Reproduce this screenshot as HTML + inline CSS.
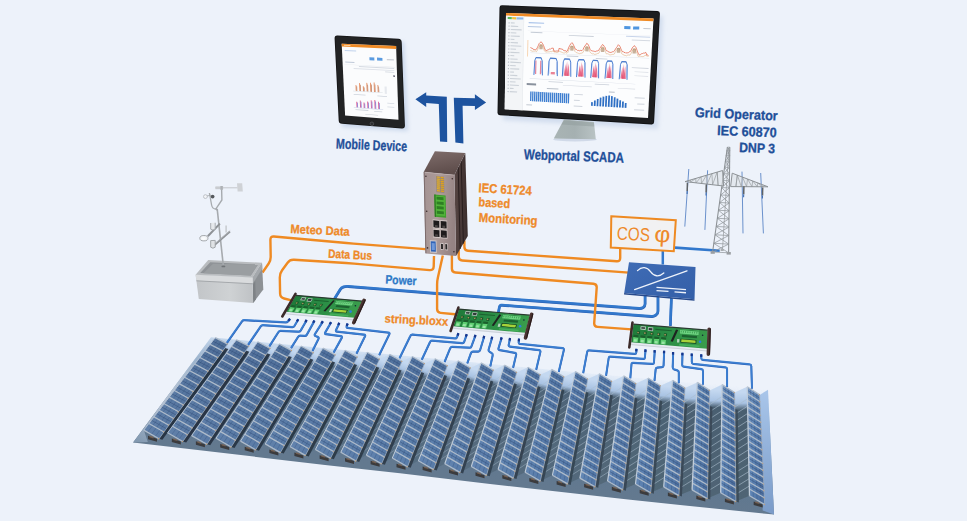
<!DOCTYPE html>
<html><head><meta charset="utf-8"><title>PV monitoring</title>
<style>
html,body{margin:0;padding:0;background:#edf2fa;}
body{width:967px;height:521px;overflow:hidden;font-family:"Liberation Sans",sans-serif;}
svg{display:block}
text{font-family:"Liberation Sans",sans-serif;}
</style></head><body>
<svg width="967" height="521" viewBox="0 0 967 521">
<defs>
<linearGradient id="bg" x1="0" y1="0" x2="1" y2="0"><stop offset="0" stop-color="#edf2fa"/><stop offset="1" stop-color="#f0f4fb"/></linearGradient>
<linearGradient id="gnd" gradientUnits="userSpaceOnUse" x1="420" y1="345" x2="400" y2="500"><stop offset="0" stop-color="#dbe7f5" stop-opacity="0.0"/><stop offset="0.10" stop-color="#c6d9ef" stop-opacity="0.8"/><stop offset="0.28" stop-color="#7f9dbd" stop-opacity="1"/><stop offset="0.6" stop-color="#5f7790"/><stop offset="1" stop-color="#677b8e"/></linearGradient>
<filter id="fblur" x="-2%" y="-5%" width="104%" height="110%"><feGaussianBlur stdDeviation="0.38"/></filter>
<linearGradient id="gndR" gradientUnits="userSpaceOnUse" x1="760" y1="390" x2="770" y2="512"><stop offset="0" stop-color="#a9c6ea"/><stop offset="1" stop-color="#7b9cc9"/></linearGradient>
<linearGradient id="gndL" gradientUnits="userSpaceOnUse" x1="205" y1="340" x2="135" y2="442"><stop offset="0" stop-color="#e6edf7" stop-opacity="0"/><stop offset="0.3" stop-color="#dde6f1" stop-opacity="0.5"/><stop offset="0.65" stop-color="#b4c2d4"/><stop offset="1" stop-color="#8097ae"/></linearGradient>
<linearGradient id="gap0" gradientUnits="userSpaceOnUse" x1="227.7" y1="344.1" x2="159.0" y2="438.8"><stop offset="0" stop-color="#c4d8f0"/><stop offset="0.042" stop-color="#a9c3e3"/><stop offset="0.080" stop-color="rgb(88,112,138)"/><stop offset="1" stop-color="rgb(94,118,142)"/></linearGradient>
<linearGradient id="gap1" gradientUnits="userSpaceOnUse" x1="248.9" y1="346.2" x2="182.8" y2="441.5"><stop offset="0" stop-color="#c4d8f0"/><stop offset="0.045" stop-color="#a9c3e3"/><stop offset="0.084" stop-color="rgb(87,111,136)"/><stop offset="1" stop-color="rgb(93,117,140)"/></linearGradient>
<linearGradient id="gap2" gradientUnits="userSpaceOnUse" x1="270.2" y1="348.4" x2="206.9" y2="444.3"><stop offset="0" stop-color="#c4d8f0"/><stop offset="0.047" stop-color="#a9c3e3"/><stop offset="0.087" stop-color="rgb(86,110,135)"/><stop offset="1" stop-color="rgb(92,116,139)"/></linearGradient>
<linearGradient id="gap3" gradientUnits="userSpaceOnUse" x1="291.7" y1="350.6" x2="231.2" y2="447.0"><stop offset="0" stop-color="#c4d8f0"/><stop offset="0.050" stop-color="#a9c3e3"/><stop offset="0.091" stop-color="rgb(86,109,134)"/><stop offset="1" stop-color="rgb(92,115,138)"/></linearGradient>
<linearGradient id="gap4" gradientUnits="userSpaceOnUse" x1="313.4" y1="352.7" x2="255.7" y2="449.8"><stop offset="0" stop-color="#c4d8f0"/><stop offset="0.052" stop-color="#a9c3e3"/><stop offset="0.095" stop-color="rgb(85,108,133)"/><stop offset="1" stop-color="rgb(91,114,137)"/></linearGradient>
<linearGradient id="gap5" gradientUnits="userSpaceOnUse" x1="335.3" y1="354.9" x2="280.4" y2="452.6"><stop offset="0" stop-color="#c4d8f0"/><stop offset="0.055" stop-color="#a9c3e3"/><stop offset="0.098" stop-color="rgb(84,108,132)"/><stop offset="1" stop-color="rgb(90,114,136)"/></linearGradient>
<linearGradient id="gap6" gradientUnits="userSpaceOnUse" x1="357.4" y1="357.1" x2="305.4" y2="455.4"><stop offset="0" stop-color="#c4d8f0"/><stop offset="0.057" stop-color="#a9c3e3"/><stop offset="0.102" stop-color="rgb(84,107,130)"/><stop offset="1" stop-color="rgb(90,113,134)"/></linearGradient>
<linearGradient id="gap7" gradientUnits="userSpaceOnUse" x1="379.6" y1="359.2" x2="330.6" y2="458.2"><stop offset="0" stop-color="#c4d8f0"/><stop offset="0.060" stop-color="#a9c3e3"/><stop offset="0.105" stop-color="rgb(83,106,129)"/><stop offset="1" stop-color="rgb(89,112,133)"/></linearGradient>
<linearGradient id="gap8" gradientUnits="userSpaceOnUse" x1="402.0" y1="361.4" x2="356.0" y2="461.0"><stop offset="0" stop-color="#c4d8f0"/><stop offset="0.062" stop-color="#a9c3e3"/><stop offset="0.109" stop-color="rgb(82,105,128)"/><stop offset="1" stop-color="rgb(88,111,132)"/></linearGradient>
<linearGradient id="gap9" gradientUnits="userSpaceOnUse" x1="424.6" y1="363.6" x2="381.6" y2="463.8"><stop offset="0" stop-color="#c4d8f0"/><stop offset="0.065" stop-color="#a9c3e3"/><stop offset="0.113" stop-color="rgb(82,105,127)"/><stop offset="1" stop-color="rgb(88,111,131)"/></linearGradient>
<linearGradient id="gap10" gradientUnits="userSpaceOnUse" x1="447.4" y1="365.8" x2="407.5" y2="466.7"><stop offset="0" stop-color="#c4d8f0"/><stop offset="0.067" stop-color="#a9c3e3"/><stop offset="0.116" stop-color="rgb(81,104,126)"/><stop offset="1" stop-color="rgb(87,110,130)"/></linearGradient>
<linearGradient id="gap11" gradientUnits="userSpaceOnUse" x1="470.4" y1="368.0" x2="433.6" y2="469.5"><stop offset="0" stop-color="#c4d8f0"/><stop offset="0.070" stop-color="#a9c3e3"/><stop offset="0.120" stop-color="rgb(81,103,125)"/><stop offset="1" stop-color="rgb(87,109,129)"/></linearGradient>
<linearGradient id="gap12" gradientUnits="userSpaceOnUse" x1="493.5" y1="370.2" x2="460.0" y2="472.4"><stop offset="0" stop-color="#c4d8f0"/><stop offset="0.073" stop-color="#a9c3e3"/><stop offset="0.124" stop-color="rgb(80,102,123)"/><stop offset="1" stop-color="rgb(86,108,127)"/></linearGradient>
<linearGradient id="gap13" gradientUnits="userSpaceOnUse" x1="516.8" y1="372.4" x2="486.5" y2="475.2"><stop offset="0" stop-color="#c4d8f0"/><stop offset="0.075" stop-color="#a9c3e3"/><stop offset="0.127" stop-color="rgb(79,101,122)"/><stop offset="1" stop-color="rgb(85,107,126)"/></linearGradient>
<linearGradient id="gap14" gradientUnits="userSpaceOnUse" x1="540.3" y1="374.7" x2="513.3" y2="478.1"><stop offset="0" stop-color="#c4d8f0"/><stop offset="0.078" stop-color="#a9c3e3"/><stop offset="0.131" stop-color="rgb(79,101,121)"/><stop offset="1" stop-color="rgb(85,107,125)"/></linearGradient>
<linearGradient id="gap15" gradientUnits="userSpaceOnUse" x1="564.0" y1="376.9" x2="540.3" y2="481.0"><stop offset="0" stop-color="#c4d8f0"/><stop offset="0.080" stop-color="#a9c3e3"/><stop offset="0.135" stop-color="rgb(78,100,120)"/><stop offset="1" stop-color="rgb(84,106,124)"/></linearGradient>
<linearGradient id="gap16" gradientUnits="userSpaceOnUse" x1="587.8" y1="379.1" x2="567.6" y2="483.9"><stop offset="0" stop-color="#c4d8f0"/><stop offset="0.083" stop-color="#a9c3e3"/><stop offset="0.138" stop-color="rgb(77,99,119)"/><stop offset="1" stop-color="rgb(83,105,123)"/></linearGradient>
<linearGradient id="gap17" gradientUnits="userSpaceOnUse" x1="611.8" y1="381.4" x2="595.1" y2="486.8"><stop offset="0" stop-color="#c4d8f0"/><stop offset="0.085" stop-color="#a9c3e3"/><stop offset="0.142" stop-color="rgb(77,98,117)"/><stop offset="1" stop-color="rgb(83,104,121)"/></linearGradient>
<linearGradient id="gap18" gradientUnits="userSpaceOnUse" x1="636.0" y1="383.6" x2="622.8" y2="489.7"><stop offset="0" stop-color="#c4d8f0"/><stop offset="0.088" stop-color="#a9c3e3"/><stop offset="0.145" stop-color="rgb(76,98,116)"/><stop offset="1" stop-color="rgb(82,104,120)"/></linearGradient>
<linearGradient id="gap19" gradientUnits="userSpaceOnUse" x1="660.4" y1="385.8" x2="650.7" y2="492.7"><stop offset="0" stop-color="#c4d8f0"/><stop offset="0.090" stop-color="#a9c3e3"/><stop offset="0.149" stop-color="rgb(75,97,115)"/><stop offset="1" stop-color="rgb(81,103,119)"/></linearGradient>
<linearGradient id="gap20" gradientUnits="userSpaceOnUse" x1="685.0" y1="388.1" x2="678.9" y2="495.6"><stop offset="0" stop-color="#c4d8f0"/><stop offset="0.093" stop-color="#a9c3e3"/><stop offset="0.153" stop-color="rgb(75,96,114)"/><stop offset="1" stop-color="rgb(81,102,118)"/></linearGradient>
<linearGradient id="gap21" gradientUnits="userSpaceOnUse" x1="709.7" y1="390.4" x2="707.3" y2="498.6"><stop offset="0" stop-color="#c4d8f0"/><stop offset="0.095" stop-color="#a9c3e3"/><stop offset="0.156" stop-color="rgb(74,95,113)"/><stop offset="1" stop-color="rgb(80,101,117)"/></linearGradient>
<linearGradient id="gap22" gradientUnits="userSpaceOnUse" x1="734.6" y1="392.6" x2="735.9" y2="501.5"><stop offset="0" stop-color="#c4d8f0"/><stop offset="0.098" stop-color="#a9c3e3"/><stop offset="0.160" stop-color="rgb(74,95,112)"/><stop offset="1" stop-color="rgb(80,101,116)"/></linearGradient>
<linearGradient id="pan" x1="0" y1="0" x2="1" y2="0.4"><stop offset="0" stop-color="#6a92c4"/><stop offset="0.5" stop-color="#4f7bb2"/><stop offset="1" stop-color="#3d639a"/></linearGradient>
<linearGradient id="pan0" x1="0" y1="0" x2="1" y2="0.4"><stop offset="0" stop-color="rgb(112,142,180)"/><stop offset="0.5" stop-color="rgb(90,122,164)"/><stop offset="1" stop-color="rgb(74,104,146)"/></linearGradient>
<linearGradient id="pan1" x1="0" y1="0" x2="1" y2="0.4"><stop offset="0" stop-color="rgb(112,142,180)"/><stop offset="0.5" stop-color="rgb(90,122,164)"/><stop offset="1" stop-color="rgb(74,104,146)"/></linearGradient>
<linearGradient id="pan2" x1="0" y1="0" x2="1" y2="0.4"><stop offset="0" stop-color="rgb(112,143,181)"/><stop offset="0.5" stop-color="rgb(90,122,165)"/><stop offset="1" stop-color="rgb(74,104,147)"/></linearGradient>
<linearGradient id="pan3" x1="0" y1="0" x2="1" y2="0.4"><stop offset="0" stop-color="rgb(113,143,182)"/><stop offset="0.5" stop-color="rgb(90,123,166)"/><stop offset="1" stop-color="rgb(74,105,147)"/></linearGradient>
<linearGradient id="pan4" x1="0" y1="0" x2="1" y2="0.4"><stop offset="0" stop-color="rgb(113,144,183)"/><stop offset="0.5" stop-color="rgb(90,123,166)"/><stop offset="1" stop-color="rgb(74,105,148)"/></linearGradient>
<linearGradient id="pan5" x1="0" y1="0" x2="1" y2="0.4"><stop offset="0" stop-color="rgb(114,145,183)"/><stop offset="0.5" stop-color="rgb(90,124,167)"/><stop offset="1" stop-color="rgb(74,105,149)"/></linearGradient>
<linearGradient id="pan6" x1="0" y1="0" x2="1" y2="0.4"><stop offset="0" stop-color="rgb(114,145,184)"/><stop offset="0.5" stop-color="rgb(91,124,168)"/><stop offset="1" stop-color="rgb(75,106,149)"/></linearGradient>
<linearGradient id="pan7" x1="0" y1="0" x2="1" y2="0.4"><stop offset="0" stop-color="rgb(115,146,185)"/><stop offset="0.5" stop-color="rgb(91,125,168)"/><stop offset="1" stop-color="rgb(75,106,150)"/></linearGradient>
<linearGradient id="pan8" x1="0" y1="0" x2="1" y2="0.4"><stop offset="0" stop-color="rgb(115,146,186)"/><stop offset="0.5" stop-color="rgb(91,125,169)"/><stop offset="1" stop-color="rgb(75,106,150)"/></linearGradient>
<linearGradient id="pan9" x1="0" y1="0" x2="1" y2="0.4"><stop offset="0" stop-color="rgb(115,147,187)"/><stop offset="0.5" stop-color="rgb(91,125,170)"/><stop offset="1" stop-color="rgb(75,107,151)"/></linearGradient>
<linearGradient id="pan10" x1="0" y1="0" x2="1" y2="0.4"><stop offset="0" stop-color="rgb(116,148,187)"/><stop offset="0.5" stop-color="rgb(91,126,170)"/><stop offset="1" stop-color="rgb(75,107,152)"/></linearGradient>
<linearGradient id="pan11" x1="0" y1="0" x2="1" y2="0.4"><stop offset="0" stop-color="rgb(116,148,188)"/><stop offset="0.5" stop-color="rgb(91,126,171)"/><stop offset="1" stop-color="rgb(75,107,152)"/></linearGradient>
<linearGradient id="pan12" x1="0" y1="0" x2="1" y2="0.4"><stop offset="0" stop-color="rgb(117,149,189)"/><stop offset="0.5" stop-color="rgb(92,127,172)"/><stop offset="1" stop-color="rgb(76,108,153)"/></linearGradient>
<linearGradient id="pan13" x1="0" y1="0" x2="1" y2="0.4"><stop offset="0" stop-color="rgb(117,149,190)"/><stop offset="0.5" stop-color="rgb(92,127,173)"/><stop offset="1" stop-color="rgb(76,108,153)"/></linearGradient>
<linearGradient id="pan14" x1="0" y1="0" x2="1" y2="0.4"><stop offset="0" stop-color="rgb(118,150,190)"/><stop offset="0.5" stop-color="rgb(92,128,173)"/><stop offset="1" stop-color="rgb(76,108,154)"/></linearGradient>
<linearGradient id="pan15" x1="0" y1="0" x2="1" y2="0.4"><stop offset="0" stop-color="rgb(118,151,191)"/><stop offset="0.5" stop-color="rgb(92,128,174)"/><stop offset="1" stop-color="rgb(76,109,155)"/></linearGradient>
<linearGradient id="pan16" x1="0" y1="0" x2="1" y2="0.4"><stop offset="0" stop-color="rgb(118,151,192)"/><stop offset="0.5" stop-color="rgb(92,128,175)"/><stop offset="1" stop-color="rgb(76,109,155)"/></linearGradient>
<linearGradient id="pan17" x1="0" y1="0" x2="1" y2="0.4"><stop offset="0" stop-color="rgb(119,152,193)"/><stop offset="0.5" stop-color="rgb(92,129,175)"/><stop offset="1" stop-color="rgb(76,109,156)"/></linearGradient>
<linearGradient id="pan18" x1="0" y1="0" x2="1" y2="0.4"><stop offset="0" stop-color="rgb(119,152,194)"/><stop offset="0.5" stop-color="rgb(93,129,176)"/><stop offset="1" stop-color="rgb(77,110,156)"/></linearGradient>
<linearGradient id="pan19" x1="0" y1="0" x2="1" y2="0.4"><stop offset="0" stop-color="rgb(120,153,194)"/><stop offset="0.5" stop-color="rgb(93,130,177)"/><stop offset="1" stop-color="rgb(77,110,157)"/></linearGradient>
<linearGradient id="pan20" x1="0" y1="0" x2="1" y2="0.4"><stop offset="0" stop-color="rgb(120,154,195)"/><stop offset="0.5" stop-color="rgb(93,130,177)"/><stop offset="1" stop-color="rgb(77,110,158)"/></linearGradient>
<linearGradient id="pan21" x1="0" y1="0" x2="1" y2="0.4"><stop offset="0" stop-color="rgb(121,154,196)"/><stop offset="0.5" stop-color="rgb(93,131,178)"/><stop offset="1" stop-color="rgb(77,111,158)"/></linearGradient>
<linearGradient id="pan22" x1="0" y1="0" x2="1" y2="0.4"><stop offset="0" stop-color="rgb(121,155,197)"/><stop offset="0.5" stop-color="rgb(93,131,179)"/><stop offset="1" stop-color="rgb(77,111,159)"/></linearGradient>
<linearGradient id="pan23" x1="0" y1="0" x2="1" y2="0.4"><stop offset="0" stop-color="rgb(122,156,198)"/><stop offset="0.5" stop-color="rgb(94,132,180)"/><stop offset="1" stop-color="rgb(78,112,160)"/></linearGradient>
<linearGradient id="pcb1" gradientUnits="userSpaceOnUse" x1="295.9" y1="295.3" x2="354.4" y2="317.8"><stop offset="0" stop-color="#1f7a3a"/><stop offset="0.5" stop-color="#2c8f46"/><stop offset="1" stop-color="#3a9c4c"/></linearGradient>
<linearGradient id="pcb2" gradientUnits="userSpaceOnUse" x1="459.1" y1="309.1" x2="525.3" y2="332.8"><stop offset="0" stop-color="#1f7a3a"/><stop offset="0.5" stop-color="#2c8f46"/><stop offset="1" stop-color="#3a9c4c"/></linearGradient>
<linearGradient id="pcb3" gradientUnits="userSpaceOnUse" x1="633.5" y1="324.1" x2="707.1" y2="348.7"><stop offset="0" stop-color="#1f7a3a"/><stop offset="0.5" stop-color="#2c8f46"/><stop offset="1" stop-color="#3a9c4c"/></linearGradient>
<linearGradient id="cfront" x1="0" y1="0" x2="1" y2="0.2"><stop offset="0" stop-color="#a39292"/><stop offset="0.5" stop-color="#ad9c9a"/><stop offset="1" stop-color="#958383"/></linearGradient>
<linearGradient id="ctop" x1="0" y1="0" x2="0.3" y2="1"><stop offset="0" stop-color="#7f6d6b"/><stop offset="1" stop-color="#5e4d4b"/></linearGradient>
<linearGradient id="cside" x1="0" y1="0" x2="1" y2="0"><stop offset="0" stop-color="#574644"/><stop offset="1" stop-color="#3a2d2c"/></linearGradient>
<linearGradient id="wfront" x1="0" y1="0" x2="1" y2="0"><stop offset="0" stop-color="#c2c5c8"/><stop offset="0.6" stop-color="#cfd2d4"/><stop offset="1" stop-color="#bfc2c5"/></linearGradient>
<linearGradient id="inv" x1="0" y1="0" x2="1" y2="1"><stop offset="0" stop-color="#3f6cb5"/><stop offset="1" stop-color="#345fa8"/></linearGradient>
<filter id="blur2" x="-20%" y="-20%" width="140%" height="140%"><feGaussianBlur stdDeviation="2.2"/></filter>
<filter id="blur1" x="-20%" y="-20%" width="140%" height="140%"><feGaussianBlur stdDeviation="0.5"/></filter>
<linearGradient id="stand" x1="0" y1="0" x2="1" y2="0"><stop offset="0" stop-color="#a9b4b4"/><stop offset="0.5" stop-color="#a5b0b1"/><stop offset="1" stop-color="#b9c3c4"/></linearGradient>
</defs>
<rect width="967" height="521" fill="#edf2fa"/>
<g filter="url(#fblur)">
<polygon points="211.0,337.2 590.0,373.5 768.0,389.8 774.0,514.6 680.0,505.0 628.0,499.6 490.0,484.0 400.0,473.3 325.0,465.0 133.1,442.4" fill="url(#gnd)"/>
<polygon points="759.7,394.9 768.0,389.8 774.0,514.6 762.7,510.5" fill="url(#gndR)"/>
<polygon points="211.0,337.2 215.2,337.7 143.8,430.1 147.8,442.1 133.1,442.4" fill="url(#gndL)"/>
<polygon points="227.7,344.1 236.4,339.8 167.6,432.8 159.0,438.8" fill="url(#gap0)"/>
<line x1="218.5" y1="356.7" x2="228.8" y2="350.0" stroke="#a9bccd" stroke-opacity="0.15" stroke-width="0.9"/>
<line x1="214.0" y1="363.0" x2="224.2" y2="356.2" stroke="#a9bccd" stroke-opacity="0.15" stroke-width="0.9"/>
<line x1="209.4" y1="369.4" x2="219.6" y2="362.4" stroke="#a9bccd" stroke-opacity="0.15" stroke-width="0.9"/>
<line x1="204.8" y1="375.7" x2="215.1" y2="368.6" stroke="#a9bccd" stroke-opacity="0.15" stroke-width="0.9"/>
<line x1="200.2" y1="382.0" x2="210.5" y2="374.8" stroke="#a9bccd" stroke-opacity="0.15" stroke-width="0.9"/>
<line x1="195.6" y1="388.3" x2="205.9" y2="381.0" stroke="#a9bccd" stroke-opacity="0.15" stroke-width="0.9"/>
<line x1="191.1" y1="394.6" x2="201.3" y2="387.2" stroke="#a9bccd" stroke-opacity="0.15" stroke-width="0.9"/>
<line x1="186.5" y1="400.9" x2="196.7" y2="393.4" stroke="#a9bccd" stroke-opacity="0.15" stroke-width="0.9"/>
<line x1="181.9" y1="407.2" x2="192.1" y2="399.6" stroke="#a9bccd" stroke-opacity="0.15" stroke-width="0.9"/>
<line x1="177.3" y1="413.5" x2="187.6" y2="405.8" stroke="#a9bccd" stroke-opacity="0.15" stroke-width="0.9"/>
<line x1="172.7" y1="419.9" x2="183.0" y2="412.1" stroke="#a9bccd" stroke-opacity="0.15" stroke-width="0.9"/>
<line x1="168.2" y1="426.2" x2="178.4" y2="418.3" stroke="#a9bccd" stroke-opacity="0.15" stroke-width="0.9"/>
<line x1="163.6" y1="432.5" x2="173.8" y2="424.5" stroke="#a9bccd" stroke-opacity="0.15" stroke-width="0.9"/>
<polygon points="225.0,347.9 228.4,349.1 162.4,439.8 159.0,438.8" fill="rgb(34,46,60)" fill-opacity="0.9"/>
<polygon points="248.9,346.2 257.7,341.8 191.7,435.6 182.8,441.5" fill="url(#gap1)"/>
<line x1="240.1" y1="359.0" x2="250.5" y2="352.2" stroke="#a9bccd" stroke-opacity="0.17" stroke-width="0.9"/>
<line x1="235.7" y1="365.3" x2="246.0" y2="358.4" stroke="#a9bccd" stroke-opacity="0.17" stroke-width="0.9"/>
<line x1="231.3" y1="371.7" x2="241.6" y2="364.7" stroke="#a9bccd" stroke-opacity="0.17" stroke-width="0.9"/>
<line x1="226.9" y1="378.0" x2="237.2" y2="370.9" stroke="#a9bccd" stroke-opacity="0.17" stroke-width="0.9"/>
<line x1="222.5" y1="384.4" x2="232.8" y2="377.2" stroke="#a9bccd" stroke-opacity="0.17" stroke-width="0.9"/>
<line x1="218.0" y1="390.7" x2="228.4" y2="383.4" stroke="#a9bccd" stroke-opacity="0.17" stroke-width="0.9"/>
<line x1="213.6" y1="397.1" x2="224.0" y2="389.7" stroke="#a9bccd" stroke-opacity="0.17" stroke-width="0.9"/>
<line x1="209.2" y1="403.4" x2="219.6" y2="395.9" stroke="#a9bccd" stroke-opacity="0.17" stroke-width="0.9"/>
<line x1="204.8" y1="409.8" x2="215.2" y2="402.2" stroke="#a9bccd" stroke-opacity="0.17" stroke-width="0.9"/>
<line x1="200.4" y1="416.1" x2="210.8" y2="408.4" stroke="#a9bccd" stroke-opacity="0.17" stroke-width="0.9"/>
<line x1="196.0" y1="422.5" x2="206.4" y2="414.6" stroke="#a9bccd" stroke-opacity="0.17" stroke-width="0.9"/>
<line x1="191.6" y1="428.8" x2="202.0" y2="420.9" stroke="#a9bccd" stroke-opacity="0.17" stroke-width="0.9"/>
<line x1="187.2" y1="435.2" x2="197.6" y2="427.1" stroke="#a9bccd" stroke-opacity="0.17" stroke-width="0.9"/>
<polygon points="245.9,350.5 249.3,351.7 186.2,442.5 182.8,441.5" fill="rgb(35,47,61)" fill-opacity="0.9"/>
<polygon points="270.2,348.4 279.2,343.9 216.0,438.3 206.9,444.3" fill="url(#gap2)"/>
<line x1="261.8" y1="361.2" x2="272.3" y2="354.3" stroke="#a9bccd" stroke-opacity="0.20" stroke-width="0.9"/>
<line x1="257.5" y1="367.6" x2="268.1" y2="360.6" stroke="#a9bccd" stroke-opacity="0.20" stroke-width="0.9"/>
<line x1="253.3" y1="374.0" x2="263.8" y2="366.9" stroke="#a9bccd" stroke-opacity="0.20" stroke-width="0.9"/>
<line x1="249.1" y1="380.4" x2="259.6" y2="373.2" stroke="#a9bccd" stroke-opacity="0.20" stroke-width="0.9"/>
<line x1="244.9" y1="386.8" x2="255.4" y2="379.5" stroke="#a9bccd" stroke-opacity="0.20" stroke-width="0.9"/>
<line x1="240.7" y1="393.1" x2="251.2" y2="385.8" stroke="#a9bccd" stroke-opacity="0.20" stroke-width="0.9"/>
<line x1="236.4" y1="399.5" x2="247.0" y2="392.1" stroke="#a9bccd" stroke-opacity="0.20" stroke-width="0.9"/>
<line x1="232.2" y1="405.9" x2="242.7" y2="398.4" stroke="#a9bccd" stroke-opacity="0.20" stroke-width="0.9"/>
<line x1="228.0" y1="412.3" x2="238.5" y2="404.7" stroke="#a9bccd" stroke-opacity="0.20" stroke-width="0.9"/>
<line x1="223.8" y1="418.7" x2="234.3" y2="411.0" stroke="#a9bccd" stroke-opacity="0.20" stroke-width="0.9"/>
<line x1="219.5" y1="425.1" x2="230.1" y2="417.3" stroke="#a9bccd" stroke-opacity="0.20" stroke-width="0.9"/>
<line x1="215.3" y1="431.5" x2="225.9" y2="423.6" stroke="#a9bccd" stroke-opacity="0.20" stroke-width="0.9"/>
<line x1="211.1" y1="437.9" x2="221.7" y2="429.8" stroke="#a9bccd" stroke-opacity="0.20" stroke-width="0.9"/>
<polygon points="267.0,353.2 270.4,354.4 210.2,445.3 206.9,444.3" fill="rgb(36,48,62)" fill-opacity="0.9"/>
<polygon points="291.7,350.6 300.9,346.0 240.5,441.1 231.2,447.0" fill="url(#gap3)"/>
<line x1="283.7" y1="363.4" x2="294.3" y2="356.5" stroke="#a9bccd" stroke-opacity="0.22" stroke-width="0.9"/>
<line x1="279.6" y1="369.8" x2="290.3" y2="362.8" stroke="#a9bccd" stroke-opacity="0.22" stroke-width="0.9"/>
<line x1="275.6" y1="376.3" x2="286.2" y2="369.2" stroke="#a9bccd" stroke-opacity="0.22" stroke-width="0.9"/>
<line x1="271.5" y1="382.7" x2="282.2" y2="375.5" stroke="#a9bccd" stroke-opacity="0.22" stroke-width="0.9"/>
<line x1="267.5" y1="389.1" x2="278.2" y2="381.8" stroke="#a9bccd" stroke-opacity="0.22" stroke-width="0.9"/>
<line x1="263.5" y1="395.6" x2="274.1" y2="388.2" stroke="#a9bccd" stroke-opacity="0.22" stroke-width="0.9"/>
<line x1="259.4" y1="402.0" x2="270.1" y2="394.5" stroke="#a9bccd" stroke-opacity="0.22" stroke-width="0.9"/>
<line x1="255.4" y1="408.4" x2="266.1" y2="400.9" stroke="#a9bccd" stroke-opacity="0.22" stroke-width="0.9"/>
<line x1="251.4" y1="414.9" x2="262.0" y2="407.2" stroke="#a9bccd" stroke-opacity="0.22" stroke-width="0.9"/>
<line x1="247.3" y1="421.3" x2="258.0" y2="413.5" stroke="#a9bccd" stroke-opacity="0.22" stroke-width="0.9"/>
<line x1="243.3" y1="427.7" x2="254.0" y2="419.9" stroke="#a9bccd" stroke-opacity="0.22" stroke-width="0.9"/>
<line x1="239.2" y1="434.2" x2="249.9" y2="426.2" stroke="#a9bccd" stroke-opacity="0.22" stroke-width="0.9"/>
<line x1="235.2" y1="440.6" x2="245.9" y2="432.6" stroke="#a9bccd" stroke-opacity="0.22" stroke-width="0.9"/>
<polygon points="288.4,355.9 291.8,357.0 234.5,448.0 231.2,447.0" fill="rgb(37,49,63)" fill-opacity="0.9"/>
<polygon points="313.4,352.7 322.8,348.1 265.2,443.9 255.7,449.8" fill="url(#gap4)"/>
<line x1="305.7" y1="365.7" x2="316.5" y2="358.6" stroke="#a9bccd" stroke-opacity="0.25" stroke-width="0.9"/>
<line x1="301.9" y1="372.1" x2="312.6" y2="365.0" stroke="#a9bccd" stroke-opacity="0.25" stroke-width="0.9"/>
<line x1="298.0" y1="378.6" x2="308.8" y2="371.4" stroke="#a9bccd" stroke-opacity="0.25" stroke-width="0.9"/>
<line x1="294.2" y1="385.1" x2="305.0" y2="377.8" stroke="#a9bccd" stroke-opacity="0.25" stroke-width="0.9"/>
<line x1="290.3" y1="391.6" x2="301.1" y2="384.2" stroke="#a9bccd" stroke-opacity="0.25" stroke-width="0.9"/>
<line x1="286.5" y1="398.0" x2="297.3" y2="390.6" stroke="#a9bccd" stroke-opacity="0.25" stroke-width="0.9"/>
<line x1="282.6" y1="404.5" x2="293.4" y2="397.0" stroke="#a9bccd" stroke-opacity="0.25" stroke-width="0.9"/>
<line x1="278.8" y1="411.0" x2="289.6" y2="403.3" stroke="#a9bccd" stroke-opacity="0.25" stroke-width="0.9"/>
<line x1="274.9" y1="417.4" x2="285.8" y2="409.7" stroke="#a9bccd" stroke-opacity="0.25" stroke-width="0.9"/>
<line x1="271.1" y1="423.9" x2="281.9" y2="416.1" stroke="#a9bccd" stroke-opacity="0.25" stroke-width="0.9"/>
<line x1="267.2" y1="430.4" x2="278.1" y2="422.5" stroke="#a9bccd" stroke-opacity="0.25" stroke-width="0.9"/>
<line x1="263.4" y1="436.9" x2="274.2" y2="428.9" stroke="#a9bccd" stroke-opacity="0.25" stroke-width="0.9"/>
<line x1="259.5" y1="443.3" x2="270.4" y2="435.3" stroke="#a9bccd" stroke-opacity="0.25" stroke-width="0.9"/>
<polygon points="310.0,358.5 313.3,359.7 259.0,450.8 255.7,449.8" fill="rgb(38,51,65)" fill-opacity="0.9"/>
<polygon points="335.3,354.9 344.9,350.2 290.2,446.7 280.4,452.6" fill="url(#gap5)"/>
<line x1="328.0" y1="367.9" x2="338.9" y2="360.8" stroke="#a9bccd" stroke-opacity="0.27" stroke-width="0.9"/>
<line x1="324.3" y1="374.4" x2="335.2" y2="367.3" stroke="#a9bccd" stroke-opacity="0.27" stroke-width="0.9"/>
<line x1="320.7" y1="380.9" x2="331.6" y2="373.7" stroke="#a9bccd" stroke-opacity="0.27" stroke-width="0.9"/>
<line x1="317.0" y1="387.5" x2="327.9" y2="380.1" stroke="#a9bccd" stroke-opacity="0.27" stroke-width="0.9"/>
<line x1="313.4" y1="394.0" x2="324.3" y2="386.5" stroke="#a9bccd" stroke-opacity="0.27" stroke-width="0.9"/>
<line x1="309.7" y1="400.5" x2="320.6" y2="393.0" stroke="#a9bccd" stroke-opacity="0.27" stroke-width="0.9"/>
<line x1="306.0" y1="407.0" x2="317.0" y2="399.4" stroke="#a9bccd" stroke-opacity="0.27" stroke-width="0.9"/>
<line x1="302.4" y1="413.5" x2="313.3" y2="405.8" stroke="#a9bccd" stroke-opacity="0.27" stroke-width="0.9"/>
<line x1="298.7" y1="420.0" x2="309.7" y2="412.3" stroke="#a9bccd" stroke-opacity="0.27" stroke-width="0.9"/>
<line x1="295.1" y1="426.5" x2="306.0" y2="418.7" stroke="#a9bccd" stroke-opacity="0.27" stroke-width="0.9"/>
<line x1="291.4" y1="433.0" x2="302.4" y2="425.1" stroke="#a9bccd" stroke-opacity="0.27" stroke-width="0.9"/>
<line x1="287.7" y1="439.6" x2="298.7" y2="431.6" stroke="#a9bccd" stroke-opacity="0.27" stroke-width="0.9"/>
<line x1="284.1" y1="446.1" x2="295.1" y2="438.0" stroke="#a9bccd" stroke-opacity="0.27" stroke-width="0.9"/>
<polygon points="331.8,361.2 335.1,362.4 283.7,453.6 280.4,452.6" fill="rgb(39,52,66)" fill-opacity="0.9"/>
<polygon points="357.4,357.1 367.1,352.3 315.4,449.5 305.4,455.4" fill="url(#gap6)"/>
<line x1="350.5" y1="370.2" x2="361.4" y2="363.0" stroke="#a9bccd" stroke-opacity="0.30" stroke-width="0.9"/>
<line x1="347.0" y1="376.7" x2="358.0" y2="369.5" stroke="#a9bccd" stroke-opacity="0.30" stroke-width="0.9"/>
<line x1="343.5" y1="383.3" x2="354.5" y2="376.0" stroke="#a9bccd" stroke-opacity="0.30" stroke-width="0.9"/>
<line x1="340.1" y1="389.8" x2="351.1" y2="382.4" stroke="#a9bccd" stroke-opacity="0.30" stroke-width="0.9"/>
<line x1="336.6" y1="396.4" x2="347.6" y2="388.9" stroke="#a9bccd" stroke-opacity="0.30" stroke-width="0.9"/>
<line x1="333.1" y1="402.9" x2="344.2" y2="395.4" stroke="#a9bccd" stroke-opacity="0.30" stroke-width="0.9"/>
<line x1="329.6" y1="409.5" x2="340.7" y2="401.9" stroke="#a9bccd" stroke-opacity="0.30" stroke-width="0.9"/>
<line x1="326.2" y1="416.1" x2="337.3" y2="408.4" stroke="#a9bccd" stroke-opacity="0.30" stroke-width="0.9"/>
<line x1="322.7" y1="422.6" x2="333.8" y2="414.8" stroke="#a9bccd" stroke-opacity="0.30" stroke-width="0.9"/>
<line x1="319.2" y1="429.2" x2="330.4" y2="421.3" stroke="#a9bccd" stroke-opacity="0.30" stroke-width="0.9"/>
<line x1="315.8" y1="435.7" x2="326.9" y2="427.8" stroke="#a9bccd" stroke-opacity="0.30" stroke-width="0.9"/>
<line x1="312.3" y1="442.3" x2="323.5" y2="434.3" stroke="#a9bccd" stroke-opacity="0.30" stroke-width="0.9"/>
<line x1="308.8" y1="448.8" x2="320.0" y2="440.7" stroke="#a9bccd" stroke-opacity="0.30" stroke-width="0.9"/>
<polygon points="353.7,363.9 357.0,365.1 308.7,456.4 305.4,455.4" fill="rgb(40,53,67)" fill-opacity="0.9"/>
<polygon points="379.6,359.2 389.5,354.4 340.8,452.3 330.6,458.2" fill="url(#gap7)"/>
<line x1="373.1" y1="372.4" x2="384.2" y2="365.2" stroke="#a9bccd" stroke-opacity="0.32" stroke-width="0.9"/>
<line x1="369.8" y1="379.0" x2="380.9" y2="371.7" stroke="#a9bccd" stroke-opacity="0.32" stroke-width="0.9"/>
<line x1="366.5" y1="385.6" x2="377.7" y2="378.2" stroke="#a9bccd" stroke-opacity="0.32" stroke-width="0.9"/>
<line x1="363.3" y1="392.2" x2="374.4" y2="384.8" stroke="#a9bccd" stroke-opacity="0.32" stroke-width="0.9"/>
<line x1="360.0" y1="398.8" x2="371.2" y2="391.3" stroke="#a9bccd" stroke-opacity="0.32" stroke-width="0.9"/>
<line x1="356.7" y1="405.4" x2="367.9" y2="397.8" stroke="#a9bccd" stroke-opacity="0.32" stroke-width="0.9"/>
<line x1="353.5" y1="412.0" x2="364.7" y2="404.3" stroke="#a9bccd" stroke-opacity="0.32" stroke-width="0.9"/>
<line x1="350.2" y1="418.6" x2="361.4" y2="410.9" stroke="#a9bccd" stroke-opacity="0.32" stroke-width="0.9"/>
<line x1="346.9" y1="425.2" x2="358.2" y2="417.4" stroke="#a9bccd" stroke-opacity="0.32" stroke-width="0.9"/>
<line x1="343.6" y1="431.8" x2="354.9" y2="423.9" stroke="#a9bccd" stroke-opacity="0.32" stroke-width="0.9"/>
<line x1="340.4" y1="438.4" x2="351.7" y2="430.4" stroke="#a9bccd" stroke-opacity="0.32" stroke-width="0.9"/>
<line x1="337.1" y1="445.0" x2="348.4" y2="437.0" stroke="#a9bccd" stroke-opacity="0.32" stroke-width="0.9"/>
<line x1="333.8" y1="451.6" x2="345.2" y2="443.5" stroke="#a9bccd" stroke-opacity="0.32" stroke-width="0.9"/>
<polygon points="376.0,366.7 379.2,367.8 333.8,459.2 330.6,458.2" fill="rgb(41,54,68)" fill-opacity="0.9"/>
<polygon points="402.0,361.4 412.1,356.5 366.4,455.1 356.0,461.0" fill="url(#gap8)"/>
<line x1="395.9" y1="374.7" x2="407.1" y2="367.4" stroke="#a9bccd" stroke-opacity="0.35" stroke-width="0.9"/>
<line x1="392.8" y1="381.3" x2="404.1" y2="374.0" stroke="#a9bccd" stroke-opacity="0.35" stroke-width="0.9"/>
<line x1="389.8" y1="388.0" x2="401.0" y2="380.5" stroke="#a9bccd" stroke-opacity="0.35" stroke-width="0.9"/>
<line x1="386.7" y1="394.6" x2="398.0" y2="387.1" stroke="#a9bccd" stroke-opacity="0.35" stroke-width="0.9"/>
<line x1="383.6" y1="401.3" x2="394.9" y2="393.7" stroke="#a9bccd" stroke-opacity="0.35" stroke-width="0.9"/>
<line x1="380.6" y1="407.9" x2="391.9" y2="400.2" stroke="#a9bccd" stroke-opacity="0.35" stroke-width="0.9"/>
<line x1="377.5" y1="414.5" x2="388.8" y2="406.8" stroke="#a9bccd" stroke-opacity="0.35" stroke-width="0.9"/>
<line x1="374.4" y1="421.2" x2="385.8" y2="413.4" stroke="#a9bccd" stroke-opacity="0.35" stroke-width="0.9"/>
<line x1="371.3" y1="427.8" x2="382.7" y2="420.0" stroke="#a9bccd" stroke-opacity="0.35" stroke-width="0.9"/>
<line x1="368.3" y1="434.4" x2="379.7" y2="426.5" stroke="#a9bccd" stroke-opacity="0.35" stroke-width="0.9"/>
<line x1="365.2" y1="441.1" x2="376.6" y2="433.1" stroke="#a9bccd" stroke-opacity="0.35" stroke-width="0.9"/>
<line x1="362.1" y1="447.7" x2="373.6" y2="439.7" stroke="#a9bccd" stroke-opacity="0.35" stroke-width="0.9"/>
<line x1="359.1" y1="454.4" x2="370.6" y2="446.3" stroke="#a9bccd" stroke-opacity="0.35" stroke-width="0.9"/>
<polygon points="398.4,369.4 401.6,370.5 359.2,462.0 356.0,461.0" fill="rgb(42,56,70)" fill-opacity="0.9"/>
<polygon points="424.6,363.6 434.9,358.7 392.3,458.0 381.6,463.8" fill="url(#gap9)"/>
<line x1="418.9" y1="377.0" x2="430.2" y2="369.6" stroke="#a9bccd" stroke-opacity="0.38" stroke-width="0.9"/>
<line x1="416.0" y1="383.7" x2="427.4" y2="376.2" stroke="#a9bccd" stroke-opacity="0.38" stroke-width="0.9"/>
<line x1="413.2" y1="390.3" x2="424.6" y2="382.8" stroke="#a9bccd" stroke-opacity="0.38" stroke-width="0.9"/>
<line x1="410.3" y1="397.0" x2="421.7" y2="389.4" stroke="#a9bccd" stroke-opacity="0.38" stroke-width="0.9"/>
<line x1="407.4" y1="403.7" x2="418.9" y2="396.1" stroke="#a9bccd" stroke-opacity="0.38" stroke-width="0.9"/>
<line x1="404.6" y1="410.4" x2="416.0" y2="402.7" stroke="#a9bccd" stroke-opacity="0.38" stroke-width="0.9"/>
<line x1="401.7" y1="417.1" x2="413.2" y2="409.3" stroke="#a9bccd" stroke-opacity="0.38" stroke-width="0.9"/>
<line x1="398.8" y1="423.7" x2="410.4" y2="415.9" stroke="#a9bccd" stroke-opacity="0.38" stroke-width="0.9"/>
<line x1="396.0" y1="430.4" x2="407.5" y2="422.5" stroke="#a9bccd" stroke-opacity="0.38" stroke-width="0.9"/>
<line x1="393.1" y1="437.1" x2="404.7" y2="429.2" stroke="#a9bccd" stroke-opacity="0.38" stroke-width="0.9"/>
<line x1="390.2" y1="443.8" x2="401.8" y2="435.8" stroke="#a9bccd" stroke-opacity="0.38" stroke-width="0.9"/>
<line x1="387.4" y1="450.5" x2="399.0" y2="442.4" stroke="#a9bccd" stroke-opacity="0.38" stroke-width="0.9"/>
<line x1="384.5" y1="457.1" x2="396.2" y2="449.0" stroke="#a9bccd" stroke-opacity="0.38" stroke-width="0.9"/>
<polygon points="421.0,372.1 424.2,373.3 384.9,464.8 381.6,463.8" fill="rgb(43,57,71)" fill-opacity="0.9"/>
<polygon points="447.4,365.8 457.9,360.8 418.4,460.8 407.5,466.7" fill="url(#gap10)"/>
<line x1="442.1" y1="379.3" x2="453.5" y2="371.8" stroke="#a9bccd" stroke-opacity="0.40" stroke-width="0.9"/>
<line x1="439.4" y1="386.0" x2="450.9" y2="378.5" stroke="#a9bccd" stroke-opacity="0.40" stroke-width="0.9"/>
<line x1="436.8" y1="392.7" x2="448.3" y2="385.1" stroke="#a9bccd" stroke-opacity="0.40" stroke-width="0.9"/>
<line x1="434.1" y1="399.4" x2="445.6" y2="391.8" stroke="#a9bccd" stroke-opacity="0.40" stroke-width="0.9"/>
<line x1="431.5" y1="406.1" x2="443.0" y2="398.5" stroke="#a9bccd" stroke-opacity="0.40" stroke-width="0.9"/>
<line x1="428.8" y1="412.9" x2="440.4" y2="405.1" stroke="#a9bccd" stroke-opacity="0.40" stroke-width="0.9"/>
<line x1="426.1" y1="419.6" x2="437.8" y2="411.8" stroke="#a9bccd" stroke-opacity="0.40" stroke-width="0.9"/>
<line x1="423.5" y1="426.3" x2="435.1" y2="418.5" stroke="#a9bccd" stroke-opacity="0.40" stroke-width="0.9"/>
<line x1="420.8" y1="433.0" x2="432.5" y2="425.1" stroke="#a9bccd" stroke-opacity="0.40" stroke-width="0.9"/>
<line x1="418.2" y1="439.8" x2="429.9" y2="431.8" stroke="#a9bccd" stroke-opacity="0.40" stroke-width="0.9"/>
<line x1="415.5" y1="446.5" x2="427.2" y2="438.5" stroke="#a9bccd" stroke-opacity="0.40" stroke-width="0.9"/>
<line x1="412.8" y1="453.2" x2="424.6" y2="445.1" stroke="#a9bccd" stroke-opacity="0.40" stroke-width="0.9"/>
<line x1="410.2" y1="459.9" x2="422.0" y2="451.8" stroke="#a9bccd" stroke-opacity="0.40" stroke-width="0.9"/>
<polygon points="443.8,374.9 447.0,376.0 410.7,467.7 407.5,466.7" fill="rgb(44,58,72)" fill-opacity="0.9"/>
<polygon points="470.4,368.0 481.0,362.9 444.8,463.7 433.6,469.5" fill="url(#gap11)"/>
<line x1="465.5" y1="381.5" x2="477.0" y2="374.0" stroke="#a9bccd" stroke-opacity="0.42" stroke-width="0.9"/>
<line x1="463.0" y1="388.3" x2="474.6" y2="380.7" stroke="#a9bccd" stroke-opacity="0.42" stroke-width="0.9"/>
<line x1="460.6" y1="395.1" x2="472.2" y2="387.4" stroke="#a9bccd" stroke-opacity="0.42" stroke-width="0.9"/>
<line x1="458.1" y1="401.8" x2="469.8" y2="394.2" stroke="#a9bccd" stroke-opacity="0.42" stroke-width="0.9"/>
<line x1="455.7" y1="408.6" x2="467.4" y2="400.9" stroke="#a9bccd" stroke-opacity="0.42" stroke-width="0.9"/>
<line x1="453.2" y1="415.4" x2="464.9" y2="407.6" stroke="#a9bccd" stroke-opacity="0.42" stroke-width="0.9"/>
<line x1="450.8" y1="422.1" x2="462.5" y2="414.3" stroke="#a9bccd" stroke-opacity="0.42" stroke-width="0.9"/>
<line x1="448.3" y1="428.9" x2="460.1" y2="421.0" stroke="#a9bccd" stroke-opacity="0.42" stroke-width="0.9"/>
<line x1="445.9" y1="435.7" x2="457.7" y2="427.7" stroke="#a9bccd" stroke-opacity="0.42" stroke-width="0.9"/>
<line x1="443.4" y1="442.4" x2="455.3" y2="434.4" stroke="#a9bccd" stroke-opacity="0.42" stroke-width="0.9"/>
<line x1="441.0" y1="449.2" x2="452.9" y2="441.2" stroke="#a9bccd" stroke-opacity="0.42" stroke-width="0.9"/>
<line x1="438.5" y1="456.0" x2="450.4" y2="447.9" stroke="#a9bccd" stroke-opacity="0.42" stroke-width="0.9"/>
<line x1="436.1" y1="462.7" x2="448.0" y2="454.6" stroke="#a9bccd" stroke-opacity="0.42" stroke-width="0.9"/>
<polygon points="466.9,377.7 470.1,378.8 436.8,470.5 433.6,469.5" fill="rgb(46,60,74)" fill-opacity="0.9"/>
<polygon points="493.5,370.2 504.3,365.1 471.3,466.5 460.0,472.4" fill="url(#gap12)"/>
<line x1="489.0" y1="383.8" x2="500.7" y2="376.2" stroke="#a9bccd" stroke-opacity="0.45" stroke-width="0.9"/>
<line x1="486.8" y1="390.6" x2="498.5" y2="383.0" stroke="#a9bccd" stroke-opacity="0.45" stroke-width="0.9"/>
<line x1="484.6" y1="397.5" x2="496.3" y2="389.8" stroke="#a9bccd" stroke-opacity="0.45" stroke-width="0.9"/>
<line x1="482.3" y1="404.3" x2="494.1" y2="396.5" stroke="#a9bccd" stroke-opacity="0.45" stroke-width="0.9"/>
<line x1="480.1" y1="411.1" x2="491.9" y2="403.3" stroke="#a9bccd" stroke-opacity="0.45" stroke-width="0.9"/>
<line x1="477.9" y1="417.9" x2="489.7" y2="410.1" stroke="#a9bccd" stroke-opacity="0.45" stroke-width="0.9"/>
<line x1="475.6" y1="424.7" x2="487.5" y2="416.8" stroke="#a9bccd" stroke-opacity="0.45" stroke-width="0.9"/>
<line x1="473.4" y1="431.5" x2="485.3" y2="423.6" stroke="#a9bccd" stroke-opacity="0.45" stroke-width="0.9"/>
<line x1="471.1" y1="438.3" x2="483.1" y2="430.3" stroke="#a9bccd" stroke-opacity="0.45" stroke-width="0.9"/>
<line x1="468.9" y1="445.1" x2="480.9" y2="437.1" stroke="#a9bccd" stroke-opacity="0.45" stroke-width="0.9"/>
<line x1="466.7" y1="451.9" x2="478.7" y2="443.9" stroke="#a9bccd" stroke-opacity="0.45" stroke-width="0.9"/>
<line x1="464.4" y1="458.7" x2="476.5" y2="450.6" stroke="#a9bccd" stroke-opacity="0.45" stroke-width="0.9"/>
<line x1="462.2" y1="465.6" x2="474.3" y2="457.4" stroke="#a9bccd" stroke-opacity="0.45" stroke-width="0.9"/>
<polygon points="490.2,380.4 493.3,381.5 463.1,473.4 460.0,472.4" fill="rgb(47,61,75)" fill-opacity="0.9"/>
<polygon points="516.8,372.4 527.8,367.2 498.1,469.4 486.5,475.2" fill="url(#gap13)"/>
<line x1="512.8" y1="386.1" x2="524.5" y2="378.5" stroke="#a9bccd" stroke-opacity="0.47" stroke-width="0.9"/>
<line x1="510.8" y1="393.0" x2="522.6" y2="385.3" stroke="#a9bccd" stroke-opacity="0.47" stroke-width="0.9"/>
<line x1="508.7" y1="399.8" x2="520.6" y2="392.1" stroke="#a9bccd" stroke-opacity="0.47" stroke-width="0.9"/>
<line x1="506.7" y1="406.7" x2="518.6" y2="398.9" stroke="#a9bccd" stroke-opacity="0.47" stroke-width="0.9"/>
<line x1="504.7" y1="413.6" x2="516.6" y2="405.7" stroke="#a9bccd" stroke-opacity="0.47" stroke-width="0.9"/>
<line x1="502.7" y1="420.4" x2="514.6" y2="412.5" stroke="#a9bccd" stroke-opacity="0.47" stroke-width="0.9"/>
<line x1="500.7" y1="427.3" x2="512.7" y2="419.3" stroke="#a9bccd" stroke-opacity="0.47" stroke-width="0.9"/>
<line x1="498.6" y1="434.1" x2="510.7" y2="426.1" stroke="#a9bccd" stroke-opacity="0.47" stroke-width="0.9"/>
<line x1="496.6" y1="441.0" x2="508.7" y2="433.0" stroke="#a9bccd" stroke-opacity="0.47" stroke-width="0.9"/>
<line x1="494.6" y1="447.8" x2="506.7" y2="439.8" stroke="#a9bccd" stroke-opacity="0.47" stroke-width="0.9"/>
<line x1="492.6" y1="454.7" x2="504.8" y2="446.6" stroke="#a9bccd" stroke-opacity="0.47" stroke-width="0.9"/>
<line x1="490.6" y1="461.5" x2="502.8" y2="453.4" stroke="#a9bccd" stroke-opacity="0.47" stroke-width="0.9"/>
<line x1="488.5" y1="468.4" x2="500.8" y2="460.2" stroke="#a9bccd" stroke-opacity="0.47" stroke-width="0.9"/>
<polygon points="513.6,383.2 516.8,384.3 489.7,476.2 486.5,475.2" fill="rgb(48,62,76)" fill-opacity="0.9"/>
<polygon points="540.3,374.7 551.5,369.4 525.1,472.3 513.3,478.1" fill="url(#gap14)"/>
<line x1="536.7" y1="388.4" x2="548.6" y2="380.7" stroke="#a9bccd" stroke-opacity="0.50" stroke-width="0.9"/>
<line x1="534.9" y1="395.3" x2="546.8" y2="387.6" stroke="#a9bccd" stroke-opacity="0.50" stroke-width="0.9"/>
<line x1="533.1" y1="402.2" x2="545.1" y2="394.4" stroke="#a9bccd" stroke-opacity="0.50" stroke-width="0.9"/>
<line x1="531.3" y1="409.1" x2="543.3" y2="401.3" stroke="#a9bccd" stroke-opacity="0.50" stroke-width="0.9"/>
<line x1="529.5" y1="416.0" x2="541.6" y2="408.1" stroke="#a9bccd" stroke-opacity="0.50" stroke-width="0.9"/>
<line x1="527.7" y1="422.9" x2="539.8" y2="415.0" stroke="#a9bccd" stroke-opacity="0.50" stroke-width="0.9"/>
<line x1="525.9" y1="429.8" x2="538.0" y2="421.9" stroke="#a9bccd" stroke-opacity="0.50" stroke-width="0.9"/>
<line x1="524.1" y1="436.7" x2="536.3" y2="428.7" stroke="#a9bccd" stroke-opacity="0.50" stroke-width="0.9"/>
<line x1="522.3" y1="443.6" x2="534.5" y2="435.6" stroke="#a9bccd" stroke-opacity="0.50" stroke-width="0.9"/>
<line x1="520.5" y1="450.5" x2="532.8" y2="442.4" stroke="#a9bccd" stroke-opacity="0.50" stroke-width="0.9"/>
<line x1="518.7" y1="457.4" x2="531.0" y2="449.3" stroke="#a9bccd" stroke-opacity="0.50" stroke-width="0.9"/>
<line x1="516.9" y1="464.3" x2="529.3" y2="456.2" stroke="#a9bccd" stroke-opacity="0.50" stroke-width="0.9"/>
<line x1="515.1" y1="471.2" x2="527.5" y2="463.0" stroke="#a9bccd" stroke-opacity="0.50" stroke-width="0.9"/>
<polygon points="537.3,386.0 540.5,387.1 516.5,479.1 513.3,478.1" fill="rgb(49,63,77)" fill-opacity="0.9"/>
<polygon points="564.0,376.9 575.3,371.5 552.4,475.2 540.3,481.0" fill="url(#gap15)"/>
<line x1="560.8" y1="390.8" x2="572.8" y2="382.9" stroke="#a9bccd" stroke-opacity="0.52" stroke-width="0.9"/>
<line x1="559.2" y1="397.7" x2="571.3" y2="389.8" stroke="#a9bccd" stroke-opacity="0.52" stroke-width="0.9"/>
<line x1="557.7" y1="404.6" x2="569.7" y2="396.8" stroke="#a9bccd" stroke-opacity="0.52" stroke-width="0.9"/>
<line x1="556.1" y1="411.6" x2="568.2" y2="403.7" stroke="#a9bccd" stroke-opacity="0.52" stroke-width="0.9"/>
<line x1="554.5" y1="418.5" x2="566.7" y2="410.6" stroke="#a9bccd" stroke-opacity="0.52" stroke-width="0.9"/>
<line x1="552.9" y1="425.5" x2="565.2" y2="417.5" stroke="#a9bccd" stroke-opacity="0.52" stroke-width="0.9"/>
<line x1="551.4" y1="432.4" x2="563.6" y2="424.4" stroke="#a9bccd" stroke-opacity="0.52" stroke-width="0.9"/>
<line x1="549.8" y1="439.3" x2="562.1" y2="431.3" stroke="#a9bccd" stroke-opacity="0.52" stroke-width="0.9"/>
<line x1="548.2" y1="446.3" x2="560.6" y2="438.2" stroke="#a9bccd" stroke-opacity="0.52" stroke-width="0.9"/>
<line x1="546.6" y1="453.2" x2="559.0" y2="445.1" stroke="#a9bccd" stroke-opacity="0.52" stroke-width="0.9"/>
<line x1="545.1" y1="460.2" x2="557.5" y2="452.0" stroke="#a9bccd" stroke-opacity="0.52" stroke-width="0.9"/>
<line x1="543.5" y1="467.1" x2="556.0" y2="459.0" stroke="#a9bccd" stroke-opacity="0.52" stroke-width="0.9"/>
<line x1="541.9" y1="474.1" x2="554.5" y2="465.9" stroke="#a9bccd" stroke-opacity="0.52" stroke-width="0.9"/>
<polygon points="561.3,388.9 564.4,389.9 543.5,482.0 540.3,481.0" fill="rgb(50,65,79)" fill-opacity="0.9"/>
<polygon points="587.8,379.1 599.3,373.7 579.9,478.1 567.6,483.9" fill="url(#gap16)"/>
<line x1="585.1" y1="393.1" x2="597.2" y2="385.2" stroke="#a9bccd" stroke-opacity="0.55" stroke-width="0.9"/>
<line x1="583.8" y1="400.1" x2="595.9" y2="392.1" stroke="#a9bccd" stroke-opacity="0.55" stroke-width="0.9"/>
<line x1="582.4" y1="407.1" x2="594.6" y2="399.1" stroke="#a9bccd" stroke-opacity="0.55" stroke-width="0.9"/>
<line x1="581.1" y1="414.0" x2="593.3" y2="406.1" stroke="#a9bccd" stroke-opacity="0.55" stroke-width="0.9"/>
<line x1="579.7" y1="421.0" x2="592.0" y2="413.0" stroke="#a9bccd" stroke-opacity="0.55" stroke-width="0.9"/>
<line x1="578.4" y1="428.0" x2="590.7" y2="420.0" stroke="#a9bccd" stroke-opacity="0.55" stroke-width="0.9"/>
<line x1="577.0" y1="435.0" x2="589.4" y2="426.9" stroke="#a9bccd" stroke-opacity="0.55" stroke-width="0.9"/>
<line x1="575.7" y1="442.0" x2="588.1" y2="433.9" stroke="#a9bccd" stroke-opacity="0.55" stroke-width="0.9"/>
<line x1="574.3" y1="449.0" x2="586.8" y2="440.9" stroke="#a9bccd" stroke-opacity="0.55" stroke-width="0.9"/>
<line x1="573.0" y1="456.0" x2="585.5" y2="447.8" stroke="#a9bccd" stroke-opacity="0.55" stroke-width="0.9"/>
<line x1="571.6" y1="462.9" x2="584.2" y2="454.8" stroke="#a9bccd" stroke-opacity="0.55" stroke-width="0.9"/>
<line x1="570.3" y1="469.9" x2="582.9" y2="461.7" stroke="#a9bccd" stroke-opacity="0.55" stroke-width="0.9"/>
<line x1="568.9" y1="476.9" x2="581.6" y2="468.7" stroke="#a9bccd" stroke-opacity="0.55" stroke-width="0.9"/>
<polygon points="585.4,391.7 588.5,392.8 570.7,484.9 567.6,483.9" fill="rgb(51,66,80)" fill-opacity="0.9"/>
<polygon points="611.8,381.4 623.5,375.9 607.6,481.0 595.1,486.8" fill="url(#gap17)"/>
<line x1="609.6" y1="395.4" x2="621.8" y2="387.4" stroke="#a9bccd" stroke-opacity="0.57" stroke-width="0.9"/>
<line x1="608.5" y1="402.4" x2="620.7" y2="394.4" stroke="#a9bccd" stroke-opacity="0.57" stroke-width="0.9"/>
<line x1="607.4" y1="409.5" x2="619.7" y2="401.5" stroke="#a9bccd" stroke-opacity="0.57" stroke-width="0.9"/>
<line x1="606.3" y1="416.5" x2="618.6" y2="408.5" stroke="#a9bccd" stroke-opacity="0.57" stroke-width="0.9"/>
<line x1="605.1" y1="423.5" x2="617.5" y2="415.5" stroke="#a9bccd" stroke-opacity="0.57" stroke-width="0.9"/>
<line x1="604.0" y1="430.6" x2="616.5" y2="422.5" stroke="#a9bccd" stroke-opacity="0.57" stroke-width="0.9"/>
<line x1="602.9" y1="437.6" x2="615.4" y2="429.5" stroke="#a9bccd" stroke-opacity="0.57" stroke-width="0.9"/>
<line x1="601.8" y1="444.6" x2="614.3" y2="436.5" stroke="#a9bccd" stroke-opacity="0.57" stroke-width="0.9"/>
<line x1="600.7" y1="451.7" x2="613.3" y2="443.5" stroke="#a9bccd" stroke-opacity="0.57" stroke-width="0.9"/>
<line x1="599.5" y1="458.7" x2="612.2" y2="450.5" stroke="#a9bccd" stroke-opacity="0.57" stroke-width="0.9"/>
<line x1="598.4" y1="465.7" x2="611.1" y2="457.5" stroke="#a9bccd" stroke-opacity="0.57" stroke-width="0.9"/>
<line x1="597.3" y1="472.7" x2="610.1" y2="464.6" stroke="#a9bccd" stroke-opacity="0.57" stroke-width="0.9"/>
<line x1="596.2" y1="479.8" x2="609.0" y2="471.6" stroke="#a9bccd" stroke-opacity="0.57" stroke-width="0.9"/>
<polygon points="609.7,394.5 612.8,395.6 598.2,487.8 595.1,486.8" fill="rgb(52,67,81)" fill-opacity="0.9"/>
<polygon points="636.0,383.6 647.9,378.0 635.5,484.0 622.8,489.7" fill="url(#gap18)"/>
<line x1="634.3" y1="397.7" x2="646.6" y2="389.7" stroke="#a9bccd" stroke-opacity="0.60" stroke-width="0.9"/>
<line x1="633.4" y1="404.8" x2="645.7" y2="396.8" stroke="#a9bccd" stroke-opacity="0.60" stroke-width="0.9"/>
<line x1="632.5" y1="411.9" x2="644.9" y2="403.8" stroke="#a9bccd" stroke-opacity="0.60" stroke-width="0.9"/>
<line x1="631.6" y1="419.0" x2="644.1" y2="410.9" stroke="#a9bccd" stroke-opacity="0.60" stroke-width="0.9"/>
<line x1="630.7" y1="426.0" x2="643.2" y2="417.9" stroke="#a9bccd" stroke-opacity="0.60" stroke-width="0.9"/>
<line x1="629.9" y1="433.1" x2="642.4" y2="425.0" stroke="#a9bccd" stroke-opacity="0.60" stroke-width="0.9"/>
<line x1="629.0" y1="440.2" x2="641.6" y2="432.1" stroke="#a9bccd" stroke-opacity="0.60" stroke-width="0.9"/>
<line x1="628.1" y1="447.3" x2="640.8" y2="439.1" stroke="#a9bccd" stroke-opacity="0.60" stroke-width="0.9"/>
<line x1="627.2" y1="454.4" x2="639.9" y2="446.2" stroke="#a9bccd" stroke-opacity="0.60" stroke-width="0.9"/>
<line x1="626.3" y1="461.4" x2="639.1" y2="453.2" stroke="#a9bccd" stroke-opacity="0.60" stroke-width="0.9"/>
<line x1="625.4" y1="468.5" x2="638.3" y2="460.3" stroke="#a9bccd" stroke-opacity="0.60" stroke-width="0.9"/>
<line x1="624.5" y1="475.6" x2="637.5" y2="467.4" stroke="#a9bccd" stroke-opacity="0.60" stroke-width="0.9"/>
<line x1="623.7" y1="482.7" x2="636.6" y2="474.4" stroke="#a9bccd" stroke-opacity="0.60" stroke-width="0.9"/>
<polygon points="634.3,397.4 637.4,398.5 625.9,490.7 622.8,489.7" fill="rgb(53,68,82)" fill-opacity="0.9"/>
<polygon points="660.4,385.8 672.5,380.2 663.7,486.9 650.7,492.7" fill="url(#gap19)"/>
<line x1="659.1" y1="400.1" x2="671.5" y2="392.0" stroke="#a9bccd" stroke-opacity="0.62" stroke-width="0.9"/>
<line x1="658.5" y1="407.2" x2="670.9" y2="399.1" stroke="#a9bccd" stroke-opacity="0.62" stroke-width="0.9"/>
<line x1="657.8" y1="414.3" x2="670.3" y2="406.2" stroke="#a9bccd" stroke-opacity="0.62" stroke-width="0.9"/>
<line x1="657.2" y1="421.5" x2="669.8" y2="413.3" stroke="#a9bccd" stroke-opacity="0.62" stroke-width="0.9"/>
<line x1="656.5" y1="428.6" x2="669.2" y2="420.4" stroke="#a9bccd" stroke-opacity="0.62" stroke-width="0.9"/>
<line x1="655.9" y1="435.7" x2="668.6" y2="427.5" stroke="#a9bccd" stroke-opacity="0.62" stroke-width="0.9"/>
<line x1="655.2" y1="442.8" x2="668.0" y2="434.6" stroke="#a9bccd" stroke-opacity="0.62" stroke-width="0.9"/>
<line x1="654.6" y1="449.9" x2="667.4" y2="441.7" stroke="#a9bccd" stroke-opacity="0.62" stroke-width="0.9"/>
<line x1="654.0" y1="457.1" x2="666.8" y2="448.9" stroke="#a9bccd" stroke-opacity="0.62" stroke-width="0.9"/>
<line x1="653.3" y1="464.2" x2="666.2" y2="456.0" stroke="#a9bccd" stroke-opacity="0.62" stroke-width="0.9"/>
<line x1="652.7" y1="471.3" x2="665.6" y2="463.1" stroke="#a9bccd" stroke-opacity="0.62" stroke-width="0.9"/>
<line x1="652.0" y1="478.4" x2="665.1" y2="470.2" stroke="#a9bccd" stroke-opacity="0.62" stroke-width="0.9"/>
<line x1="651.4" y1="485.5" x2="664.5" y2="477.3" stroke="#a9bccd" stroke-opacity="0.62" stroke-width="0.9"/>
<polygon points="659.1,400.3 662.2,401.3 653.8,493.7 650.7,492.7" fill="rgb(54,70,84)" fill-opacity="0.9"/>
<polygon points="685.0,388.1 697.2,382.4 692.1,489.9 678.9,495.6" fill="url(#gap20)"/>
<line x1="684.2" y1="402.4" x2="696.7" y2="394.2" stroke="#a9bccd" stroke-opacity="0.65" stroke-width="0.9"/>
<line x1="683.8" y1="409.6" x2="696.3" y2="401.4" stroke="#a9bccd" stroke-opacity="0.65" stroke-width="0.9"/>
<line x1="683.4" y1="416.8" x2="696.0" y2="408.6" stroke="#a9bccd" stroke-opacity="0.65" stroke-width="0.9"/>
<line x1="682.9" y1="423.9" x2="695.6" y2="415.7" stroke="#a9bccd" stroke-opacity="0.65" stroke-width="0.9"/>
<line x1="682.5" y1="431.1" x2="695.3" y2="422.9" stroke="#a9bccd" stroke-opacity="0.65" stroke-width="0.9"/>
<line x1="682.1" y1="438.3" x2="694.9" y2="430.0" stroke="#a9bccd" stroke-opacity="0.65" stroke-width="0.9"/>
<line x1="681.7" y1="445.4" x2="694.6" y2="437.2" stroke="#a9bccd" stroke-opacity="0.65" stroke-width="0.9"/>
<line x1="681.3" y1="452.6" x2="694.3" y2="444.4" stroke="#a9bccd" stroke-opacity="0.65" stroke-width="0.9"/>
<line x1="680.9" y1="459.8" x2="693.9" y2="451.5" stroke="#a9bccd" stroke-opacity="0.65" stroke-width="0.9"/>
<line x1="680.5" y1="466.9" x2="693.6" y2="458.7" stroke="#a9bccd" stroke-opacity="0.65" stroke-width="0.9"/>
<line x1="680.1" y1="474.1" x2="693.2" y2="465.9" stroke="#a9bccd" stroke-opacity="0.65" stroke-width="0.9"/>
<line x1="679.7" y1="481.3" x2="692.9" y2="473.0" stroke="#a9bccd" stroke-opacity="0.65" stroke-width="0.9"/>
<line x1="679.3" y1="488.4" x2="692.5" y2="480.2" stroke="#a9bccd" stroke-opacity="0.65" stroke-width="0.9"/>
<polygon points="684.1,403.1 687.2,404.2 681.9,496.6 678.9,495.6" fill="rgb(55,71,85)" fill-opacity="0.9"/>
<polygon points="709.7,390.4 722.1,384.6 720.7,492.8 707.3,498.6" fill="url(#gap21)"/>
<line x1="709.4" y1="404.8" x2="722.0" y2="396.5" stroke="#a9bccd" stroke-opacity="0.67" stroke-width="0.9"/>
<line x1="709.2" y1="412.0" x2="721.9" y2="403.7" stroke="#a9bccd" stroke-opacity="0.67" stroke-width="0.9"/>
<line x1="709.1" y1="419.2" x2="721.8" y2="410.9" stroke="#a9bccd" stroke-opacity="0.67" stroke-width="0.9"/>
<line x1="708.9" y1="426.4" x2="721.7" y2="418.2" stroke="#a9bccd" stroke-opacity="0.67" stroke-width="0.9"/>
<line x1="708.7" y1="433.6" x2="721.6" y2="425.4" stroke="#a9bccd" stroke-opacity="0.67" stroke-width="0.9"/>
<line x1="708.6" y1="440.9" x2="721.5" y2="432.6" stroke="#a9bccd" stroke-opacity="0.67" stroke-width="0.9"/>
<line x1="708.4" y1="448.1" x2="721.4" y2="439.8" stroke="#a9bccd" stroke-opacity="0.67" stroke-width="0.9"/>
<line x1="708.3" y1="455.3" x2="721.3" y2="447.0" stroke="#a9bccd" stroke-opacity="0.67" stroke-width="0.9"/>
<line x1="708.1" y1="462.5" x2="721.2" y2="454.2" stroke="#a9bccd" stroke-opacity="0.67" stroke-width="0.9"/>
<line x1="707.9" y1="469.7" x2="721.1" y2="461.4" stroke="#a9bccd" stroke-opacity="0.67" stroke-width="0.9"/>
<line x1="707.8" y1="476.9" x2="721.0" y2="468.7" stroke="#a9bccd" stroke-opacity="0.67" stroke-width="0.9"/>
<line x1="707.6" y1="484.1" x2="720.9" y2="475.9" stroke="#a9bccd" stroke-opacity="0.67" stroke-width="0.9"/>
<line x1="707.4" y1="491.3" x2="720.8" y2="483.1" stroke="#a9bccd" stroke-opacity="0.67" stroke-width="0.9"/>
<polygon points="709.4,406.0 712.4,407.1 710.3,499.6 707.3,498.6" fill="rgb(56,72,86)" fill-opacity="0.9"/>
<polygon points="734.6,392.6 747.2,386.8 749.5,495.8 735.9,501.5" fill="url(#gap22)"/>
<line x1="734.8" y1="407.1" x2="747.5" y2="398.8" stroke="#a9bccd" stroke-opacity="0.70" stroke-width="0.9"/>
<line x1="734.9" y1="414.4" x2="747.6" y2="406.1" stroke="#a9bccd" stroke-opacity="0.70" stroke-width="0.9"/>
<line x1="735.0" y1="421.7" x2="747.8" y2="413.3" stroke="#a9bccd" stroke-opacity="0.70" stroke-width="0.9"/>
<line x1="735.1" y1="428.9" x2="747.9" y2="420.6" stroke="#a9bccd" stroke-opacity="0.70" stroke-width="0.9"/>
<line x1="735.1" y1="436.2" x2="748.1" y2="427.9" stroke="#a9bccd" stroke-opacity="0.70" stroke-width="0.9"/>
<line x1="735.2" y1="443.4" x2="748.3" y2="435.1" stroke="#a9bccd" stroke-opacity="0.70" stroke-width="0.9"/>
<line x1="735.3" y1="450.7" x2="748.4" y2="442.4" stroke="#a9bccd" stroke-opacity="0.70" stroke-width="0.9"/>
<line x1="735.4" y1="458.0" x2="748.6" y2="449.7" stroke="#a9bccd" stroke-opacity="0.70" stroke-width="0.9"/>
<line x1="735.5" y1="465.2" x2="748.7" y2="456.9" stroke="#a9bccd" stroke-opacity="0.70" stroke-width="0.9"/>
<line x1="735.6" y1="472.5" x2="748.9" y2="464.2" stroke="#a9bccd" stroke-opacity="0.70" stroke-width="0.9"/>
<line x1="735.6" y1="479.7" x2="749.0" y2="471.5" stroke="#a9bccd" stroke-opacity="0.70" stroke-width="0.9"/>
<line x1="735.7" y1="487.0" x2="749.2" y2="478.7" stroke="#a9bccd" stroke-opacity="0.70" stroke-width="0.9"/>
<line x1="735.8" y1="494.3" x2="749.3" y2="486.0" stroke="#a9bccd" stroke-opacity="0.70" stroke-width="0.9"/>
<polygon points="734.8,409.0 737.8,410.0 738.9,502.5 735.9,501.5" fill="rgb(58,74,88)" fill-opacity="0.9"/>
<polygon points="148.0,435.8 157.0,438.8 157.0,441.8 148.0,439.3" fill="#3b3a3c"/>
<polygon points="149.5,435.6 153.5,436.8 153.5,438.4 149.5,437.2" fill="#7a6352" fill-opacity="0.85"/>
<polygon points="215.2,337.7 227.7,344.1 159.0,438.8 143.8,430.1" fill="url(#pan0)"/>
<line x1="218.3" y1="339.3" x2="147.6" y2="432.3" stroke="#2c4a78" stroke-opacity="0.35" stroke-width="0.8"/>
<line x1="221.4" y1="340.9" x2="151.4" y2="434.5" stroke="#2c4a78" stroke-opacity="0.40" stroke-width="0.8"/>
<line x1="224.6" y1="342.5" x2="155.2" y2="436.6" stroke="#2c4a78" stroke-opacity="0.35" stroke-width="0.8"/>
<line x1="215.2" y1="337.7" x2="227.7" y2="344.1" stroke="#aebbca" stroke-width="1.3"/>
<circle cx="227.4" cy="344.1" r="0.7" fill="#c79a6a"/>
<line x1="212.6" y1="341.0" x2="225.2" y2="347.5" stroke="#2f4a74" stroke-opacity="0.5" stroke-width="0.9"/>
<line x1="210.1" y1="344.3" x2="222.8" y2="350.9" stroke="#aebbca" stroke-width="1.3"/>
<circle cx="222.5" cy="350.9" r="0.7" fill="#c79a6a"/>
<line x1="207.5" y1="347.6" x2="220.3" y2="354.2" stroke="#2f4a74" stroke-opacity="0.5" stroke-width="0.9"/>
<line x1="205.0" y1="350.9" x2="217.9" y2="357.6" stroke="#aebbca" stroke-width="1.3"/>
<circle cx="217.6" cy="357.6" r="0.7" fill="#c79a6a"/>
<line x1="202.4" y1="354.2" x2="215.4" y2="361.0" stroke="#2f4a74" stroke-opacity="0.5" stroke-width="0.9"/>
<line x1="199.9" y1="357.5" x2="213.0" y2="364.4" stroke="#aebbca" stroke-width="1.3"/>
<circle cx="212.7" cy="364.4" r="0.7" fill="#c79a6a"/>
<line x1="197.3" y1="360.8" x2="210.5" y2="367.8" stroke="#2f4a74" stroke-opacity="0.5" stroke-width="0.9"/>
<line x1="194.8" y1="364.1" x2="208.1" y2="371.2" stroke="#aebbca" stroke-width="1.3"/>
<circle cx="207.8" cy="371.2" r="0.7" fill="#c79a6a"/>
<line x1="192.2" y1="367.4" x2="205.6" y2="374.5" stroke="#2f4a74" stroke-opacity="0.5" stroke-width="0.9"/>
<line x1="189.7" y1="370.7" x2="203.2" y2="377.9" stroke="#aebbca" stroke-width="1.3"/>
<circle cx="202.9" cy="377.9" r="0.7" fill="#c79a6a"/>
<line x1="187.2" y1="374.0" x2="200.7" y2="381.3" stroke="#2f4a74" stroke-opacity="0.5" stroke-width="0.9"/>
<line x1="184.6" y1="377.3" x2="198.3" y2="384.7" stroke="#aebbca" stroke-width="1.3"/>
<circle cx="198.0" cy="384.7" r="0.7" fill="#c79a6a"/>
<line x1="182.1" y1="380.6" x2="195.8" y2="388.1" stroke="#2f4a74" stroke-opacity="0.5" stroke-width="0.9"/>
<line x1="179.5" y1="383.9" x2="193.3" y2="391.4" stroke="#aebbca" stroke-width="1.3"/>
<circle cx="193.0" cy="391.4" r="0.7" fill="#c79a6a"/>
<line x1="176.9" y1="387.2" x2="190.9" y2="394.8" stroke="#2f4a74" stroke-opacity="0.5" stroke-width="0.9"/>
<line x1="174.4" y1="390.5" x2="188.4" y2="398.2" stroke="#aebbca" stroke-width="1.3"/>
<circle cx="188.1" cy="398.2" r="0.7" fill="#c79a6a"/>
<line x1="171.9" y1="393.8" x2="186.0" y2="401.6" stroke="#2f4a74" stroke-opacity="0.5" stroke-width="0.9"/>
<line x1="169.3" y1="397.1" x2="183.5" y2="405.0" stroke="#aebbca" stroke-width="1.3"/>
<circle cx="183.2" cy="405.0" r="0.7" fill="#c79a6a"/>
<line x1="166.8" y1="400.4" x2="181.1" y2="408.4" stroke="#2f4a74" stroke-opacity="0.5" stroke-width="0.9"/>
<line x1="164.2" y1="403.7" x2="178.6" y2="411.7" stroke="#aebbca" stroke-width="1.3"/>
<circle cx="178.3" cy="411.7" r="0.7" fill="#c79a6a"/>
<line x1="161.7" y1="407.0" x2="176.2" y2="415.1" stroke="#2f4a74" stroke-opacity="0.5" stroke-width="0.9"/>
<line x1="159.1" y1="410.3" x2="173.7" y2="418.5" stroke="#aebbca" stroke-width="1.3"/>
<circle cx="173.4" cy="418.5" r="0.7" fill="#c79a6a"/>
<line x1="156.6" y1="413.6" x2="171.3" y2="421.9" stroke="#2f4a74" stroke-opacity="0.5" stroke-width="0.9"/>
<line x1="154.0" y1="416.9" x2="168.8" y2="425.3" stroke="#aebbca" stroke-width="1.3"/>
<circle cx="168.5" cy="425.3" r="0.7" fill="#c79a6a"/>
<line x1="151.4" y1="420.2" x2="166.4" y2="428.7" stroke="#2f4a74" stroke-opacity="0.5" stroke-width="0.9"/>
<line x1="148.9" y1="423.5" x2="163.9" y2="432.0" stroke="#aebbca" stroke-width="1.3"/>
<circle cx="163.6" cy="432.0" r="0.7" fill="#c79a6a"/>
<line x1="143.8" y1="430.1" x2="159.0" y2="438.8" stroke="#aebbca" stroke-width="1.3"/>
<circle cx="158.7" cy="438.8" r="0.7" fill="#c79a6a"/>
<line x1="215.2" y1="337.7" x2="143.8" y2="430.1" stroke="#c0ccda" stroke-width="0.8"/>
<line x1="227.7" y1="344.1" x2="159.0" y2="438.8" stroke="#9fb0c4" stroke-width="0.7"/>
<polygon points="171.8,438.5 180.8,441.5 180.8,444.5 171.8,442.0" fill="#3b3a3c"/>
<polygon points="173.3,438.3 177.3,439.5 177.3,441.1 173.3,439.9" fill="#7a6352" fill-opacity="0.85"/>
<polygon points="236.4,339.8 248.9,346.2 182.8,441.5 167.6,432.8" fill="url(#pan1)"/>
<line x1="239.5" y1="341.4" x2="171.4" y2="435.0" stroke="#2c4a78" stroke-opacity="0.35" stroke-width="0.8"/>
<line x1="242.6" y1="343.0" x2="175.2" y2="437.2" stroke="#2c4a78" stroke-opacity="0.40" stroke-width="0.8"/>
<line x1="245.7" y1="344.6" x2="179.0" y2="439.4" stroke="#2c4a78" stroke-opacity="0.35" stroke-width="0.8"/>
<line x1="236.4" y1="339.8" x2="248.9" y2="346.2" stroke="#aebbca" stroke-width="1.3"/>
<circle cx="248.6" cy="346.2" r="0.7" fill="#c79a6a"/>
<line x1="233.9" y1="343.1" x2="246.5" y2="349.6" stroke="#2f4a74" stroke-opacity="0.5" stroke-width="0.9"/>
<line x1="231.5" y1="346.4" x2="244.2" y2="353.1" stroke="#aebbca" stroke-width="1.3"/>
<circle cx="243.9" cy="353.1" r="0.7" fill="#c79a6a"/>
<line x1="229.0" y1="349.7" x2="241.8" y2="356.5" stroke="#2f4a74" stroke-opacity="0.5" stroke-width="0.9"/>
<line x1="226.5" y1="353.1" x2="239.4" y2="359.9" stroke="#aebbca" stroke-width="1.3"/>
<circle cx="239.1" cy="359.9" r="0.7" fill="#c79a6a"/>
<line x1="224.1" y1="356.4" x2="237.1" y2="363.3" stroke="#2f4a74" stroke-opacity="0.5" stroke-width="0.9"/>
<line x1="221.6" y1="359.7" x2="234.7" y2="366.7" stroke="#aebbca" stroke-width="1.3"/>
<circle cx="234.4" cy="366.7" r="0.7" fill="#c79a6a"/>
<line x1="219.2" y1="363.0" x2="232.4" y2="370.1" stroke="#2f4a74" stroke-opacity="0.5" stroke-width="0.9"/>
<line x1="216.7" y1="366.4" x2="230.0" y2="373.5" stroke="#aebbca" stroke-width="1.3"/>
<circle cx="229.7" cy="373.5" r="0.7" fill="#c79a6a"/>
<line x1="214.3" y1="369.7" x2="227.6" y2="376.9" stroke="#2f4a74" stroke-opacity="0.5" stroke-width="0.9"/>
<line x1="211.8" y1="373.0" x2="225.3" y2="380.3" stroke="#aebbca" stroke-width="1.3"/>
<circle cx="225.0" cy="380.3" r="0.7" fill="#c79a6a"/>
<line x1="209.4" y1="376.3" x2="222.9" y2="383.7" stroke="#2f4a74" stroke-opacity="0.5" stroke-width="0.9"/>
<line x1="206.9" y1="379.7" x2="220.6" y2="387.1" stroke="#aebbca" stroke-width="1.3"/>
<circle cx="220.3" cy="387.1" r="0.7" fill="#c79a6a"/>
<line x1="204.5" y1="383.0" x2="218.2" y2="390.5" stroke="#2f4a74" stroke-opacity="0.5" stroke-width="0.9"/>
<line x1="202.0" y1="386.3" x2="215.8" y2="393.9" stroke="#aebbca" stroke-width="1.3"/>
<circle cx="215.5" cy="393.9" r="0.7" fill="#c79a6a"/>
<line x1="199.5" y1="389.6" x2="213.5" y2="397.3" stroke="#2f4a74" stroke-opacity="0.5" stroke-width="0.9"/>
<line x1="197.1" y1="393.0" x2="211.1" y2="400.7" stroke="#aebbca" stroke-width="1.3"/>
<circle cx="210.8" cy="400.7" r="0.7" fill="#c79a6a"/>
<line x1="194.6" y1="396.3" x2="208.8" y2="404.1" stroke="#2f4a74" stroke-opacity="0.5" stroke-width="0.9"/>
<line x1="192.2" y1="399.6" x2="206.4" y2="407.5" stroke="#aebbca" stroke-width="1.3"/>
<circle cx="206.1" cy="407.5" r="0.7" fill="#c79a6a"/>
<line x1="189.7" y1="402.9" x2="204.1" y2="410.9" stroke="#2f4a74" stroke-opacity="0.5" stroke-width="0.9"/>
<line x1="187.3" y1="406.2" x2="201.7" y2="414.3" stroke="#aebbca" stroke-width="1.3"/>
<circle cx="201.4" cy="414.3" r="0.7" fill="#c79a6a"/>
<line x1="184.8" y1="409.6" x2="199.3" y2="417.7" stroke="#2f4a74" stroke-opacity="0.5" stroke-width="0.9"/>
<line x1="182.4" y1="412.9" x2="197.0" y2="421.1" stroke="#aebbca" stroke-width="1.3"/>
<circle cx="196.7" cy="421.1" r="0.7" fill="#c79a6a"/>
<line x1="179.9" y1="416.2" x2="194.6" y2="424.5" stroke="#2f4a74" stroke-opacity="0.5" stroke-width="0.9"/>
<line x1="177.4" y1="419.5" x2="192.3" y2="427.9" stroke="#aebbca" stroke-width="1.3"/>
<circle cx="192.0" cy="427.9" r="0.7" fill="#c79a6a"/>
<line x1="175.0" y1="422.9" x2="189.9" y2="431.3" stroke="#2f4a74" stroke-opacity="0.5" stroke-width="0.9"/>
<line x1="172.5" y1="426.2" x2="187.5" y2="434.7" stroke="#aebbca" stroke-width="1.3"/>
<circle cx="187.2" cy="434.7" r="0.7" fill="#c79a6a"/>
<line x1="167.6" y1="432.8" x2="182.8" y2="441.5" stroke="#aebbca" stroke-width="1.3"/>
<circle cx="182.5" cy="441.5" r="0.7" fill="#c79a6a"/>
<line x1="236.4" y1="339.8" x2="167.6" y2="432.8" stroke="#c0ccda" stroke-width="0.8"/>
<line x1="248.9" y1="346.2" x2="182.8" y2="441.5" stroke="#9fb0c4" stroke-width="0.7"/>
<polygon points="195.9,441.3 204.9,444.3 204.9,447.3 195.9,444.8" fill="#3b3a3c"/>
<polygon points="197.4,441.1 201.4,442.3 201.4,443.9 197.4,442.7" fill="#7a6352" fill-opacity="0.85"/>
<polygon points="257.7,341.8 270.2,348.4 206.9,444.3 191.7,435.6" fill="url(#pan2)"/>
<line x1="260.8" y1="343.5" x2="195.5" y2="437.8" stroke="#2c4a78" stroke-opacity="0.35" stroke-width="0.8"/>
<line x1="264.0" y1="345.1" x2="199.3" y2="439.9" stroke="#2c4a78" stroke-opacity="0.40" stroke-width="0.8"/>
<line x1="267.1" y1="346.8" x2="203.1" y2="442.1" stroke="#2c4a78" stroke-opacity="0.35" stroke-width="0.8"/>
<line x1="257.7" y1="341.8" x2="270.2" y2="348.4" stroke="#aebbca" stroke-width="1.3"/>
<circle cx="269.9" cy="348.4" r="0.7" fill="#c79a6a"/>
<line x1="255.4" y1="345.2" x2="268.0" y2="351.8" stroke="#2f4a74" stroke-opacity="0.5" stroke-width="0.9"/>
<line x1="253.0" y1="348.5" x2="265.7" y2="355.2" stroke="#aebbca" stroke-width="1.3"/>
<circle cx="265.4" cy="355.2" r="0.7" fill="#c79a6a"/>
<line x1="250.6" y1="351.9" x2="263.4" y2="358.7" stroke="#2f4a74" stroke-opacity="0.5" stroke-width="0.9"/>
<line x1="248.3" y1="355.2" x2="261.2" y2="362.1" stroke="#aebbca" stroke-width="1.3"/>
<circle cx="260.9" cy="362.1" r="0.7" fill="#c79a6a"/>
<line x1="245.9" y1="358.6" x2="258.9" y2="365.5" stroke="#2f4a74" stroke-opacity="0.5" stroke-width="0.9"/>
<line x1="243.6" y1="361.9" x2="256.6" y2="368.9" stroke="#aebbca" stroke-width="1.3"/>
<circle cx="256.3" cy="368.9" r="0.7" fill="#c79a6a"/>
<line x1="241.2" y1="365.3" x2="254.4" y2="372.4" stroke="#2f4a74" stroke-opacity="0.5" stroke-width="0.9"/>
<line x1="238.8" y1="368.6" x2="252.1" y2="375.8" stroke="#aebbca" stroke-width="1.3"/>
<circle cx="251.8" cy="375.8" r="0.7" fill="#c79a6a"/>
<line x1="236.5" y1="372.0" x2="249.9" y2="379.2" stroke="#2f4a74" stroke-opacity="0.5" stroke-width="0.9"/>
<line x1="234.1" y1="375.3" x2="247.6" y2="382.6" stroke="#aebbca" stroke-width="1.3"/>
<circle cx="247.3" cy="382.6" r="0.7" fill="#c79a6a"/>
<line x1="231.8" y1="378.7" x2="245.3" y2="386.1" stroke="#2f4a74" stroke-opacity="0.5" stroke-width="0.9"/>
<line x1="229.4" y1="382.0" x2="243.1" y2="389.5" stroke="#aebbca" stroke-width="1.3"/>
<circle cx="242.8" cy="389.5" r="0.7" fill="#c79a6a"/>
<line x1="227.1" y1="385.4" x2="240.8" y2="392.9" stroke="#2f4a74" stroke-opacity="0.5" stroke-width="0.9"/>
<line x1="224.7" y1="388.7" x2="238.5" y2="396.3" stroke="#aebbca" stroke-width="1.3"/>
<circle cx="238.2" cy="396.3" r="0.7" fill="#c79a6a"/>
<line x1="222.3" y1="392.1" x2="236.3" y2="399.8" stroke="#2f4a74" stroke-opacity="0.5" stroke-width="0.9"/>
<line x1="220.0" y1="395.4" x2="234.0" y2="403.2" stroke="#aebbca" stroke-width="1.3"/>
<circle cx="233.7" cy="403.2" r="0.7" fill="#c79a6a"/>
<line x1="217.6" y1="398.8" x2="231.8" y2="406.6" stroke="#2f4a74" stroke-opacity="0.5" stroke-width="0.9"/>
<line x1="215.3" y1="402.1" x2="229.5" y2="410.0" stroke="#aebbca" stroke-width="1.3"/>
<circle cx="229.2" cy="410.0" r="0.7" fill="#c79a6a"/>
<line x1="212.9" y1="405.5" x2="227.2" y2="413.5" stroke="#2f4a74" stroke-opacity="0.5" stroke-width="0.9"/>
<line x1="210.5" y1="408.8" x2="225.0" y2="416.9" stroke="#aebbca" stroke-width="1.3"/>
<circle cx="224.7" cy="416.9" r="0.7" fill="#c79a6a"/>
<line x1="208.2" y1="412.1" x2="222.7" y2="420.3" stroke="#2f4a74" stroke-opacity="0.5" stroke-width="0.9"/>
<line x1="205.8" y1="415.5" x2="220.4" y2="423.7" stroke="#aebbca" stroke-width="1.3"/>
<circle cx="220.1" cy="423.7" r="0.7" fill="#c79a6a"/>
<line x1="203.5" y1="418.8" x2="218.2" y2="427.2" stroke="#2f4a74" stroke-opacity="0.5" stroke-width="0.9"/>
<line x1="201.1" y1="422.2" x2="215.9" y2="430.6" stroke="#aebbca" stroke-width="1.3"/>
<circle cx="215.6" cy="430.6" r="0.7" fill="#c79a6a"/>
<line x1="198.8" y1="425.5" x2="213.7" y2="434.0" stroke="#2f4a74" stroke-opacity="0.5" stroke-width="0.9"/>
<line x1="196.4" y1="428.9" x2="211.4" y2="437.4" stroke="#aebbca" stroke-width="1.3"/>
<circle cx="211.1" cy="437.4" r="0.7" fill="#c79a6a"/>
<line x1="191.7" y1="435.6" x2="206.9" y2="444.3" stroke="#aebbca" stroke-width="1.3"/>
<circle cx="206.6" cy="444.3" r="0.7" fill="#c79a6a"/>
<line x1="257.7" y1="341.8" x2="191.7" y2="435.6" stroke="#c0ccda" stroke-width="0.8"/>
<line x1="270.2" y1="348.4" x2="206.9" y2="444.3" stroke="#9fb0c4" stroke-width="0.7"/>
<polygon points="220.2,444.0 229.2,447.0 229.2,450.0 220.2,447.5" fill="#3b3a3c"/>
<polygon points="221.7,443.8 225.7,445.0 225.7,446.6 221.7,445.4" fill="#7a6352" fill-opacity="0.85"/>
<polygon points="279.2,343.9 291.7,350.6 231.2,447.0 216.0,438.3" fill="url(#pan3)"/>
<line x1="282.4" y1="345.6" x2="219.8" y2="440.5" stroke="#2c4a78" stroke-opacity="0.35" stroke-width="0.8"/>
<line x1="285.5" y1="347.2" x2="223.6" y2="442.7" stroke="#2c4a78" stroke-opacity="0.40" stroke-width="0.8"/>
<line x1="288.6" y1="348.9" x2="227.4" y2="444.9" stroke="#2c4a78" stroke-opacity="0.35" stroke-width="0.8"/>
<line x1="279.2" y1="343.9" x2="291.7" y2="350.6" stroke="#aebbca" stroke-width="1.3"/>
<circle cx="291.4" cy="350.6" r="0.7" fill="#c79a6a"/>
<line x1="277.0" y1="347.3" x2="289.6" y2="354.0" stroke="#2f4a74" stroke-opacity="0.5" stroke-width="0.9"/>
<line x1="274.7" y1="350.7" x2="287.4" y2="357.4" stroke="#aebbca" stroke-width="1.3"/>
<circle cx="287.1" cy="357.4" r="0.7" fill="#c79a6a"/>
<line x1="272.5" y1="354.0" x2="285.3" y2="360.9" stroke="#2f4a74" stroke-opacity="0.5" stroke-width="0.9"/>
<line x1="270.2" y1="357.4" x2="283.1" y2="364.3" stroke="#aebbca" stroke-width="1.3"/>
<circle cx="282.8" cy="364.3" r="0.7" fill="#c79a6a"/>
<line x1="267.9" y1="360.8" x2="280.9" y2="367.8" stroke="#2f4a74" stroke-opacity="0.5" stroke-width="0.9"/>
<line x1="265.7" y1="364.2" x2="278.8" y2="371.2" stroke="#aebbca" stroke-width="1.3"/>
<circle cx="278.5" cy="371.2" r="0.7" fill="#c79a6a"/>
<line x1="263.4" y1="367.5" x2="276.6" y2="374.7" stroke="#2f4a74" stroke-opacity="0.5" stroke-width="0.9"/>
<line x1="261.2" y1="370.9" x2="274.4" y2="378.1" stroke="#aebbca" stroke-width="1.3"/>
<circle cx="274.1" cy="378.1" r="0.7" fill="#c79a6a"/>
<line x1="258.9" y1="374.3" x2="272.3" y2="381.6" stroke="#2f4a74" stroke-opacity="0.5" stroke-width="0.9"/>
<line x1="256.6" y1="377.6" x2="270.1" y2="385.0" stroke="#aebbca" stroke-width="1.3"/>
<circle cx="269.8" cy="385.0" r="0.7" fill="#c79a6a"/>
<line x1="254.4" y1="381.0" x2="267.9" y2="388.5" stroke="#2f4a74" stroke-opacity="0.5" stroke-width="0.9"/>
<line x1="252.1" y1="384.4" x2="265.8" y2="391.9" stroke="#aebbca" stroke-width="1.3"/>
<circle cx="265.5" cy="391.9" r="0.7" fill="#c79a6a"/>
<line x1="249.9" y1="387.8" x2="263.6" y2="395.4" stroke="#2f4a74" stroke-opacity="0.5" stroke-width="0.9"/>
<line x1="247.6" y1="391.1" x2="261.5" y2="398.8" stroke="#aebbca" stroke-width="1.3"/>
<circle cx="261.2" cy="398.8" r="0.7" fill="#c79a6a"/>
<line x1="245.3" y1="394.5" x2="259.3" y2="402.2" stroke="#2f4a74" stroke-opacity="0.5" stroke-width="0.9"/>
<line x1="243.1" y1="397.9" x2="257.1" y2="405.7" stroke="#aebbca" stroke-width="1.3"/>
<circle cx="256.8" cy="405.7" r="0.7" fill="#c79a6a"/>
<line x1="240.8" y1="401.3" x2="255.0" y2="409.1" stroke="#2f4a74" stroke-opacity="0.5" stroke-width="0.9"/>
<line x1="238.6" y1="404.6" x2="252.8" y2="412.6" stroke="#aebbca" stroke-width="1.3"/>
<circle cx="252.5" cy="412.6" r="0.7" fill="#c79a6a"/>
<line x1="236.3" y1="408.0" x2="250.6" y2="416.0" stroke="#2f4a74" stroke-opacity="0.5" stroke-width="0.9"/>
<line x1="234.0" y1="411.4" x2="248.5" y2="419.5" stroke="#aebbca" stroke-width="1.3"/>
<circle cx="248.2" cy="419.5" r="0.7" fill="#c79a6a"/>
<line x1="231.8" y1="414.7" x2="246.3" y2="422.9" stroke="#2f4a74" stroke-opacity="0.5" stroke-width="0.9"/>
<line x1="229.5" y1="418.1" x2="244.1" y2="426.4" stroke="#aebbca" stroke-width="1.3"/>
<circle cx="243.8" cy="426.4" r="0.7" fill="#c79a6a"/>
<line x1="227.3" y1="421.5" x2="242.0" y2="429.8" stroke="#2f4a74" stroke-opacity="0.5" stroke-width="0.9"/>
<line x1="225.0" y1="424.9" x2="239.8" y2="433.3" stroke="#aebbca" stroke-width="1.3"/>
<circle cx="239.5" cy="433.3" r="0.7" fill="#c79a6a"/>
<line x1="222.7" y1="428.2" x2="237.6" y2="436.7" stroke="#2f4a74" stroke-opacity="0.5" stroke-width="0.9"/>
<line x1="220.5" y1="431.6" x2="235.5" y2="440.2" stroke="#aebbca" stroke-width="1.3"/>
<circle cx="235.2" cy="440.2" r="0.7" fill="#c79a6a"/>
<line x1="216.0" y1="438.3" x2="231.2" y2="447.0" stroke="#aebbca" stroke-width="1.3"/>
<circle cx="230.9" cy="447.0" r="0.7" fill="#c79a6a"/>
<line x1="279.2" y1="343.9" x2="216.0" y2="438.3" stroke="#c0ccda" stroke-width="0.9"/>
<line x1="291.7" y1="350.6" x2="231.2" y2="447.0" stroke="#9fb0c4" stroke-width="0.7"/>
<polygon points="244.7,446.8 253.7,449.8 253.7,452.8 244.7,450.3" fill="#3b3a3c"/>
<polygon points="246.2,446.6 250.2,447.8 250.2,449.4 246.2,448.2" fill="#7a6352" fill-opacity="0.85"/>
<polygon points="300.9,346.0 313.4,352.7 255.7,449.8 240.5,441.1" fill="url(#pan4)"/>
<line x1="304.1" y1="347.7" x2="244.3" y2="443.3" stroke="#2c4a78" stroke-opacity="0.35" stroke-width="0.8"/>
<line x1="307.2" y1="349.4" x2="248.1" y2="445.5" stroke="#2c4a78" stroke-opacity="0.40" stroke-width="0.8"/>
<line x1="310.3" y1="351.0" x2="251.9" y2="447.6" stroke="#2c4a78" stroke-opacity="0.35" stroke-width="0.8"/>
<line x1="300.9" y1="346.0" x2="313.4" y2="352.7" stroke="#aebbca" stroke-width="1.3"/>
<circle cx="313.1" cy="352.7" r="0.7" fill="#c79a6a"/>
<line x1="298.8" y1="349.4" x2="311.4" y2="356.2" stroke="#2f4a74" stroke-opacity="0.5" stroke-width="0.9"/>
<line x1="296.6" y1="352.8" x2="309.3" y2="359.6" stroke="#aebbca" stroke-width="1.3"/>
<circle cx="309.0" cy="359.6" r="0.7" fill="#c79a6a"/>
<line x1="294.5" y1="356.2" x2="307.3" y2="363.1" stroke="#2f4a74" stroke-opacity="0.5" stroke-width="0.9"/>
<line x1="292.3" y1="359.6" x2="305.2" y2="366.6" stroke="#aebbca" stroke-width="1.3"/>
<circle cx="304.9" cy="366.6" r="0.7" fill="#c79a6a"/>
<line x1="290.1" y1="363.0" x2="303.1" y2="370.1" stroke="#2f4a74" stroke-opacity="0.5" stroke-width="0.9"/>
<line x1="288.0" y1="366.4" x2="301.1" y2="373.5" stroke="#aebbca" stroke-width="1.3"/>
<circle cx="300.8" cy="373.5" r="0.7" fill="#c79a6a"/>
<line x1="285.8" y1="369.8" x2="299.0" y2="377.0" stroke="#2f4a74" stroke-opacity="0.5" stroke-width="0.9"/>
<line x1="283.7" y1="373.2" x2="296.9" y2="380.5" stroke="#aebbca" stroke-width="1.3"/>
<circle cx="296.6" cy="380.5" r="0.7" fill="#c79a6a"/>
<line x1="281.5" y1="376.6" x2="294.9" y2="383.9" stroke="#2f4a74" stroke-opacity="0.5" stroke-width="0.9"/>
<line x1="279.3" y1="380.0" x2="292.8" y2="387.4" stroke="#aebbca" stroke-width="1.3"/>
<circle cx="292.5" cy="387.4" r="0.7" fill="#c79a6a"/>
<line x1="277.2" y1="383.4" x2="290.7" y2="390.9" stroke="#2f4a74" stroke-opacity="0.5" stroke-width="0.9"/>
<line x1="275.0" y1="386.8" x2="288.7" y2="394.3" stroke="#aebbca" stroke-width="1.3"/>
<circle cx="288.4" cy="394.3" r="0.7" fill="#c79a6a"/>
<line x1="272.9" y1="390.2" x2="286.6" y2="397.8" stroke="#2f4a74" stroke-opacity="0.5" stroke-width="0.9"/>
<line x1="270.7" y1="393.6" x2="284.6" y2="401.3" stroke="#aebbca" stroke-width="1.3"/>
<circle cx="284.3" cy="401.3" r="0.7" fill="#c79a6a"/>
<line x1="268.5" y1="397.0" x2="282.5" y2="404.7" stroke="#2f4a74" stroke-opacity="0.5" stroke-width="0.9"/>
<line x1="266.4" y1="400.4" x2="280.4" y2="408.2" stroke="#aebbca" stroke-width="1.3"/>
<circle cx="280.1" cy="408.2" r="0.7" fill="#c79a6a"/>
<line x1="264.2" y1="403.8" x2="278.4" y2="411.7" stroke="#2f4a74" stroke-opacity="0.5" stroke-width="0.9"/>
<line x1="262.1" y1="407.1" x2="276.3" y2="415.1" stroke="#aebbca" stroke-width="1.3"/>
<circle cx="276.0" cy="415.1" r="0.7" fill="#c79a6a"/>
<line x1="259.9" y1="410.5" x2="274.2" y2="418.6" stroke="#2f4a74" stroke-opacity="0.5" stroke-width="0.9"/>
<line x1="257.7" y1="413.9" x2="272.2" y2="422.1" stroke="#aebbca" stroke-width="1.3"/>
<circle cx="271.9" cy="422.1" r="0.7" fill="#c79a6a"/>
<line x1="255.6" y1="417.3" x2="270.1" y2="425.5" stroke="#2f4a74" stroke-opacity="0.5" stroke-width="0.9"/>
<line x1="253.4" y1="420.7" x2="268.0" y2="429.0" stroke="#aebbca" stroke-width="1.3"/>
<circle cx="267.7" cy="429.0" r="0.7" fill="#c79a6a"/>
<line x1="251.3" y1="424.1" x2="266.0" y2="432.5" stroke="#2f4a74" stroke-opacity="0.5" stroke-width="0.9"/>
<line x1="249.1" y1="427.5" x2="263.9" y2="435.9" stroke="#aebbca" stroke-width="1.3"/>
<circle cx="263.6" cy="435.9" r="0.7" fill="#c79a6a"/>
<line x1="246.9" y1="430.9" x2="261.9" y2="439.4" stroke="#2f4a74" stroke-opacity="0.5" stroke-width="0.9"/>
<line x1="244.8" y1="434.3" x2="259.8" y2="442.9" stroke="#aebbca" stroke-width="1.3"/>
<circle cx="259.5" cy="442.9" r="0.7" fill="#c79a6a"/>
<line x1="240.5" y1="441.1" x2="255.7" y2="449.8" stroke="#aebbca" stroke-width="1.3"/>
<circle cx="255.4" cy="449.8" r="0.7" fill="#c79a6a"/>
<line x1="300.9" y1="346.0" x2="240.5" y2="441.1" stroke="#c0ccda" stroke-width="0.9"/>
<line x1="313.4" y1="352.7" x2="255.7" y2="449.8" stroke="#9fb0c4" stroke-width="0.7"/>
<polygon points="269.4,449.6 278.4,452.6 278.4,455.6 269.4,453.1" fill="#3b3a3c"/>
<polygon points="270.9,449.4 274.9,450.6 274.9,452.2 270.9,451.0" fill="#7a6352" fill-opacity="0.85"/>
<polygon points="322.8,348.1 335.3,354.9 280.4,452.6 265.2,443.9" fill="url(#pan5)"/>
<line x1="326.0" y1="349.8" x2="269.0" y2="446.1" stroke="#2c4a78" stroke-opacity="0.35" stroke-width="0.8"/>
<line x1="329.1" y1="351.5" x2="272.8" y2="448.2" stroke="#2c4a78" stroke-opacity="0.40" stroke-width="0.8"/>
<line x1="332.2" y1="353.2" x2="276.6" y2="450.4" stroke="#2c4a78" stroke-opacity="0.35" stroke-width="0.8"/>
<line x1="322.8" y1="348.1" x2="335.3" y2="354.9" stroke="#aebbca" stroke-width="1.3"/>
<circle cx="335.0" cy="354.9" r="0.7" fill="#c79a6a"/>
<line x1="320.8" y1="351.5" x2="333.4" y2="358.4" stroke="#2f4a74" stroke-opacity="0.5" stroke-width="0.9"/>
<line x1="318.7" y1="355.0" x2="331.4" y2="361.9" stroke="#aebbca" stroke-width="1.3"/>
<circle cx="331.1" cy="361.9" r="0.7" fill="#c79a6a"/>
<line x1="316.7" y1="358.4" x2="329.4" y2="365.4" stroke="#2f4a74" stroke-opacity="0.5" stroke-width="0.9"/>
<line x1="314.6" y1="361.8" x2="327.5" y2="368.8" stroke="#aebbca" stroke-width="1.3"/>
<circle cx="327.2" cy="368.8" r="0.7" fill="#c79a6a"/>
<line x1="312.5" y1="365.2" x2="325.5" y2="372.3" stroke="#2f4a74" stroke-opacity="0.5" stroke-width="0.9"/>
<line x1="310.5" y1="368.6" x2="323.6" y2="375.8" stroke="#aebbca" stroke-width="1.3"/>
<circle cx="323.3" cy="375.8" r="0.7" fill="#c79a6a"/>
<line x1="308.4" y1="372.1" x2="321.6" y2="379.3" stroke="#2f4a74" stroke-opacity="0.5" stroke-width="0.9"/>
<line x1="306.4" y1="375.5" x2="319.6" y2="382.8" stroke="#aebbca" stroke-width="1.3"/>
<circle cx="319.3" cy="382.8" r="0.7" fill="#c79a6a"/>
<line x1="304.3" y1="378.9" x2="317.7" y2="386.3" stroke="#2f4a74" stroke-opacity="0.5" stroke-width="0.9"/>
<line x1="302.2" y1="382.3" x2="315.7" y2="389.8" stroke="#aebbca" stroke-width="1.3"/>
<circle cx="315.4" cy="389.8" r="0.7" fill="#c79a6a"/>
<line x1="300.2" y1="385.7" x2="313.8" y2="393.3" stroke="#2f4a74" stroke-opacity="0.5" stroke-width="0.9"/>
<line x1="298.1" y1="389.2" x2="311.8" y2="396.8" stroke="#aebbca" stroke-width="1.3"/>
<circle cx="311.5" cy="396.8" r="0.7" fill="#c79a6a"/>
<line x1="296.1" y1="392.6" x2="309.8" y2="400.2" stroke="#2f4a74" stroke-opacity="0.5" stroke-width="0.9"/>
<line x1="294.0" y1="396.0" x2="307.9" y2="403.7" stroke="#aebbca" stroke-width="1.3"/>
<circle cx="307.6" cy="403.7" r="0.7" fill="#c79a6a"/>
<line x1="292.0" y1="399.4" x2="305.9" y2="407.2" stroke="#2f4a74" stroke-opacity="0.5" stroke-width="0.9"/>
<line x1="289.9" y1="402.8" x2="303.9" y2="410.7" stroke="#aebbca" stroke-width="1.3"/>
<circle cx="303.6" cy="410.7" r="0.7" fill="#c79a6a"/>
<line x1="287.8" y1="406.3" x2="302.0" y2="414.2" stroke="#2f4a74" stroke-opacity="0.5" stroke-width="0.9"/>
<line x1="285.8" y1="409.7" x2="300.0" y2="417.7" stroke="#aebbca" stroke-width="1.3"/>
<circle cx="299.7" cy="417.7" r="0.7" fill="#c79a6a"/>
<line x1="283.7" y1="413.1" x2="298.1" y2="421.2" stroke="#2f4a74" stroke-opacity="0.5" stroke-width="0.9"/>
<line x1="281.7" y1="416.5" x2="296.1" y2="424.7" stroke="#aebbca" stroke-width="1.3"/>
<circle cx="295.8" cy="424.7" r="0.7" fill="#c79a6a"/>
<line x1="279.6" y1="419.9" x2="294.1" y2="428.2" stroke="#2f4a74" stroke-opacity="0.5" stroke-width="0.9"/>
<line x1="277.6" y1="423.4" x2="292.2" y2="431.7" stroke="#aebbca" stroke-width="1.3"/>
<circle cx="291.9" cy="431.7" r="0.7" fill="#c79a6a"/>
<line x1="275.5" y1="426.8" x2="290.2" y2="435.1" stroke="#2f4a74" stroke-opacity="0.5" stroke-width="0.9"/>
<line x1="273.4" y1="430.2" x2="288.3" y2="438.6" stroke="#aebbca" stroke-width="1.3"/>
<circle cx="288.0" cy="438.6" r="0.7" fill="#c79a6a"/>
<line x1="271.4" y1="433.6" x2="286.3" y2="442.1" stroke="#2f4a74" stroke-opacity="0.5" stroke-width="0.9"/>
<line x1="269.3" y1="437.1" x2="284.3" y2="445.6" stroke="#aebbca" stroke-width="1.3"/>
<circle cx="284.0" cy="445.6" r="0.7" fill="#c79a6a"/>
<line x1="265.2" y1="443.9" x2="280.4" y2="452.6" stroke="#aebbca" stroke-width="1.3"/>
<circle cx="280.1" cy="452.6" r="0.7" fill="#c79a6a"/>
<line x1="322.8" y1="348.1" x2="265.2" y2="443.9" stroke="#c0ccda" stroke-width="0.9"/>
<line x1="335.3" y1="354.9" x2="280.4" y2="452.6" stroke="#9fb0c4" stroke-width="0.7"/>
<polygon points="294.4,452.4 303.4,455.4 303.4,458.4 294.4,455.9" fill="#3b3a3c"/>
<polygon points="295.9,452.2 299.9,453.4 299.9,455.0 295.9,453.8" fill="#7a6352" fill-opacity="0.85"/>
<polygon points="344.9,350.2 357.4,357.1 305.4,455.4 290.2,446.7" fill="url(#pan6)"/>
<line x1="348.0" y1="351.9" x2="294.0" y2="448.9" stroke="#2c4a78" stroke-opacity="0.35" stroke-width="0.8"/>
<line x1="351.1" y1="353.6" x2="297.8" y2="451.0" stroke="#2c4a78" stroke-opacity="0.40" stroke-width="0.8"/>
<line x1="354.3" y1="355.3" x2="301.6" y2="453.2" stroke="#2c4a78" stroke-opacity="0.35" stroke-width="0.8"/>
<line x1="344.9" y1="350.2" x2="357.4" y2="357.1" stroke="#aebbca" stroke-width="1.3"/>
<circle cx="357.1" cy="357.1" r="0.7" fill="#c79a6a"/>
<line x1="343.1" y1="353.4" x2="355.7" y2="360.3" stroke="#2f4a74" stroke-opacity="0.5" stroke-width="0.9"/>
<line x1="341.2" y1="356.6" x2="353.9" y2="363.6" stroke="#aebbca" stroke-width="1.3"/>
<circle cx="353.6" cy="363.6" r="0.7" fill="#c79a6a"/>
<line x1="339.4" y1="359.9" x2="352.2" y2="366.9" stroke="#2f4a74" stroke-opacity="0.5" stroke-width="0.9"/>
<line x1="337.6" y1="363.1" x2="350.5" y2="370.2" stroke="#aebbca" stroke-width="1.3"/>
<circle cx="350.2" cy="370.2" r="0.7" fill="#c79a6a"/>
<line x1="335.8" y1="366.3" x2="348.7" y2="373.4" stroke="#2f4a74" stroke-opacity="0.5" stroke-width="0.9"/>
<line x1="333.9" y1="369.5" x2="347.0" y2="376.7" stroke="#aebbca" stroke-width="1.3"/>
<circle cx="346.7" cy="376.7" r="0.7" fill="#c79a6a"/>
<line x1="332.1" y1="372.7" x2="345.3" y2="380.0" stroke="#2f4a74" stroke-opacity="0.5" stroke-width="0.9"/>
<line x1="330.3" y1="375.9" x2="343.5" y2="383.3" stroke="#aebbca" stroke-width="1.3"/>
<circle cx="343.2" cy="383.3" r="0.7" fill="#c79a6a"/>
<line x1="328.5" y1="379.2" x2="341.8" y2="386.6" stroke="#2f4a74" stroke-opacity="0.5" stroke-width="0.9"/>
<line x1="326.7" y1="382.4" x2="340.1" y2="389.8" stroke="#aebbca" stroke-width="1.3"/>
<circle cx="339.8" cy="389.8" r="0.7" fill="#c79a6a"/>
<line x1="324.8" y1="385.6" x2="338.3" y2="393.1" stroke="#2f4a74" stroke-opacity="0.5" stroke-width="0.9"/>
<line x1="323.0" y1="388.8" x2="336.6" y2="396.4" stroke="#aebbca" stroke-width="1.3"/>
<circle cx="336.3" cy="396.4" r="0.7" fill="#c79a6a"/>
<line x1="321.2" y1="392.0" x2="334.8" y2="399.7" stroke="#2f4a74" stroke-opacity="0.5" stroke-width="0.9"/>
<line x1="319.4" y1="395.2" x2="333.1" y2="402.9" stroke="#aebbca" stroke-width="1.3"/>
<circle cx="332.8" cy="402.9" r="0.7" fill="#c79a6a"/>
<line x1="317.5" y1="398.4" x2="331.4" y2="406.2" stroke="#2f4a74" stroke-opacity="0.5" stroke-width="0.9"/>
<line x1="315.7" y1="401.7" x2="329.6" y2="409.5" stroke="#aebbca" stroke-width="1.3"/>
<circle cx="329.3" cy="409.5" r="0.7" fill="#c79a6a"/>
<line x1="313.9" y1="404.9" x2="327.9" y2="412.8" stroke="#2f4a74" stroke-opacity="0.5" stroke-width="0.9"/>
<line x1="312.1" y1="408.1" x2="326.2" y2="416.1" stroke="#aebbca" stroke-width="1.3"/>
<circle cx="325.9" cy="416.1" r="0.7" fill="#c79a6a"/>
<line x1="310.2" y1="411.3" x2="324.4" y2="419.3" stroke="#2f4a74" stroke-opacity="0.5" stroke-width="0.9"/>
<line x1="308.4" y1="414.5" x2="322.7" y2="422.6" stroke="#aebbca" stroke-width="1.3"/>
<circle cx="322.4" cy="422.6" r="0.7" fill="#c79a6a"/>
<line x1="306.6" y1="417.7" x2="321.0" y2="425.9" stroke="#2f4a74" stroke-opacity="0.5" stroke-width="0.9"/>
<line x1="304.8" y1="421.0" x2="319.2" y2="429.2" stroke="#aebbca" stroke-width="1.3"/>
<circle cx="318.9" cy="429.2" r="0.7" fill="#c79a6a"/>
<line x1="302.9" y1="424.2" x2="317.5" y2="432.4" stroke="#2f4a74" stroke-opacity="0.5" stroke-width="0.9"/>
<line x1="301.1" y1="427.4" x2="315.8" y2="435.7" stroke="#aebbca" stroke-width="1.3"/>
<circle cx="315.5" cy="435.7" r="0.7" fill="#c79a6a"/>
<line x1="299.3" y1="430.6" x2="314.0" y2="439.0" stroke="#2f4a74" stroke-opacity="0.5" stroke-width="0.9"/>
<line x1="297.5" y1="433.8" x2="312.3" y2="442.3" stroke="#aebbca" stroke-width="1.3"/>
<circle cx="312.0" cy="442.3" r="0.7" fill="#c79a6a"/>
<line x1="295.6" y1="437.0" x2="310.6" y2="445.6" stroke="#2f4a74" stroke-opacity="0.5" stroke-width="0.9"/>
<line x1="293.8" y1="440.3" x2="308.8" y2="448.8" stroke="#aebbca" stroke-width="1.3"/>
<circle cx="308.5" cy="448.8" r="0.7" fill="#c79a6a"/>
<line x1="290.2" y1="446.7" x2="305.4" y2="455.4" stroke="#aebbca" stroke-width="1.3"/>
<circle cx="305.1" cy="455.4" r="0.7" fill="#c79a6a"/>
<line x1="344.9" y1="350.2" x2="290.2" y2="446.7" stroke="#c0ccda" stroke-width="0.9"/>
<line x1="357.4" y1="357.1" x2="305.4" y2="455.4" stroke="#9fb0c4" stroke-width="0.7"/>
<polygon points="319.6,455.2 328.6,458.2 328.6,461.2 319.6,458.7" fill="#3b3a3c"/>
<polygon points="321.1,455.0 325.1,456.2 325.1,457.8 321.1,456.6" fill="#7a6352" fill-opacity="0.85"/>
<polygon points="367.1,352.3 379.6,359.2 330.6,458.2 315.4,449.5" fill="url(#pan7)"/>
<line x1="370.3" y1="354.0" x2="319.2" y2="451.7" stroke="#2c4a78" stroke-opacity="0.35" stroke-width="0.8"/>
<line x1="373.4" y1="355.8" x2="323.0" y2="453.8" stroke="#2c4a78" stroke-opacity="0.40" stroke-width="0.8"/>
<line x1="376.5" y1="357.5" x2="326.8" y2="456.0" stroke="#2c4a78" stroke-opacity="0.35" stroke-width="0.8"/>
<line x1="367.1" y1="352.3" x2="379.6" y2="359.2" stroke="#aebbca" stroke-width="1.3"/>
<circle cx="379.3" cy="359.2" r="0.7" fill="#c79a6a"/>
<line x1="365.4" y1="355.6" x2="378.0" y2="362.5" stroke="#2f4a74" stroke-opacity="0.5" stroke-width="0.9"/>
<line x1="363.7" y1="358.8" x2="376.4" y2="365.8" stroke="#aebbca" stroke-width="1.3"/>
<circle cx="376.1" cy="365.8" r="0.7" fill="#c79a6a"/>
<line x1="362.0" y1="362.0" x2="374.7" y2="369.1" stroke="#2f4a74" stroke-opacity="0.5" stroke-width="0.9"/>
<line x1="360.2" y1="365.3" x2="373.1" y2="372.4" stroke="#aebbca" stroke-width="1.3"/>
<circle cx="372.8" cy="372.4" r="0.7" fill="#c79a6a"/>
<line x1="358.5" y1="368.5" x2="371.5" y2="375.7" stroke="#2f4a74" stroke-opacity="0.5" stroke-width="0.9"/>
<line x1="356.8" y1="371.8" x2="369.8" y2="379.0" stroke="#aebbca" stroke-width="1.3"/>
<circle cx="369.5" cy="379.0" r="0.7" fill="#c79a6a"/>
<line x1="355.1" y1="375.0" x2="368.2" y2="382.3" stroke="#2f4a74" stroke-opacity="0.5" stroke-width="0.9"/>
<line x1="353.3" y1="378.2" x2="366.5" y2="385.6" stroke="#aebbca" stroke-width="1.3"/>
<circle cx="366.2" cy="385.6" r="0.7" fill="#c79a6a"/>
<line x1="351.6" y1="381.5" x2="364.9" y2="388.9" stroke="#2f4a74" stroke-opacity="0.5" stroke-width="0.9"/>
<line x1="349.9" y1="384.7" x2="363.3" y2="392.2" stroke="#aebbca" stroke-width="1.3"/>
<circle cx="363.0" cy="392.2" r="0.7" fill="#c79a6a"/>
<line x1="348.2" y1="387.9" x2="361.6" y2="395.5" stroke="#2f4a74" stroke-opacity="0.5" stroke-width="0.9"/>
<line x1="346.4" y1="391.2" x2="360.0" y2="398.8" stroke="#aebbca" stroke-width="1.3"/>
<circle cx="359.7" cy="398.8" r="0.7" fill="#c79a6a"/>
<line x1="344.7" y1="394.4" x2="358.4" y2="402.1" stroke="#2f4a74" stroke-opacity="0.5" stroke-width="0.9"/>
<line x1="343.0" y1="397.7" x2="356.7" y2="405.4" stroke="#aebbca" stroke-width="1.3"/>
<circle cx="356.4" cy="405.4" r="0.7" fill="#c79a6a"/>
<line x1="341.2" y1="400.9" x2="355.1" y2="408.7" stroke="#2f4a74" stroke-opacity="0.5" stroke-width="0.9"/>
<line x1="339.5" y1="404.1" x2="353.5" y2="412.0" stroke="#aebbca" stroke-width="1.3"/>
<circle cx="353.2" cy="412.0" r="0.7" fill="#c79a6a"/>
<line x1="337.8" y1="407.4" x2="351.8" y2="415.3" stroke="#2f4a74" stroke-opacity="0.5" stroke-width="0.9"/>
<line x1="336.1" y1="410.6" x2="350.2" y2="418.6" stroke="#aebbca" stroke-width="1.3"/>
<circle cx="349.9" cy="418.6" r="0.7" fill="#c79a6a"/>
<line x1="334.3" y1="413.9" x2="348.6" y2="421.9" stroke="#2f4a74" stroke-opacity="0.5" stroke-width="0.9"/>
<line x1="332.6" y1="417.1" x2="346.9" y2="425.2" stroke="#aebbca" stroke-width="1.3"/>
<circle cx="346.6" cy="425.2" r="0.7" fill="#c79a6a"/>
<line x1="330.9" y1="420.3" x2="345.3" y2="428.5" stroke="#2f4a74" stroke-opacity="0.5" stroke-width="0.9"/>
<line x1="329.2" y1="423.6" x2="343.6" y2="431.8" stroke="#aebbca" stroke-width="1.3"/>
<circle cx="343.3" cy="431.8" r="0.7" fill="#c79a6a"/>
<line x1="327.4" y1="426.8" x2="342.0" y2="435.1" stroke="#2f4a74" stroke-opacity="0.5" stroke-width="0.9"/>
<line x1="325.7" y1="430.1" x2="340.4" y2="438.4" stroke="#aebbca" stroke-width="1.3"/>
<circle cx="340.1" cy="438.4" r="0.7" fill="#c79a6a"/>
<line x1="324.0" y1="433.3" x2="338.7" y2="441.7" stroke="#2f4a74" stroke-opacity="0.5" stroke-width="0.9"/>
<line x1="322.3" y1="436.5" x2="337.1" y2="445.0" stroke="#aebbca" stroke-width="1.3"/>
<circle cx="336.8" cy="445.0" r="0.7" fill="#c79a6a"/>
<line x1="320.5" y1="439.8" x2="335.5" y2="448.3" stroke="#2f4a74" stroke-opacity="0.5" stroke-width="0.9"/>
<line x1="318.8" y1="443.0" x2="333.8" y2="451.6" stroke="#aebbca" stroke-width="1.3"/>
<circle cx="333.5" cy="451.6" r="0.7" fill="#c79a6a"/>
<line x1="315.4" y1="449.5" x2="330.6" y2="458.2" stroke="#aebbca" stroke-width="1.3"/>
<circle cx="330.3" cy="458.2" r="0.7" fill="#c79a6a"/>
<line x1="367.1" y1="352.3" x2="315.4" y2="449.5" stroke="#c0ccda" stroke-width="1.0"/>
<line x1="379.6" y1="359.2" x2="330.6" y2="458.2" stroke="#9fb0c4" stroke-width="0.7"/>
<polygon points="345.0,458.0 354.0,461.0 354.0,464.0 345.0,461.5" fill="#3b3a3c"/>
<polygon points="346.5,457.8 350.5,459.0 350.5,460.6 346.5,459.4" fill="#7a6352" fill-opacity="0.85"/>
<polygon points="389.5,354.4 402.0,361.4 356.0,461.0 340.8,452.3" fill="url(#pan8)"/>
<line x1="392.7" y1="356.2" x2="344.6" y2="454.5" stroke="#2c4a78" stroke-opacity="0.35" stroke-width="0.8"/>
<line x1="395.8" y1="357.9" x2="348.4" y2="456.6" stroke="#2c4a78" stroke-opacity="0.40" stroke-width="0.8"/>
<line x1="398.9" y1="359.7" x2="352.2" y2="458.8" stroke="#2c4a78" stroke-opacity="0.35" stroke-width="0.8"/>
<line x1="389.5" y1="354.4" x2="402.0" y2="361.4" stroke="#aebbca" stroke-width="1.3"/>
<circle cx="401.7" cy="361.4" r="0.7" fill="#c79a6a"/>
<line x1="387.9" y1="357.7" x2="400.5" y2="364.7" stroke="#2f4a74" stroke-opacity="0.5" stroke-width="0.9"/>
<line x1="386.3" y1="361.0" x2="399.0" y2="368.1" stroke="#aebbca" stroke-width="1.3"/>
<circle cx="398.7" cy="368.1" r="0.7" fill="#c79a6a"/>
<line x1="384.7" y1="364.2" x2="397.4" y2="371.4" stroke="#2f4a74" stroke-opacity="0.5" stroke-width="0.9"/>
<line x1="383.0" y1="367.5" x2="395.9" y2="374.7" stroke="#aebbca" stroke-width="1.3"/>
<circle cx="395.6" cy="374.7" r="0.7" fill="#c79a6a"/>
<line x1="381.4" y1="370.7" x2="394.4" y2="378.0" stroke="#2f4a74" stroke-opacity="0.5" stroke-width="0.9"/>
<line x1="379.8" y1="374.0" x2="392.8" y2="381.3" stroke="#aebbca" stroke-width="1.3"/>
<circle cx="392.5" cy="381.3" r="0.7" fill="#c79a6a"/>
<line x1="378.2" y1="377.3" x2="391.3" y2="384.7" stroke="#2f4a74" stroke-opacity="0.5" stroke-width="0.9"/>
<line x1="376.5" y1="380.5" x2="389.8" y2="388.0" stroke="#aebbca" stroke-width="1.3"/>
<circle cx="389.5" cy="388.0" r="0.7" fill="#c79a6a"/>
<line x1="374.9" y1="383.8" x2="388.2" y2="391.3" stroke="#2f4a74" stroke-opacity="0.5" stroke-width="0.9"/>
<line x1="373.3" y1="387.1" x2="386.7" y2="394.6" stroke="#aebbca" stroke-width="1.3"/>
<circle cx="386.4" cy="394.6" r="0.7" fill="#c79a6a"/>
<line x1="371.7" y1="390.3" x2="385.2" y2="397.9" stroke="#2f4a74" stroke-opacity="0.5" stroke-width="0.9"/>
<line x1="370.0" y1="393.6" x2="383.6" y2="401.3" stroke="#aebbca" stroke-width="1.3"/>
<circle cx="383.3" cy="401.3" r="0.7" fill="#c79a6a"/>
<line x1="368.4" y1="396.8" x2="382.1" y2="404.6" stroke="#2f4a74" stroke-opacity="0.5" stroke-width="0.9"/>
<line x1="366.8" y1="400.1" x2="380.6" y2="407.9" stroke="#aebbca" stroke-width="1.3"/>
<circle cx="380.3" cy="407.9" r="0.7" fill="#c79a6a"/>
<line x1="365.2" y1="403.4" x2="379.0" y2="411.2" stroke="#2f4a74" stroke-opacity="0.5" stroke-width="0.9"/>
<line x1="363.5" y1="406.6" x2="377.5" y2="414.5" stroke="#aebbca" stroke-width="1.3"/>
<circle cx="377.2" cy="414.5" r="0.7" fill="#c79a6a"/>
<line x1="361.9" y1="409.9" x2="375.9" y2="417.8" stroke="#2f4a74" stroke-opacity="0.5" stroke-width="0.9"/>
<line x1="360.3" y1="413.2" x2="374.4" y2="421.2" stroke="#aebbca" stroke-width="1.3"/>
<circle cx="374.1" cy="421.2" r="0.7" fill="#c79a6a"/>
<line x1="358.7" y1="416.4" x2="372.9" y2="424.5" stroke="#2f4a74" stroke-opacity="0.5" stroke-width="0.9"/>
<line x1="357.0" y1="419.7" x2="371.3" y2="427.8" stroke="#aebbca" stroke-width="1.3"/>
<circle cx="371.0" cy="427.8" r="0.7" fill="#c79a6a"/>
<line x1="355.4" y1="422.9" x2="369.8" y2="431.1" stroke="#2f4a74" stroke-opacity="0.5" stroke-width="0.9"/>
<line x1="353.8" y1="426.2" x2="368.3" y2="434.4" stroke="#aebbca" stroke-width="1.3"/>
<circle cx="368.0" cy="434.4" r="0.7" fill="#c79a6a"/>
<line x1="352.2" y1="429.5" x2="366.7" y2="437.8" stroke="#2f4a74" stroke-opacity="0.5" stroke-width="0.9"/>
<line x1="350.5" y1="432.7" x2="365.2" y2="441.1" stroke="#aebbca" stroke-width="1.3"/>
<circle cx="364.9" cy="441.1" r="0.7" fill="#c79a6a"/>
<line x1="348.9" y1="436.0" x2="363.7" y2="444.4" stroke="#2f4a74" stroke-opacity="0.5" stroke-width="0.9"/>
<line x1="347.3" y1="439.2" x2="362.1" y2="447.7" stroke="#aebbca" stroke-width="1.3"/>
<circle cx="361.8" cy="447.7" r="0.7" fill="#c79a6a"/>
<line x1="345.7" y1="442.5" x2="360.6" y2="451.0" stroke="#2f4a74" stroke-opacity="0.5" stroke-width="0.9"/>
<line x1="344.0" y1="445.8" x2="359.1" y2="454.4" stroke="#aebbca" stroke-width="1.3"/>
<circle cx="358.8" cy="454.4" r="0.7" fill="#c79a6a"/>
<line x1="340.8" y1="452.3" x2="356.0" y2="461.0" stroke="#aebbca" stroke-width="1.3"/>
<circle cx="355.7" cy="461.0" r="0.7" fill="#c79a6a"/>
<line x1="389.5" y1="354.4" x2="340.8" y2="452.3" stroke="#c0ccda" stroke-width="1.0"/>
<line x1="402.0" y1="361.4" x2="356.0" y2="461.0" stroke="#9fb0c4" stroke-width="0.7"/>
<polygon points="370.6,460.8 379.6,463.8 379.6,466.8 370.6,464.3" fill="#3b3a3c"/>
<polygon points="372.1,460.6 376.1,461.8 376.1,463.4 372.1,462.2" fill="#7a6352" fill-opacity="0.85"/>
<polygon points="412.1,356.5 424.6,363.6 381.6,463.8 366.4,455.1" fill="url(#pan9)"/>
<line x1="415.3" y1="358.3" x2="370.2" y2="457.3" stroke="#2c4a78" stroke-opacity="0.35" stroke-width="0.8"/>
<line x1="418.4" y1="360.1" x2="374.0" y2="459.5" stroke="#2c4a78" stroke-opacity="0.40" stroke-width="0.8"/>
<line x1="421.5" y1="361.8" x2="377.8" y2="461.6" stroke="#2c4a78" stroke-opacity="0.35" stroke-width="0.8"/>
<line x1="412.1" y1="356.5" x2="424.6" y2="363.6" stroke="#aebbca" stroke-width="1.3"/>
<circle cx="424.3" cy="363.6" r="0.7" fill="#c79a6a"/>
<line x1="410.6" y1="359.8" x2="423.2" y2="367.0" stroke="#2f4a74" stroke-opacity="0.5" stroke-width="0.9"/>
<line x1="409.1" y1="363.1" x2="421.8" y2="370.3" stroke="#aebbca" stroke-width="1.3"/>
<circle cx="421.5" cy="370.3" r="0.7" fill="#c79a6a"/>
<line x1="407.6" y1="366.4" x2="420.3" y2="373.6" stroke="#2f4a74" stroke-opacity="0.5" stroke-width="0.9"/>
<line x1="406.1" y1="369.7" x2="418.9" y2="377.0" stroke="#aebbca" stroke-width="1.3"/>
<circle cx="418.6" cy="377.0" r="0.7" fill="#c79a6a"/>
<line x1="404.5" y1="373.0" x2="417.5" y2="380.3" stroke="#2f4a74" stroke-opacity="0.5" stroke-width="0.9"/>
<line x1="403.0" y1="376.3" x2="416.0" y2="383.7" stroke="#aebbca" stroke-width="1.3"/>
<circle cx="415.7" cy="383.7" r="0.7" fill="#c79a6a"/>
<line x1="401.5" y1="379.5" x2="414.6" y2="387.0" stroke="#2f4a74" stroke-opacity="0.5" stroke-width="0.9"/>
<line x1="400.0" y1="382.8" x2="413.2" y2="390.3" stroke="#aebbca" stroke-width="1.3"/>
<circle cx="412.9" cy="390.3" r="0.7" fill="#c79a6a"/>
<line x1="398.4" y1="386.1" x2="411.7" y2="393.7" stroke="#2f4a74" stroke-opacity="0.5" stroke-width="0.9"/>
<line x1="396.9" y1="389.4" x2="410.3" y2="397.0" stroke="#aebbca" stroke-width="1.3"/>
<circle cx="410.0" cy="397.0" r="0.7" fill="#c79a6a"/>
<line x1="395.4" y1="392.7" x2="408.9" y2="400.4" stroke="#2f4a74" stroke-opacity="0.5" stroke-width="0.9"/>
<line x1="393.9" y1="396.0" x2="407.4" y2="403.7" stroke="#aebbca" stroke-width="1.3"/>
<circle cx="407.1" cy="403.7" r="0.7" fill="#c79a6a"/>
<line x1="392.3" y1="399.3" x2="406.0" y2="407.0" stroke="#2f4a74" stroke-opacity="0.5" stroke-width="0.9"/>
<line x1="390.8" y1="402.5" x2="404.6" y2="410.4" stroke="#aebbca" stroke-width="1.3"/>
<circle cx="404.3" cy="410.4" r="0.7" fill="#c79a6a"/>
<line x1="389.3" y1="405.8" x2="403.1" y2="413.7" stroke="#2f4a74" stroke-opacity="0.5" stroke-width="0.9"/>
<line x1="387.8" y1="409.1" x2="401.7" y2="417.1" stroke="#aebbca" stroke-width="1.3"/>
<circle cx="401.4" cy="417.1" r="0.7" fill="#c79a6a"/>
<line x1="386.2" y1="412.4" x2="400.3" y2="420.4" stroke="#2f4a74" stroke-opacity="0.5" stroke-width="0.9"/>
<line x1="384.7" y1="415.7" x2="398.8" y2="423.7" stroke="#aebbca" stroke-width="1.3"/>
<circle cx="398.5" cy="423.7" r="0.7" fill="#c79a6a"/>
<line x1="383.2" y1="419.0" x2="397.4" y2="427.1" stroke="#2f4a74" stroke-opacity="0.5" stroke-width="0.9"/>
<line x1="381.7" y1="422.3" x2="396.0" y2="430.4" stroke="#aebbca" stroke-width="1.3"/>
<circle cx="395.7" cy="430.4" r="0.7" fill="#c79a6a"/>
<line x1="380.2" y1="425.5" x2="394.5" y2="433.8" stroke="#2f4a74" stroke-opacity="0.5" stroke-width="0.9"/>
<line x1="378.6" y1="428.8" x2="393.1" y2="437.1" stroke="#aebbca" stroke-width="1.3"/>
<circle cx="392.8" cy="437.1" r="0.7" fill="#c79a6a"/>
<line x1="377.1" y1="432.1" x2="391.7" y2="440.4" stroke="#2f4a74" stroke-opacity="0.5" stroke-width="0.9"/>
<line x1="375.6" y1="435.4" x2="390.2" y2="443.8" stroke="#aebbca" stroke-width="1.3"/>
<circle cx="389.9" cy="443.8" r="0.7" fill="#c79a6a"/>
<line x1="374.1" y1="438.7" x2="388.8" y2="447.1" stroke="#2f4a74" stroke-opacity="0.5" stroke-width="0.9"/>
<line x1="372.5" y1="442.0" x2="387.4" y2="450.5" stroke="#aebbca" stroke-width="1.3"/>
<circle cx="387.1" cy="450.5" r="0.7" fill="#c79a6a"/>
<line x1="371.0" y1="445.3" x2="385.9" y2="453.8" stroke="#2f4a74" stroke-opacity="0.5" stroke-width="0.9"/>
<line x1="369.5" y1="448.6" x2="384.5" y2="457.1" stroke="#aebbca" stroke-width="1.3"/>
<circle cx="384.2" cy="457.1" r="0.7" fill="#c79a6a"/>
<line x1="366.4" y1="455.1" x2="381.6" y2="463.8" stroke="#aebbca" stroke-width="1.3"/>
<circle cx="381.3" cy="463.8" r="0.7" fill="#c79a6a"/>
<line x1="412.1" y1="356.5" x2="366.4" y2="455.1" stroke="#c0ccda" stroke-width="1.0"/>
<line x1="424.6" y1="363.6" x2="381.6" y2="463.8" stroke="#9fb0c4" stroke-width="0.7"/>
<polygon points="396.5,463.7 405.5,466.7 405.5,469.7 396.5,467.2" fill="#3b3a3c"/>
<polygon points="398.0,463.5 402.0,464.7 402.0,466.3 398.0,465.1" fill="#7a6352" fill-opacity="0.85"/>
<polygon points="434.9,358.7 447.4,365.8 407.5,466.7 392.3,458.0" fill="url(#pan10)"/>
<line x1="438.0" y1="360.5" x2="396.1" y2="460.1" stroke="#2c4a78" stroke-opacity="0.35" stroke-width="0.8"/>
<line x1="441.2" y1="362.2" x2="399.9" y2="462.3" stroke="#2c4a78" stroke-opacity="0.40" stroke-width="0.8"/>
<line x1="444.3" y1="364.0" x2="403.7" y2="464.5" stroke="#2c4a78" stroke-opacity="0.35" stroke-width="0.8"/>
<line x1="434.9" y1="358.7" x2="447.4" y2="365.8" stroke="#aebbca" stroke-width="1.3"/>
<circle cx="447.1" cy="365.8" r="0.7" fill="#c79a6a"/>
<line x1="433.5" y1="362.0" x2="446.1" y2="369.2" stroke="#2f4a74" stroke-opacity="0.5" stroke-width="0.9"/>
<line x1="432.1" y1="365.3" x2="444.8" y2="372.5" stroke="#aebbca" stroke-width="1.3"/>
<circle cx="444.5" cy="372.5" r="0.7" fill="#c79a6a"/>
<line x1="430.7" y1="368.6" x2="443.4" y2="375.9" stroke="#2f4a74" stroke-opacity="0.5" stroke-width="0.9"/>
<line x1="429.2" y1="371.9" x2="442.1" y2="379.3" stroke="#aebbca" stroke-width="1.3"/>
<circle cx="441.8" cy="379.3" r="0.7" fill="#c79a6a"/>
<line x1="427.8" y1="375.2" x2="440.8" y2="382.6" stroke="#2f4a74" stroke-opacity="0.5" stroke-width="0.9"/>
<line x1="426.4" y1="378.5" x2="439.4" y2="386.0" stroke="#aebbca" stroke-width="1.3"/>
<circle cx="439.1" cy="386.0" r="0.7" fill="#c79a6a"/>
<line x1="425.0" y1="381.8" x2="438.1" y2="389.3" stroke="#2f4a74" stroke-opacity="0.5" stroke-width="0.9"/>
<line x1="423.6" y1="385.1" x2="436.8" y2="392.7" stroke="#aebbca" stroke-width="1.3"/>
<circle cx="436.5" cy="392.7" r="0.7" fill="#c79a6a"/>
<line x1="422.1" y1="388.5" x2="435.5" y2="396.1" stroke="#2f4a74" stroke-opacity="0.5" stroke-width="0.9"/>
<line x1="420.7" y1="391.8" x2="434.1" y2="399.4" stroke="#aebbca" stroke-width="1.3"/>
<circle cx="433.8" cy="399.4" r="0.7" fill="#c79a6a"/>
<line x1="419.3" y1="395.1" x2="432.8" y2="402.8" stroke="#2f4a74" stroke-opacity="0.5" stroke-width="0.9"/>
<line x1="417.9" y1="398.4" x2="431.5" y2="406.1" stroke="#aebbca" stroke-width="1.3"/>
<circle cx="431.2" cy="406.1" r="0.7" fill="#c79a6a"/>
<line x1="416.5" y1="401.7" x2="430.1" y2="409.5" stroke="#2f4a74" stroke-opacity="0.5" stroke-width="0.9"/>
<line x1="415.0" y1="405.0" x2="428.8" y2="412.9" stroke="#aebbca" stroke-width="1.3"/>
<circle cx="428.5" cy="412.9" r="0.7" fill="#c79a6a"/>
<line x1="413.6" y1="408.3" x2="427.5" y2="416.2" stroke="#2f4a74" stroke-opacity="0.5" stroke-width="0.9"/>
<line x1="412.2" y1="411.6" x2="426.1" y2="419.6" stroke="#aebbca" stroke-width="1.3"/>
<circle cx="425.8" cy="419.6" r="0.7" fill="#c79a6a"/>
<line x1="410.8" y1="414.9" x2="424.8" y2="423.0" stroke="#2f4a74" stroke-opacity="0.5" stroke-width="0.9"/>
<line x1="409.4" y1="418.2" x2="423.5" y2="426.3" stroke="#aebbca" stroke-width="1.3"/>
<circle cx="423.2" cy="426.3" r="0.7" fill="#c79a6a"/>
<line x1="407.9" y1="421.6" x2="422.2" y2="429.7" stroke="#2f4a74" stroke-opacity="0.5" stroke-width="0.9"/>
<line x1="406.5" y1="424.9" x2="420.8" y2="433.0" stroke="#aebbca" stroke-width="1.3"/>
<circle cx="420.5" cy="433.0" r="0.7" fill="#c79a6a"/>
<line x1="405.1" y1="428.2" x2="419.5" y2="436.4" stroke="#2f4a74" stroke-opacity="0.5" stroke-width="0.9"/>
<line x1="403.7" y1="431.5" x2="418.2" y2="439.8" stroke="#aebbca" stroke-width="1.3"/>
<circle cx="417.9" cy="439.8" r="0.7" fill="#c79a6a"/>
<line x1="402.3" y1="434.8" x2="416.8" y2="443.1" stroke="#2f4a74" stroke-opacity="0.5" stroke-width="0.9"/>
<line x1="400.8" y1="438.1" x2="415.5" y2="446.5" stroke="#aebbca" stroke-width="1.3"/>
<circle cx="415.2" cy="446.5" r="0.7" fill="#c79a6a"/>
<line x1="399.4" y1="441.4" x2="414.2" y2="449.8" stroke="#2f4a74" stroke-opacity="0.5" stroke-width="0.9"/>
<line x1="398.0" y1="444.7" x2="412.8" y2="453.2" stroke="#aebbca" stroke-width="1.3"/>
<circle cx="412.5" cy="453.2" r="0.7" fill="#c79a6a"/>
<line x1="396.6" y1="448.0" x2="411.5" y2="456.6" stroke="#2f4a74" stroke-opacity="0.5" stroke-width="0.9"/>
<line x1="395.2" y1="451.3" x2="410.2" y2="459.9" stroke="#aebbca" stroke-width="1.3"/>
<circle cx="409.9" cy="459.9" r="0.7" fill="#c79a6a"/>
<line x1="392.3" y1="458.0" x2="407.5" y2="466.7" stroke="#aebbca" stroke-width="1.3"/>
<circle cx="407.2" cy="466.7" r="0.7" fill="#c79a6a"/>
<line x1="434.9" y1="358.7" x2="392.3" y2="458.0" stroke="#c0ccda" stroke-width="1.0"/>
<line x1="447.4" y1="365.8" x2="407.5" y2="466.7" stroke="#9fb0c4" stroke-width="0.7"/>
<polygon points="422.6,466.5 431.6,469.5 431.6,472.5 422.6,470.0" fill="#3b3a3c"/>
<polygon points="424.1,466.3 428.1,467.5 428.1,469.1 424.1,467.9" fill="#7a6352" fill-opacity="0.85"/>
<polygon points="457.9,360.8 470.4,368.0 433.6,469.5 418.4,460.8" fill="url(#pan11)"/>
<line x1="461.0" y1="362.6" x2="422.2" y2="463.0" stroke="#2c4a78" stroke-opacity="0.35" stroke-width="0.8"/>
<line x1="464.1" y1="364.4" x2="426.0" y2="465.2" stroke="#2c4a78" stroke-opacity="0.40" stroke-width="0.8"/>
<line x1="467.2" y1="366.2" x2="429.8" y2="467.3" stroke="#2c4a78" stroke-opacity="0.35" stroke-width="0.8"/>
<line x1="457.9" y1="360.8" x2="470.4" y2="368.0" stroke="#aebbca" stroke-width="1.3"/>
<circle cx="470.1" cy="368.0" r="0.7" fill="#c79a6a"/>
<line x1="456.6" y1="364.1" x2="469.1" y2="371.4" stroke="#2f4a74" stroke-opacity="0.5" stroke-width="0.9"/>
<line x1="455.2" y1="367.5" x2="467.9" y2="374.8" stroke="#aebbca" stroke-width="1.3"/>
<circle cx="467.6" cy="374.8" r="0.7" fill="#c79a6a"/>
<line x1="453.9" y1="370.8" x2="466.7" y2="378.2" stroke="#2f4a74" stroke-opacity="0.5" stroke-width="0.9"/>
<line x1="452.6" y1="374.1" x2="465.5" y2="381.5" stroke="#aebbca" stroke-width="1.3"/>
<circle cx="465.2" cy="381.5" r="0.7" fill="#c79a6a"/>
<line x1="451.3" y1="377.5" x2="464.2" y2="384.9" stroke="#2f4a74" stroke-opacity="0.5" stroke-width="0.9"/>
<line x1="450.0" y1="380.8" x2="463.0" y2="388.3" stroke="#aebbca" stroke-width="1.3"/>
<circle cx="462.7" cy="388.3" r="0.7" fill="#c79a6a"/>
<line x1="448.7" y1="384.1" x2="461.8" y2="391.7" stroke="#2f4a74" stroke-opacity="0.5" stroke-width="0.9"/>
<line x1="447.4" y1="387.5" x2="460.6" y2="395.1" stroke="#aebbca" stroke-width="1.3"/>
<circle cx="460.3" cy="395.1" r="0.7" fill="#c79a6a"/>
<line x1="446.0" y1="390.8" x2="459.3" y2="398.5" stroke="#2f4a74" stroke-opacity="0.5" stroke-width="0.9"/>
<line x1="444.7" y1="394.1" x2="458.1" y2="401.8" stroke="#aebbca" stroke-width="1.3"/>
<circle cx="457.8" cy="401.8" r="0.7" fill="#c79a6a"/>
<line x1="443.4" y1="397.5" x2="456.9" y2="405.2" stroke="#2f4a74" stroke-opacity="0.5" stroke-width="0.9"/>
<line x1="442.1" y1="400.8" x2="455.7" y2="408.6" stroke="#aebbca" stroke-width="1.3"/>
<circle cx="455.4" cy="408.6" r="0.7" fill="#c79a6a"/>
<line x1="440.8" y1="404.1" x2="454.5" y2="412.0" stroke="#2f4a74" stroke-opacity="0.5" stroke-width="0.9"/>
<line x1="439.5" y1="407.5" x2="453.2" y2="415.4" stroke="#aebbca" stroke-width="1.3"/>
<circle cx="452.9" cy="415.4" r="0.7" fill="#c79a6a"/>
<line x1="438.2" y1="410.8" x2="452.0" y2="418.8" stroke="#2f4a74" stroke-opacity="0.5" stroke-width="0.9"/>
<line x1="436.8" y1="414.1" x2="450.8" y2="422.1" stroke="#aebbca" stroke-width="1.3"/>
<circle cx="450.5" cy="422.1" r="0.7" fill="#c79a6a"/>
<line x1="435.5" y1="417.5" x2="449.6" y2="425.5" stroke="#2f4a74" stroke-opacity="0.5" stroke-width="0.9"/>
<line x1="434.2" y1="420.8" x2="448.3" y2="428.9" stroke="#aebbca" stroke-width="1.3"/>
<circle cx="448.0" cy="428.9" r="0.7" fill="#c79a6a"/>
<line x1="432.9" y1="424.1" x2="447.1" y2="432.3" stroke="#2f4a74" stroke-opacity="0.5" stroke-width="0.9"/>
<line x1="431.6" y1="427.5" x2="445.9" y2="435.7" stroke="#aebbca" stroke-width="1.3"/>
<circle cx="445.6" cy="435.7" r="0.7" fill="#c79a6a"/>
<line x1="430.3" y1="430.8" x2="444.7" y2="439.1" stroke="#2f4a74" stroke-opacity="0.5" stroke-width="0.9"/>
<line x1="428.9" y1="434.1" x2="443.4" y2="442.4" stroke="#aebbca" stroke-width="1.3"/>
<circle cx="443.1" cy="442.4" r="0.7" fill="#c79a6a"/>
<line x1="427.6" y1="437.5" x2="442.2" y2="445.8" stroke="#2f4a74" stroke-opacity="0.5" stroke-width="0.9"/>
<line x1="426.3" y1="440.8" x2="441.0" y2="449.2" stroke="#aebbca" stroke-width="1.3"/>
<circle cx="440.7" cy="449.2" r="0.7" fill="#c79a6a"/>
<line x1="425.0" y1="444.1" x2="439.8" y2="452.6" stroke="#2f4a74" stroke-opacity="0.5" stroke-width="0.9"/>
<line x1="423.7" y1="447.5" x2="438.5" y2="456.0" stroke="#aebbca" stroke-width="1.3"/>
<circle cx="438.2" cy="456.0" r="0.7" fill="#c79a6a"/>
<line x1="422.4" y1="450.8" x2="437.3" y2="459.4" stroke="#2f4a74" stroke-opacity="0.5" stroke-width="0.9"/>
<line x1="421.1" y1="454.1" x2="436.1" y2="462.7" stroke="#aebbca" stroke-width="1.3"/>
<circle cx="435.8" cy="462.7" r="0.7" fill="#c79a6a"/>
<line x1="418.4" y1="460.8" x2="433.6" y2="469.5" stroke="#aebbca" stroke-width="1.3"/>
<circle cx="433.3" cy="469.5" r="0.7" fill="#c79a6a"/>
<line x1="457.9" y1="360.8" x2="418.4" y2="460.8" stroke="#c0ccda" stroke-width="1.0"/>
<line x1="470.4" y1="368.0" x2="433.6" y2="469.5" stroke="#9fb0c4" stroke-width="0.7"/>
<polygon points="449.0,469.4 458.0,472.4 458.0,475.4 449.0,472.9" fill="#3b3a3c"/>
<polygon points="450.5,469.2 454.5,470.4 454.5,472.0 450.5,470.8" fill="#7a6352" fill-opacity="0.85"/>
<polygon points="481.0,362.9 493.5,370.2 460.0,472.4 444.8,463.7" fill="url(#pan12)"/>
<line x1="484.1" y1="364.8" x2="448.6" y2="465.8" stroke="#2c4a78" stroke-opacity="0.35" stroke-width="0.8"/>
<line x1="487.3" y1="366.6" x2="452.4" y2="468.0" stroke="#2c4a78" stroke-opacity="0.40" stroke-width="0.8"/>
<line x1="490.4" y1="368.4" x2="456.2" y2="470.2" stroke="#2c4a78" stroke-opacity="0.35" stroke-width="0.8"/>
<line x1="481.0" y1="362.9" x2="493.5" y2="370.2" stroke="#aebbca" stroke-width="1.3"/>
<circle cx="493.2" cy="370.2" r="0.7" fill="#c79a6a"/>
<line x1="479.8" y1="366.3" x2="492.4" y2="373.6" stroke="#2f4a74" stroke-opacity="0.5" stroke-width="0.9"/>
<line x1="478.6" y1="369.6" x2="491.3" y2="377.0" stroke="#aebbca" stroke-width="1.3"/>
<circle cx="491.0" cy="377.0" r="0.7" fill="#c79a6a"/>
<line x1="477.4" y1="373.0" x2="490.2" y2="380.4" stroke="#2f4a74" stroke-opacity="0.5" stroke-width="0.9"/>
<line x1="476.2" y1="376.4" x2="489.0" y2="383.8" stroke="#aebbca" stroke-width="1.3"/>
<circle cx="488.7" cy="383.8" r="0.7" fill="#c79a6a"/>
<line x1="475.0" y1="379.7" x2="487.9" y2="387.2" stroke="#2f4a74" stroke-opacity="0.5" stroke-width="0.9"/>
<line x1="473.8" y1="383.1" x2="486.8" y2="390.6" stroke="#aebbca" stroke-width="1.3"/>
<circle cx="486.5" cy="390.6" r="0.7" fill="#c79a6a"/>
<line x1="472.5" y1="386.4" x2="485.7" y2="394.1" stroke="#2f4a74" stroke-opacity="0.5" stroke-width="0.9"/>
<line x1="471.3" y1="389.8" x2="484.6" y2="397.5" stroke="#aebbca" stroke-width="1.3"/>
<circle cx="484.3" cy="397.5" r="0.7" fill="#c79a6a"/>
<line x1="470.1" y1="393.2" x2="483.4" y2="400.9" stroke="#2f4a74" stroke-opacity="0.5" stroke-width="0.9"/>
<line x1="468.9" y1="396.5" x2="482.3" y2="404.3" stroke="#aebbca" stroke-width="1.3"/>
<circle cx="482.0" cy="404.3" r="0.7" fill="#c79a6a"/>
<line x1="467.7" y1="399.9" x2="481.2" y2="407.7" stroke="#2f4a74" stroke-opacity="0.5" stroke-width="0.9"/>
<line x1="466.5" y1="403.2" x2="480.1" y2="411.1" stroke="#aebbca" stroke-width="1.3"/>
<circle cx="479.8" cy="411.1" r="0.7" fill="#c79a6a"/>
<line x1="465.3" y1="406.6" x2="479.0" y2="414.5" stroke="#2f4a74" stroke-opacity="0.5" stroke-width="0.9"/>
<line x1="464.1" y1="409.9" x2="477.9" y2="417.9" stroke="#aebbca" stroke-width="1.3"/>
<circle cx="477.6" cy="417.9" r="0.7" fill="#c79a6a"/>
<line x1="462.9" y1="413.3" x2="476.7" y2="421.3" stroke="#2f4a74" stroke-opacity="0.5" stroke-width="0.9"/>
<line x1="461.7" y1="416.7" x2="475.6" y2="424.7" stroke="#aebbca" stroke-width="1.3"/>
<circle cx="475.3" cy="424.7" r="0.7" fill="#c79a6a"/>
<line x1="460.5" y1="420.0" x2="474.5" y2="428.1" stroke="#2f4a74" stroke-opacity="0.5" stroke-width="0.9"/>
<line x1="459.3" y1="423.4" x2="473.4" y2="431.5" stroke="#aebbca" stroke-width="1.3"/>
<circle cx="473.1" cy="431.5" r="0.7" fill="#c79a6a"/>
<line x1="458.1" y1="426.7" x2="472.3" y2="434.9" stroke="#2f4a74" stroke-opacity="0.5" stroke-width="0.9"/>
<line x1="456.8" y1="430.1" x2="471.1" y2="438.3" stroke="#aebbca" stroke-width="1.3"/>
<circle cx="470.8" cy="438.3" r="0.7" fill="#c79a6a"/>
<line x1="455.6" y1="433.4" x2="470.0" y2="441.7" stroke="#2f4a74" stroke-opacity="0.5" stroke-width="0.9"/>
<line x1="454.4" y1="436.8" x2="468.9" y2="445.1" stroke="#aebbca" stroke-width="1.3"/>
<circle cx="468.6" cy="445.1" r="0.7" fill="#c79a6a"/>
<line x1="453.2" y1="440.2" x2="467.8" y2="448.5" stroke="#2f4a74" stroke-opacity="0.5" stroke-width="0.9"/>
<line x1="452.0" y1="443.5" x2="466.7" y2="451.9" stroke="#aebbca" stroke-width="1.3"/>
<circle cx="466.4" cy="451.9" r="0.7" fill="#c79a6a"/>
<line x1="450.8" y1="446.9" x2="465.6" y2="455.3" stroke="#2f4a74" stroke-opacity="0.5" stroke-width="0.9"/>
<line x1="449.6" y1="450.2" x2="464.4" y2="458.7" stroke="#aebbca" stroke-width="1.3"/>
<circle cx="464.1" cy="458.7" r="0.7" fill="#c79a6a"/>
<line x1="448.4" y1="453.6" x2="463.3" y2="462.1" stroke="#2f4a74" stroke-opacity="0.5" stroke-width="0.9"/>
<line x1="447.2" y1="456.9" x2="462.2" y2="465.6" stroke="#aebbca" stroke-width="1.3"/>
<circle cx="461.9" cy="465.6" r="0.7" fill="#c79a6a"/>
<line x1="444.8" y1="463.7" x2="460.0" y2="472.4" stroke="#aebbca" stroke-width="1.3"/>
<circle cx="459.7" cy="472.4" r="0.7" fill="#c79a6a"/>
<line x1="481.0" y1="362.9" x2="444.8" y2="463.7" stroke="#c0ccda" stroke-width="1.1"/>
<line x1="493.5" y1="370.2" x2="460.0" y2="472.4" stroke="#9fb0c4" stroke-width="0.7"/>
<polygon points="475.5,472.2 484.5,475.2 484.5,478.2 475.5,475.7" fill="#3b3a3c"/>
<polygon points="477.0,472.0 481.0,473.2 481.0,474.8 477.0,473.6" fill="#7a6352" fill-opacity="0.85"/>
<polygon points="504.3,365.1 516.8,372.4 486.5,475.2 471.3,466.5" fill="url(#pan13)"/>
<line x1="507.4" y1="366.9" x2="475.1" y2="468.7" stroke="#2c4a78" stroke-opacity="0.35" stroke-width="0.8"/>
<line x1="510.6" y1="368.8" x2="478.9" y2="470.9" stroke="#2c4a78" stroke-opacity="0.40" stroke-width="0.8"/>
<line x1="513.7" y1="370.6" x2="482.7" y2="473.1" stroke="#2c4a78" stroke-opacity="0.35" stroke-width="0.8"/>
<line x1="504.3" y1="365.1" x2="516.8" y2="372.4" stroke="#aebbca" stroke-width="1.3"/>
<circle cx="516.5" cy="372.4" r="0.7" fill="#c79a6a"/>
<line x1="503.2" y1="368.5" x2="515.8" y2="375.9" stroke="#2f4a74" stroke-opacity="0.5" stroke-width="0.9"/>
<line x1="502.1" y1="371.8" x2="514.8" y2="379.3" stroke="#aebbca" stroke-width="1.3"/>
<circle cx="514.5" cy="379.3" r="0.7" fill="#c79a6a"/>
<line x1="501.0" y1="375.2" x2="513.8" y2="382.7" stroke="#2f4a74" stroke-opacity="0.5" stroke-width="0.9"/>
<line x1="499.9" y1="378.6" x2="512.8" y2="386.1" stroke="#aebbca" stroke-width="1.3"/>
<circle cx="512.5" cy="386.1" r="0.7" fill="#c79a6a"/>
<line x1="498.8" y1="382.0" x2="511.8" y2="389.6" stroke="#2f4a74" stroke-opacity="0.5" stroke-width="0.9"/>
<line x1="497.7" y1="385.4" x2="510.8" y2="393.0" stroke="#aebbca" stroke-width="1.3"/>
<circle cx="510.5" cy="393.0" r="0.7" fill="#c79a6a"/>
<line x1="496.6" y1="388.7" x2="509.7" y2="396.4" stroke="#2f4a74" stroke-opacity="0.5" stroke-width="0.9"/>
<line x1="495.5" y1="392.1" x2="508.7" y2="399.8" stroke="#aebbca" stroke-width="1.3"/>
<circle cx="508.4" cy="399.8" r="0.7" fill="#c79a6a"/>
<line x1="494.4" y1="395.5" x2="507.7" y2="403.3" stroke="#2f4a74" stroke-opacity="0.5" stroke-width="0.9"/>
<line x1="493.3" y1="398.9" x2="506.7" y2="406.7" stroke="#aebbca" stroke-width="1.3"/>
<circle cx="506.4" cy="406.7" r="0.7" fill="#c79a6a"/>
<line x1="492.2" y1="402.3" x2="505.7" y2="410.1" stroke="#2f4a74" stroke-opacity="0.5" stroke-width="0.9"/>
<line x1="491.1" y1="405.7" x2="504.7" y2="413.6" stroke="#aebbca" stroke-width="1.3"/>
<circle cx="504.4" cy="413.6" r="0.7" fill="#c79a6a"/>
<line x1="490.0" y1="409.0" x2="503.7" y2="417.0" stroke="#2f4a74" stroke-opacity="0.5" stroke-width="0.9"/>
<line x1="488.9" y1="412.4" x2="502.7" y2="420.4" stroke="#aebbca" stroke-width="1.3"/>
<circle cx="502.4" cy="420.4" r="0.7" fill="#c79a6a"/>
<line x1="487.8" y1="415.8" x2="501.7" y2="423.8" stroke="#2f4a74" stroke-opacity="0.5" stroke-width="0.9"/>
<line x1="486.7" y1="419.2" x2="500.7" y2="427.3" stroke="#aebbca" stroke-width="1.3"/>
<circle cx="500.4" cy="427.3" r="0.7" fill="#c79a6a"/>
<line x1="485.6" y1="422.6" x2="499.7" y2="430.7" stroke="#2f4a74" stroke-opacity="0.5" stroke-width="0.9"/>
<line x1="484.5" y1="425.9" x2="498.6" y2="434.1" stroke="#aebbca" stroke-width="1.3"/>
<circle cx="498.3" cy="434.1" r="0.7" fill="#c79a6a"/>
<line x1="483.4" y1="429.3" x2="497.6" y2="437.5" stroke="#2f4a74" stroke-opacity="0.5" stroke-width="0.9"/>
<line x1="482.3" y1="432.7" x2="496.6" y2="441.0" stroke="#aebbca" stroke-width="1.3"/>
<circle cx="496.3" cy="441.0" r="0.7" fill="#c79a6a"/>
<line x1="481.2" y1="436.1" x2="495.6" y2="444.4" stroke="#2f4a74" stroke-opacity="0.5" stroke-width="0.9"/>
<line x1="480.1" y1="439.5" x2="494.6" y2="447.8" stroke="#aebbca" stroke-width="1.3"/>
<circle cx="494.3" cy="447.8" r="0.7" fill="#c79a6a"/>
<line x1="479.0" y1="442.9" x2="493.6" y2="451.2" stroke="#2f4a74" stroke-opacity="0.5" stroke-width="0.9"/>
<line x1="477.9" y1="446.2" x2="492.6" y2="454.7" stroke="#aebbca" stroke-width="1.3"/>
<circle cx="492.3" cy="454.7" r="0.7" fill="#c79a6a"/>
<line x1="476.8" y1="449.6" x2="491.6" y2="458.1" stroke="#2f4a74" stroke-opacity="0.5" stroke-width="0.9"/>
<line x1="475.7" y1="453.0" x2="490.6" y2="461.5" stroke="#aebbca" stroke-width="1.3"/>
<circle cx="490.3" cy="461.5" r="0.7" fill="#c79a6a"/>
<line x1="474.6" y1="456.4" x2="489.6" y2="464.9" stroke="#2f4a74" stroke-opacity="0.5" stroke-width="0.9"/>
<line x1="473.5" y1="459.8" x2="488.5" y2="468.4" stroke="#aebbca" stroke-width="1.3"/>
<circle cx="488.2" cy="468.4" r="0.7" fill="#c79a6a"/>
<line x1="471.3" y1="466.5" x2="486.5" y2="475.2" stroke="#aebbca" stroke-width="1.3"/>
<circle cx="486.2" cy="475.2" r="0.7" fill="#c79a6a"/>
<line x1="504.3" y1="365.1" x2="471.3" y2="466.5" stroke="#c0ccda" stroke-width="1.1"/>
<line x1="516.8" y1="372.4" x2="486.5" y2="475.2" stroke="#9fb0c4" stroke-width="0.7"/>
<polygon points="502.3,475.1 511.3,478.1 511.3,481.1 502.3,478.6" fill="#3b3a3c"/>
<polygon points="503.8,474.9 507.8,476.1 507.8,477.7 503.8,476.5" fill="#7a6352" fill-opacity="0.85"/>
<polygon points="527.8,367.2 540.3,374.7 513.3,478.1 498.1,469.4" fill="url(#pan14)"/>
<line x1="530.9" y1="369.1" x2="501.9" y2="471.6" stroke="#2c4a78" stroke-opacity="0.35" stroke-width="0.8"/>
<line x1="534.1" y1="370.9" x2="505.7" y2="473.8" stroke="#2c4a78" stroke-opacity="0.40" stroke-width="0.8"/>
<line x1="537.2" y1="372.8" x2="509.5" y2="475.9" stroke="#2c4a78" stroke-opacity="0.35" stroke-width="0.8"/>
<line x1="527.8" y1="367.2" x2="540.3" y2="374.7" stroke="#aebbca" stroke-width="1.3"/>
<circle cx="540.0" cy="374.7" r="0.7" fill="#c79a6a"/>
<line x1="526.8" y1="370.6" x2="539.4" y2="378.1" stroke="#2f4a74" stroke-opacity="0.5" stroke-width="0.9"/>
<line x1="525.8" y1="374.0" x2="538.5" y2="381.6" stroke="#aebbca" stroke-width="1.3"/>
<circle cx="538.2" cy="381.6" r="0.7" fill="#c79a6a"/>
<line x1="524.8" y1="377.4" x2="537.6" y2="385.0" stroke="#2f4a74" stroke-opacity="0.5" stroke-width="0.9"/>
<line x1="523.8" y1="380.8" x2="536.7" y2="388.4" stroke="#aebbca" stroke-width="1.3"/>
<circle cx="536.4" cy="388.4" r="0.7" fill="#c79a6a"/>
<line x1="522.9" y1="384.3" x2="535.8" y2="391.9" stroke="#2f4a74" stroke-opacity="0.5" stroke-width="0.9"/>
<line x1="521.9" y1="387.7" x2="534.9" y2="395.3" stroke="#aebbca" stroke-width="1.3"/>
<circle cx="534.6" cy="395.3" r="0.7" fill="#c79a6a"/>
<line x1="520.9" y1="391.1" x2="534.0" y2="398.8" stroke="#2f4a74" stroke-opacity="0.5" stroke-width="0.9"/>
<line x1="519.9" y1="394.5" x2="533.1" y2="402.2" stroke="#aebbca" stroke-width="1.3"/>
<circle cx="532.8" cy="402.2" r="0.7" fill="#c79a6a"/>
<line x1="518.9" y1="397.9" x2="532.2" y2="405.7" stroke="#2f4a74" stroke-opacity="0.5" stroke-width="0.9"/>
<line x1="517.9" y1="401.3" x2="531.3" y2="409.1" stroke="#aebbca" stroke-width="1.3"/>
<circle cx="531.0" cy="409.1" r="0.7" fill="#c79a6a"/>
<line x1="516.9" y1="404.7" x2="530.4" y2="412.6" stroke="#2f4a74" stroke-opacity="0.5" stroke-width="0.9"/>
<line x1="515.9" y1="408.1" x2="529.5" y2="416.0" stroke="#aebbca" stroke-width="1.3"/>
<circle cx="529.2" cy="416.0" r="0.7" fill="#c79a6a"/>
<line x1="514.9" y1="411.5" x2="528.6" y2="419.5" stroke="#2f4a74" stroke-opacity="0.5" stroke-width="0.9"/>
<line x1="514.0" y1="414.9" x2="527.7" y2="422.9" stroke="#aebbca" stroke-width="1.3"/>
<circle cx="527.4" cy="422.9" r="0.7" fill="#c79a6a"/>
<line x1="513.0" y1="418.3" x2="526.8" y2="426.4" stroke="#2f4a74" stroke-opacity="0.5" stroke-width="0.9"/>
<line x1="512.0" y1="421.7" x2="525.9" y2="429.8" stroke="#aebbca" stroke-width="1.3"/>
<circle cx="525.6" cy="429.8" r="0.7" fill="#c79a6a"/>
<line x1="511.0" y1="425.1" x2="525.0" y2="433.3" stroke="#2f4a74" stroke-opacity="0.5" stroke-width="0.9"/>
<line x1="510.0" y1="428.5" x2="524.1" y2="436.7" stroke="#aebbca" stroke-width="1.3"/>
<circle cx="523.8" cy="436.7" r="0.7" fill="#c79a6a"/>
<line x1="509.0" y1="431.9" x2="523.2" y2="440.2" stroke="#2f4a74" stroke-opacity="0.5" stroke-width="0.9"/>
<line x1="508.0" y1="435.3" x2="522.3" y2="443.6" stroke="#aebbca" stroke-width="1.3"/>
<circle cx="522.0" cy="443.6" r="0.7" fill="#c79a6a"/>
<line x1="507.0" y1="438.8" x2="521.4" y2="447.1" stroke="#2f4a74" stroke-opacity="0.5" stroke-width="0.9"/>
<line x1="506.0" y1="442.2" x2="520.5" y2="450.5" stroke="#aebbca" stroke-width="1.3"/>
<circle cx="520.2" cy="450.5" r="0.7" fill="#c79a6a"/>
<line x1="505.0" y1="445.6" x2="519.6" y2="454.0" stroke="#2f4a74" stroke-opacity="0.5" stroke-width="0.9"/>
<line x1="504.1" y1="449.0" x2="518.7" y2="457.4" stroke="#aebbca" stroke-width="1.3"/>
<circle cx="518.4" cy="457.4" r="0.7" fill="#c79a6a"/>
<line x1="503.1" y1="452.4" x2="517.8" y2="460.9" stroke="#2f4a74" stroke-opacity="0.5" stroke-width="0.9"/>
<line x1="502.1" y1="455.8" x2="516.9" y2="464.3" stroke="#aebbca" stroke-width="1.3"/>
<circle cx="516.6" cy="464.3" r="0.7" fill="#c79a6a"/>
<line x1="501.1" y1="459.2" x2="516.0" y2="467.8" stroke="#2f4a74" stroke-opacity="0.5" stroke-width="0.9"/>
<line x1="500.1" y1="462.6" x2="515.1" y2="471.2" stroke="#aebbca" stroke-width="1.3"/>
<circle cx="514.8" cy="471.2" r="0.7" fill="#c79a6a"/>
<line x1="498.1" y1="469.4" x2="513.3" y2="478.1" stroke="#aebbca" stroke-width="1.3"/>
<circle cx="513.0" cy="478.1" r="0.7" fill="#c79a6a"/>
<line x1="527.8" y1="367.2" x2="498.1" y2="469.4" stroke="#c0ccda" stroke-width="1.1"/>
<line x1="540.3" y1="374.7" x2="513.3" y2="478.1" stroke="#9fb0c4" stroke-width="0.7"/>
<polygon points="529.3,478.0 538.3,481.0 538.3,484.0 529.3,481.5" fill="#3b3a3c"/>
<polygon points="530.8,477.8 534.8,479.0 534.8,480.6 530.8,479.4" fill="#7a6352" fill-opacity="0.85"/>
<polygon points="551.5,369.4 564.0,376.9 540.3,481.0 525.1,472.3" fill="url(#pan15)"/>
<line x1="554.6" y1="371.2" x2="528.9" y2="474.5" stroke="#2c4a78" stroke-opacity="0.35" stroke-width="0.8"/>
<line x1="557.7" y1="373.1" x2="532.7" y2="476.6" stroke="#2c4a78" stroke-opacity="0.40" stroke-width="0.8"/>
<line x1="560.8" y1="375.0" x2="536.5" y2="478.8" stroke="#2c4a78" stroke-opacity="0.35" stroke-width="0.8"/>
<line x1="551.5" y1="369.4" x2="564.0" y2="376.9" stroke="#aebbca" stroke-width="1.3"/>
<circle cx="563.7" cy="376.9" r="0.7" fill="#c79a6a"/>
<line x1="550.6" y1="372.8" x2="563.2" y2="380.4" stroke="#2f4a74" stroke-opacity="0.5" stroke-width="0.9"/>
<line x1="549.7" y1="376.2" x2="562.4" y2="383.8" stroke="#aebbca" stroke-width="1.3"/>
<circle cx="562.1" cy="383.8" r="0.7" fill="#c79a6a"/>
<line x1="548.8" y1="379.7" x2="561.6" y2="387.3" stroke="#2f4a74" stroke-opacity="0.5" stroke-width="0.9"/>
<line x1="548.0" y1="383.1" x2="560.8" y2="390.8" stroke="#aebbca" stroke-width="1.3"/>
<circle cx="560.5" cy="390.8" r="0.7" fill="#c79a6a"/>
<line x1="547.1" y1="386.5" x2="560.0" y2="394.2" stroke="#2f4a74" stroke-opacity="0.5" stroke-width="0.9"/>
<line x1="546.2" y1="390.0" x2="559.2" y2="397.7" stroke="#aebbca" stroke-width="1.3"/>
<circle cx="558.9" cy="397.7" r="0.7" fill="#c79a6a"/>
<line x1="545.3" y1="393.4" x2="558.5" y2="401.2" stroke="#2f4a74" stroke-opacity="0.5" stroke-width="0.9"/>
<line x1="544.5" y1="396.8" x2="557.7" y2="404.6" stroke="#aebbca" stroke-width="1.3"/>
<circle cx="557.4" cy="404.6" r="0.7" fill="#c79a6a"/>
<line x1="543.6" y1="400.2" x2="556.9" y2="408.1" stroke="#2f4a74" stroke-opacity="0.5" stroke-width="0.9"/>
<line x1="542.7" y1="403.7" x2="556.1" y2="411.6" stroke="#aebbca" stroke-width="1.3"/>
<circle cx="555.8" cy="411.6" r="0.7" fill="#c79a6a"/>
<line x1="541.8" y1="407.1" x2="555.3" y2="415.1" stroke="#2f4a74" stroke-opacity="0.5" stroke-width="0.9"/>
<line x1="540.9" y1="410.5" x2="554.5" y2="418.5" stroke="#aebbca" stroke-width="1.3"/>
<circle cx="554.2" cy="418.5" r="0.7" fill="#c79a6a"/>
<line x1="540.1" y1="414.0" x2="553.7" y2="422.0" stroke="#2f4a74" stroke-opacity="0.5" stroke-width="0.9"/>
<line x1="539.2" y1="417.4" x2="552.9" y2="425.5" stroke="#aebbca" stroke-width="1.3"/>
<circle cx="552.6" cy="425.5" r="0.7" fill="#c79a6a"/>
<line x1="538.3" y1="420.8" x2="552.2" y2="428.9" stroke="#2f4a74" stroke-opacity="0.5" stroke-width="0.9"/>
<line x1="537.4" y1="424.3" x2="551.4" y2="432.4" stroke="#aebbca" stroke-width="1.3"/>
<circle cx="551.1" cy="432.4" r="0.7" fill="#c79a6a"/>
<line x1="536.6" y1="427.7" x2="550.6" y2="435.9" stroke="#2f4a74" stroke-opacity="0.5" stroke-width="0.9"/>
<line x1="535.7" y1="431.1" x2="549.8" y2="439.3" stroke="#aebbca" stroke-width="1.3"/>
<circle cx="549.5" cy="439.3" r="0.7" fill="#c79a6a"/>
<line x1="534.8" y1="434.6" x2="549.0" y2="442.8" stroke="#2f4a74" stroke-opacity="0.5" stroke-width="0.9"/>
<line x1="533.9" y1="438.0" x2="548.2" y2="446.3" stroke="#aebbca" stroke-width="1.3"/>
<circle cx="547.9" cy="446.3" r="0.7" fill="#c79a6a"/>
<line x1="533.0" y1="441.4" x2="547.4" y2="449.8" stroke="#2f4a74" stroke-opacity="0.5" stroke-width="0.9"/>
<line x1="532.2" y1="444.8" x2="546.6" y2="453.2" stroke="#aebbca" stroke-width="1.3"/>
<circle cx="546.3" cy="453.2" r="0.7" fill="#c79a6a"/>
<line x1="531.3" y1="448.3" x2="545.9" y2="456.7" stroke="#2f4a74" stroke-opacity="0.5" stroke-width="0.9"/>
<line x1="530.4" y1="451.7" x2="545.1" y2="460.2" stroke="#aebbca" stroke-width="1.3"/>
<circle cx="544.8" cy="460.2" r="0.7" fill="#c79a6a"/>
<line x1="529.5" y1="455.1" x2="544.3" y2="463.6" stroke="#2f4a74" stroke-opacity="0.5" stroke-width="0.9"/>
<line x1="528.7" y1="458.6" x2="543.5" y2="467.1" stroke="#aebbca" stroke-width="1.3"/>
<circle cx="543.2" cy="467.1" r="0.7" fill="#c79a6a"/>
<line x1="527.8" y1="462.0" x2="542.7" y2="470.6" stroke="#2f4a74" stroke-opacity="0.5" stroke-width="0.9"/>
<line x1="526.9" y1="465.4" x2="541.9" y2="474.1" stroke="#aebbca" stroke-width="1.3"/>
<circle cx="541.6" cy="474.1" r="0.7" fill="#c79a6a"/>
<line x1="525.1" y1="472.3" x2="540.3" y2="481.0" stroke="#aebbca" stroke-width="1.3"/>
<circle cx="540.0" cy="481.0" r="0.7" fill="#c79a6a"/>
<line x1="551.5" y1="369.4" x2="525.1" y2="472.3" stroke="#c0ccda" stroke-width="1.1"/>
<line x1="564.0" y1="376.9" x2="540.3" y2="481.0" stroke="#9fb0c4" stroke-width="0.7"/>
<polygon points="556.6,480.9 565.6,483.9 565.6,486.9 556.6,484.4" fill="#3b3a3c"/>
<polygon points="558.1,480.7 562.1,481.9 562.1,483.5 558.1,482.3" fill="#7a6352" fill-opacity="0.85"/>
<polygon points="575.3,371.5 587.8,379.1 567.6,483.9 552.4,475.2" fill="url(#pan16)"/>
<line x1="578.4" y1="373.4" x2="556.2" y2="477.4" stroke="#2c4a78" stroke-opacity="0.35" stroke-width="0.8"/>
<line x1="581.6" y1="375.3" x2="560.0" y2="479.5" stroke="#2c4a78" stroke-opacity="0.40" stroke-width="0.8"/>
<line x1="584.7" y1="377.2" x2="563.8" y2="481.7" stroke="#2c4a78" stroke-opacity="0.35" stroke-width="0.8"/>
<line x1="575.3" y1="371.5" x2="587.8" y2="379.1" stroke="#aebbca" stroke-width="1.3"/>
<circle cx="587.5" cy="379.1" r="0.7" fill="#c79a6a"/>
<line x1="574.6" y1="375.0" x2="587.1" y2="382.6" stroke="#2f4a74" stroke-opacity="0.5" stroke-width="0.9"/>
<line x1="573.8" y1="378.4" x2="586.5" y2="386.1" stroke="#aebbca" stroke-width="1.3"/>
<circle cx="586.2" cy="386.1" r="0.7" fill="#c79a6a"/>
<line x1="573.0" y1="381.9" x2="585.8" y2="389.6" stroke="#2f4a74" stroke-opacity="0.5" stroke-width="0.9"/>
<line x1="572.3" y1="385.4" x2="585.1" y2="393.1" stroke="#aebbca" stroke-width="1.3"/>
<circle cx="584.8" cy="393.1" r="0.7" fill="#c79a6a"/>
<line x1="571.5" y1="388.8" x2="584.4" y2="396.6" stroke="#2f4a74" stroke-opacity="0.5" stroke-width="0.9"/>
<line x1="570.7" y1="392.3" x2="583.8" y2="400.1" stroke="#aebbca" stroke-width="1.3"/>
<circle cx="583.5" cy="400.1" r="0.7" fill="#c79a6a"/>
<line x1="570.0" y1="395.7" x2="583.1" y2="403.6" stroke="#2f4a74" stroke-opacity="0.5" stroke-width="0.9"/>
<line x1="569.2" y1="399.2" x2="582.4" y2="407.1" stroke="#aebbca" stroke-width="1.3"/>
<circle cx="582.1" cy="407.1" r="0.7" fill="#c79a6a"/>
<line x1="568.4" y1="402.6" x2="581.7" y2="410.5" stroke="#2f4a74" stroke-opacity="0.5" stroke-width="0.9"/>
<line x1="567.7" y1="406.1" x2="581.1" y2="414.0" stroke="#aebbca" stroke-width="1.3"/>
<circle cx="580.8" cy="414.0" r="0.7" fill="#c79a6a"/>
<line x1="566.9" y1="409.5" x2="580.4" y2="417.5" stroke="#2f4a74" stroke-opacity="0.5" stroke-width="0.9"/>
<line x1="566.1" y1="413.0" x2="579.7" y2="421.0" stroke="#aebbca" stroke-width="1.3"/>
<circle cx="579.4" cy="421.0" r="0.7" fill="#c79a6a"/>
<line x1="565.4" y1="416.5" x2="579.1" y2="424.5" stroke="#2f4a74" stroke-opacity="0.5" stroke-width="0.9"/>
<line x1="564.6" y1="419.9" x2="578.4" y2="428.0" stroke="#aebbca" stroke-width="1.3"/>
<circle cx="578.1" cy="428.0" r="0.7" fill="#c79a6a"/>
<line x1="563.9" y1="423.4" x2="577.7" y2="431.5" stroke="#2f4a74" stroke-opacity="0.5" stroke-width="0.9"/>
<line x1="563.1" y1="426.8" x2="577.0" y2="435.0" stroke="#aebbca" stroke-width="1.3"/>
<circle cx="576.7" cy="435.0" r="0.7" fill="#c79a6a"/>
<line x1="562.3" y1="430.3" x2="576.4" y2="438.5" stroke="#2f4a74" stroke-opacity="0.5" stroke-width="0.9"/>
<line x1="561.6" y1="433.7" x2="575.7" y2="442.0" stroke="#aebbca" stroke-width="1.3"/>
<circle cx="575.4" cy="442.0" r="0.7" fill="#c79a6a"/>
<line x1="560.8" y1="437.2" x2="575.0" y2="445.5" stroke="#2f4a74" stroke-opacity="0.5" stroke-width="0.9"/>
<line x1="560.0" y1="440.6" x2="574.3" y2="449.0" stroke="#aebbca" stroke-width="1.3"/>
<circle cx="574.0" cy="449.0" r="0.7" fill="#c79a6a"/>
<line x1="559.3" y1="444.1" x2="573.7" y2="452.5" stroke="#2f4a74" stroke-opacity="0.5" stroke-width="0.9"/>
<line x1="558.5" y1="447.6" x2="573.0" y2="456.0" stroke="#aebbca" stroke-width="1.3"/>
<circle cx="572.7" cy="456.0" r="0.7" fill="#c79a6a"/>
<line x1="557.7" y1="451.0" x2="572.3" y2="459.4" stroke="#2f4a74" stroke-opacity="0.5" stroke-width="0.9"/>
<line x1="557.0" y1="454.5" x2="571.6" y2="462.9" stroke="#aebbca" stroke-width="1.3"/>
<circle cx="571.3" cy="462.9" r="0.7" fill="#c79a6a"/>
<line x1="556.2" y1="457.9" x2="571.0" y2="466.4" stroke="#2f4a74" stroke-opacity="0.5" stroke-width="0.9"/>
<line x1="555.5" y1="461.4" x2="570.3" y2="469.9" stroke="#aebbca" stroke-width="1.3"/>
<circle cx="570.0" cy="469.9" r="0.7" fill="#c79a6a"/>
<line x1="554.7" y1="464.8" x2="569.6" y2="473.4" stroke="#2f4a74" stroke-opacity="0.5" stroke-width="0.9"/>
<line x1="553.9" y1="468.3" x2="568.9" y2="476.9" stroke="#aebbca" stroke-width="1.3"/>
<circle cx="568.6" cy="476.9" r="0.7" fill="#c79a6a"/>
<line x1="552.4" y1="475.2" x2="567.6" y2="483.9" stroke="#aebbca" stroke-width="1.3"/>
<circle cx="567.3" cy="483.9" r="0.7" fill="#c79a6a"/>
<line x1="575.3" y1="371.5" x2="552.4" y2="475.2" stroke="#c0ccda" stroke-width="1.1"/>
<line x1="587.8" y1="379.1" x2="567.6" y2="483.9" stroke="#9fb0c4" stroke-width="0.7"/>
<polygon points="584.1,483.8 593.1,486.8 593.1,489.8 584.1,487.3" fill="#3b3a3c"/>
<polygon points="585.6,483.6 589.6,484.8 589.6,486.4 585.6,485.2" fill="#7a6352" fill-opacity="0.85"/>
<polygon points="599.3,373.7 611.8,381.4 595.1,486.8 579.9,478.1" fill="url(#pan17)"/>
<line x1="602.5" y1="375.6" x2="583.7" y2="480.3" stroke="#2c4a78" stroke-opacity="0.35" stroke-width="0.8"/>
<line x1="605.6" y1="377.5" x2="587.5" y2="482.5" stroke="#2c4a78" stroke-opacity="0.40" stroke-width="0.8"/>
<line x1="608.7" y1="379.4" x2="591.3" y2="484.6" stroke="#2c4a78" stroke-opacity="0.35" stroke-width="0.8"/>
<line x1="599.3" y1="373.7" x2="611.8" y2="381.4" stroke="#aebbca" stroke-width="1.3"/>
<circle cx="611.5" cy="381.4" r="0.7" fill="#c79a6a"/>
<line x1="598.7" y1="377.2" x2="611.3" y2="384.9" stroke="#2f4a74" stroke-opacity="0.5" stroke-width="0.9"/>
<line x1="598.0" y1="380.7" x2="610.7" y2="388.4" stroke="#aebbca" stroke-width="1.3"/>
<circle cx="610.4" cy="388.4" r="0.7" fill="#c79a6a"/>
<line x1="597.4" y1="384.1" x2="610.2" y2="391.9" stroke="#2f4a74" stroke-opacity="0.5" stroke-width="0.9"/>
<line x1="596.7" y1="387.6" x2="609.6" y2="395.4" stroke="#aebbca" stroke-width="1.3"/>
<circle cx="609.3" cy="395.4" r="0.7" fill="#c79a6a"/>
<line x1="596.1" y1="391.1" x2="609.0" y2="398.9" stroke="#2f4a74" stroke-opacity="0.5" stroke-width="0.9"/>
<line x1="595.4" y1="394.6" x2="608.5" y2="402.4" stroke="#aebbca" stroke-width="1.3"/>
<circle cx="608.2" cy="402.4" r="0.7" fill="#c79a6a"/>
<line x1="594.8" y1="398.1" x2="607.9" y2="406.0" stroke="#2f4a74" stroke-opacity="0.5" stroke-width="0.9"/>
<line x1="594.1" y1="401.5" x2="607.4" y2="409.5" stroke="#aebbca" stroke-width="1.3"/>
<circle cx="607.1" cy="409.5" r="0.7" fill="#c79a6a"/>
<line x1="593.5" y1="405.0" x2="606.8" y2="413.0" stroke="#2f4a74" stroke-opacity="0.5" stroke-width="0.9"/>
<line x1="592.9" y1="408.5" x2="606.3" y2="416.5" stroke="#aebbca" stroke-width="1.3"/>
<circle cx="606.0" cy="416.5" r="0.7" fill="#c79a6a"/>
<line x1="592.2" y1="412.0" x2="605.7" y2="420.0" stroke="#2f4a74" stroke-opacity="0.5" stroke-width="0.9"/>
<line x1="591.6" y1="415.5" x2="605.1" y2="423.5" stroke="#aebbca" stroke-width="1.3"/>
<circle cx="604.8" cy="423.5" r="0.7" fill="#c79a6a"/>
<line x1="590.9" y1="418.9" x2="604.6" y2="427.0" stroke="#2f4a74" stroke-opacity="0.5" stroke-width="0.9"/>
<line x1="590.3" y1="422.4" x2="604.0" y2="430.6" stroke="#aebbca" stroke-width="1.3"/>
<circle cx="603.7" cy="430.6" r="0.7" fill="#c79a6a"/>
<line x1="589.6" y1="425.9" x2="603.5" y2="434.1" stroke="#2f4a74" stroke-opacity="0.5" stroke-width="0.9"/>
<line x1="589.0" y1="429.4" x2="602.9" y2="437.6" stroke="#aebbca" stroke-width="1.3"/>
<circle cx="602.6" cy="437.6" r="0.7" fill="#c79a6a"/>
<line x1="588.3" y1="432.9" x2="602.3" y2="441.1" stroke="#2f4a74" stroke-opacity="0.5" stroke-width="0.9"/>
<line x1="587.7" y1="436.3" x2="601.8" y2="444.6" stroke="#aebbca" stroke-width="1.3"/>
<circle cx="601.5" cy="444.6" r="0.7" fill="#c79a6a"/>
<line x1="587.0" y1="439.8" x2="601.2" y2="448.1" stroke="#2f4a74" stroke-opacity="0.5" stroke-width="0.9"/>
<line x1="586.4" y1="443.3" x2="600.7" y2="451.7" stroke="#aebbca" stroke-width="1.3"/>
<circle cx="600.4" cy="451.7" r="0.7" fill="#c79a6a"/>
<line x1="585.7" y1="446.8" x2="600.1" y2="455.2" stroke="#2f4a74" stroke-opacity="0.5" stroke-width="0.9"/>
<line x1="585.1" y1="450.3" x2="599.5" y2="458.7" stroke="#aebbca" stroke-width="1.3"/>
<circle cx="599.2" cy="458.7" r="0.7" fill="#c79a6a"/>
<line x1="584.4" y1="453.7" x2="599.0" y2="462.2" stroke="#2f4a74" stroke-opacity="0.5" stroke-width="0.9"/>
<line x1="583.8" y1="457.2" x2="598.4" y2="465.7" stroke="#aebbca" stroke-width="1.3"/>
<circle cx="598.1" cy="465.7" r="0.7" fill="#c79a6a"/>
<line x1="583.1" y1="460.7" x2="597.9" y2="469.2" stroke="#2f4a74" stroke-opacity="0.5" stroke-width="0.9"/>
<line x1="582.5" y1="464.2" x2="597.3" y2="472.7" stroke="#aebbca" stroke-width="1.3"/>
<circle cx="597.0" cy="472.7" r="0.7" fill="#c79a6a"/>
<line x1="581.8" y1="467.7" x2="596.8" y2="476.3" stroke="#2f4a74" stroke-opacity="0.5" stroke-width="0.9"/>
<line x1="581.2" y1="471.1" x2="596.2" y2="479.8" stroke="#aebbca" stroke-width="1.3"/>
<circle cx="595.9" cy="479.8" r="0.7" fill="#c79a6a"/>
<line x1="579.9" y1="478.1" x2="595.1" y2="486.8" stroke="#aebbca" stroke-width="1.3"/>
<circle cx="594.8" cy="486.8" r="0.7" fill="#c79a6a"/>
<line x1="599.3" y1="373.7" x2="579.9" y2="478.1" stroke="#c0ccda" stroke-width="1.2"/>
<line x1="611.8" y1="381.4" x2="595.1" y2="486.8" stroke="#9fb0c4" stroke-width="0.7"/>
<polygon points="611.8,486.7 620.8,489.7 620.8,492.7 611.8,490.2" fill="#3b3a3c"/>
<polygon points="613.3,486.5 617.3,487.7 617.3,489.3 613.3,488.1" fill="#7a6352" fill-opacity="0.85"/>
<polygon points="623.5,375.9 636.0,383.6 622.8,489.7 607.6,481.0" fill="url(#pan18)"/>
<line x1="626.7" y1="377.8" x2="611.4" y2="483.2" stroke="#2c4a78" stroke-opacity="0.35" stroke-width="0.8"/>
<line x1="629.8" y1="379.7" x2="615.2" y2="485.4" stroke="#2c4a78" stroke-opacity="0.40" stroke-width="0.8"/>
<line x1="632.9" y1="381.7" x2="619.0" y2="487.6" stroke="#2c4a78" stroke-opacity="0.35" stroke-width="0.8"/>
<line x1="623.5" y1="375.9" x2="636.0" y2="383.6" stroke="#aebbca" stroke-width="1.3"/>
<circle cx="635.7" cy="383.6" r="0.7" fill="#c79a6a"/>
<line x1="623.0" y1="379.2" x2="635.6" y2="386.9" stroke="#2f4a74" stroke-opacity="0.5" stroke-width="0.9"/>
<line x1="622.5" y1="382.4" x2="635.2" y2="390.2" stroke="#aebbca" stroke-width="1.3"/>
<circle cx="634.9" cy="390.2" r="0.7" fill="#c79a6a"/>
<line x1="622.0" y1="385.7" x2="634.8" y2="393.5" stroke="#2f4a74" stroke-opacity="0.5" stroke-width="0.9"/>
<line x1="621.5" y1="389.0" x2="634.4" y2="396.9" stroke="#aebbca" stroke-width="1.3"/>
<circle cx="634.1" cy="396.9" r="0.7" fill="#c79a6a"/>
<line x1="621.0" y1="392.3" x2="634.0" y2="400.2" stroke="#2f4a74" stroke-opacity="0.5" stroke-width="0.9"/>
<line x1="620.5" y1="395.6" x2="633.6" y2="403.5" stroke="#aebbca" stroke-width="1.3"/>
<circle cx="633.3" cy="403.5" r="0.7" fill="#c79a6a"/>
<line x1="620.0" y1="398.9" x2="633.1" y2="406.8" stroke="#2f4a74" stroke-opacity="0.5" stroke-width="0.9"/>
<line x1="619.6" y1="402.2" x2="632.7" y2="410.1" stroke="#aebbca" stroke-width="1.3"/>
<circle cx="632.4" cy="410.1" r="0.7" fill="#c79a6a"/>
<line x1="619.1" y1="405.4" x2="632.3" y2="413.4" stroke="#2f4a74" stroke-opacity="0.5" stroke-width="0.9"/>
<line x1="618.6" y1="408.7" x2="631.9" y2="416.8" stroke="#aebbca" stroke-width="1.3"/>
<circle cx="631.6" cy="416.8" r="0.7" fill="#c79a6a"/>
<line x1="618.1" y1="412.0" x2="631.5" y2="420.1" stroke="#2f4a74" stroke-opacity="0.5" stroke-width="0.9"/>
<line x1="617.6" y1="415.3" x2="631.1" y2="423.4" stroke="#aebbca" stroke-width="1.3"/>
<circle cx="630.8" cy="423.4" r="0.7" fill="#c79a6a"/>
<line x1="617.1" y1="418.6" x2="630.7" y2="426.7" stroke="#2f4a74" stroke-opacity="0.5" stroke-width="0.9"/>
<line x1="616.6" y1="421.9" x2="630.2" y2="430.0" stroke="#aebbca" stroke-width="1.3"/>
<circle cx="629.9" cy="430.0" r="0.7" fill="#c79a6a"/>
<line x1="616.1" y1="425.2" x2="629.8" y2="433.3" stroke="#2f4a74" stroke-opacity="0.5" stroke-width="0.9"/>
<line x1="615.6" y1="428.4" x2="629.4" y2="436.7" stroke="#aebbca" stroke-width="1.3"/>
<circle cx="629.1" cy="436.7" r="0.7" fill="#c79a6a"/>
<line x1="615.1" y1="431.7" x2="629.0" y2="440.0" stroke="#2f4a74" stroke-opacity="0.5" stroke-width="0.9"/>
<line x1="614.6" y1="435.0" x2="628.6" y2="443.3" stroke="#aebbca" stroke-width="1.3"/>
<circle cx="628.3" cy="443.3" r="0.7" fill="#c79a6a"/>
<line x1="614.1" y1="438.3" x2="628.2" y2="446.6" stroke="#2f4a74" stroke-opacity="0.5" stroke-width="0.9"/>
<line x1="613.6" y1="441.6" x2="627.8" y2="449.9" stroke="#aebbca" stroke-width="1.3"/>
<circle cx="627.5" cy="449.9" r="0.7" fill="#c79a6a"/>
<line x1="613.1" y1="444.9" x2="627.3" y2="453.2" stroke="#2f4a74" stroke-opacity="0.5" stroke-width="0.9"/>
<line x1="612.6" y1="448.2" x2="626.9" y2="456.6" stroke="#aebbca" stroke-width="1.3"/>
<circle cx="626.6" cy="456.6" r="0.7" fill="#c79a6a"/>
<line x1="612.1" y1="451.5" x2="626.5" y2="459.9" stroke="#2f4a74" stroke-opacity="0.5" stroke-width="0.9"/>
<line x1="611.6" y1="454.7" x2="626.1" y2="463.2" stroke="#aebbca" stroke-width="1.3"/>
<circle cx="625.8" cy="463.2" r="0.7" fill="#c79a6a"/>
<line x1="611.1" y1="458.0" x2="625.7" y2="466.5" stroke="#2f4a74" stroke-opacity="0.5" stroke-width="0.9"/>
<line x1="610.6" y1="461.3" x2="625.3" y2="469.8" stroke="#aebbca" stroke-width="1.3"/>
<circle cx="625.0" cy="469.8" r="0.7" fill="#c79a6a"/>
<line x1="610.1" y1="464.6" x2="624.9" y2="473.1" stroke="#2f4a74" stroke-opacity="0.5" stroke-width="0.9"/>
<line x1="609.6" y1="467.9" x2="624.4" y2="476.5" stroke="#aebbca" stroke-width="1.3"/>
<circle cx="624.1" cy="476.5" r="0.7" fill="#c79a6a"/>
<line x1="609.1" y1="471.2" x2="624.0" y2="479.8" stroke="#2f4a74" stroke-opacity="0.5" stroke-width="0.9"/>
<line x1="608.6" y1="474.5" x2="623.6" y2="483.1" stroke="#aebbca" stroke-width="1.3"/>
<circle cx="623.3" cy="483.1" r="0.7" fill="#c79a6a"/>
<line x1="607.6" y1="481.0" x2="622.8" y2="489.7" stroke="#aebbca" stroke-width="1.3"/>
<circle cx="622.5" cy="489.7" r="0.7" fill="#c79a6a"/>
<line x1="623.5" y1="375.9" x2="607.6" y2="481.0" stroke="#c0ccda" stroke-width="1.2"/>
<line x1="636.0" y1="383.6" x2="622.8" y2="489.7" stroke="#9fb0c4" stroke-width="0.7"/>
<polygon points="639.7,489.7 648.7,492.7 648.7,495.7 639.7,493.2" fill="#3b3a3c"/>
<polygon points="641.2,489.5 645.2,490.7 645.2,492.3 641.2,491.1" fill="#7a6352" fill-opacity="0.85"/>
<polygon points="647.9,378.0 660.4,385.8 650.7,492.7 635.5,484.0" fill="url(#pan19)"/>
<line x1="651.0" y1="380.0" x2="639.3" y2="486.1" stroke="#2c4a78" stroke-opacity="0.35" stroke-width="0.8"/>
<line x1="654.2" y1="381.9" x2="643.1" y2="488.3" stroke="#2c4a78" stroke-opacity="0.40" stroke-width="0.8"/>
<line x1="657.3" y1="383.9" x2="646.9" y2="490.5" stroke="#2c4a78" stroke-opacity="0.35" stroke-width="0.8"/>
<line x1="647.9" y1="378.0" x2="660.4" y2="385.8" stroke="#aebbca" stroke-width="1.3"/>
<circle cx="660.1" cy="385.8" r="0.7" fill="#c79a6a"/>
<line x1="647.5" y1="381.3" x2="660.1" y2="389.2" stroke="#2f4a74" stroke-opacity="0.5" stroke-width="0.9"/>
<line x1="647.1" y1="384.7" x2="659.8" y2="392.5" stroke="#aebbca" stroke-width="1.3"/>
<circle cx="659.5" cy="392.5" r="0.7" fill="#c79a6a"/>
<line x1="646.8" y1="388.0" x2="659.5" y2="395.9" stroke="#2f4a74" stroke-opacity="0.5" stroke-width="0.9"/>
<line x1="646.4" y1="391.3" x2="659.2" y2="399.2" stroke="#aebbca" stroke-width="1.3"/>
<circle cx="658.9" cy="399.2" r="0.7" fill="#c79a6a"/>
<line x1="646.0" y1="394.6" x2="658.9" y2="402.5" stroke="#2f4a74" stroke-opacity="0.5" stroke-width="0.9"/>
<line x1="645.6" y1="397.9" x2="658.6" y2="405.9" stroke="#aebbca" stroke-width="1.3"/>
<circle cx="658.3" cy="405.9" r="0.7" fill="#c79a6a"/>
<line x1="645.2" y1="401.2" x2="658.3" y2="409.2" stroke="#2f4a74" stroke-opacity="0.5" stroke-width="0.9"/>
<line x1="644.8" y1="404.5" x2="658.0" y2="412.5" stroke="#aebbca" stroke-width="1.3"/>
<circle cx="657.7" cy="412.5" r="0.7" fill="#c79a6a"/>
<line x1="644.4" y1="407.8" x2="657.7" y2="415.9" stroke="#2f4a74" stroke-opacity="0.5" stroke-width="0.9"/>
<line x1="644.0" y1="411.1" x2="657.4" y2="419.2" stroke="#aebbca" stroke-width="1.3"/>
<circle cx="657.1" cy="419.2" r="0.7" fill="#c79a6a"/>
<line x1="643.7" y1="414.5" x2="657.1" y2="422.6" stroke="#2f4a74" stroke-opacity="0.5" stroke-width="0.9"/>
<line x1="643.3" y1="417.8" x2="656.8" y2="425.9" stroke="#aebbca" stroke-width="1.3"/>
<circle cx="656.5" cy="425.9" r="0.7" fill="#c79a6a"/>
<line x1="642.9" y1="421.1" x2="656.5" y2="429.2" stroke="#2f4a74" stroke-opacity="0.5" stroke-width="0.9"/>
<line x1="642.5" y1="424.4" x2="656.2" y2="432.6" stroke="#aebbca" stroke-width="1.3"/>
<circle cx="655.9" cy="432.6" r="0.7" fill="#c79a6a"/>
<line x1="642.1" y1="427.7" x2="655.9" y2="435.9" stroke="#2f4a74" stroke-opacity="0.5" stroke-width="0.9"/>
<line x1="641.7" y1="431.0" x2="655.6" y2="439.3" stroke="#aebbca" stroke-width="1.3"/>
<circle cx="655.3" cy="439.3" r="0.7" fill="#c79a6a"/>
<line x1="641.3" y1="434.3" x2="655.3" y2="442.6" stroke="#2f4a74" stroke-opacity="0.5" stroke-width="0.9"/>
<line x1="640.9" y1="437.6" x2="655.0" y2="445.9" stroke="#aebbca" stroke-width="1.3"/>
<circle cx="654.7" cy="445.9" r="0.7" fill="#c79a6a"/>
<line x1="640.6" y1="440.9" x2="654.7" y2="449.3" stroke="#2f4a74" stroke-opacity="0.5" stroke-width="0.9"/>
<line x1="640.2" y1="444.2" x2="654.4" y2="452.6" stroke="#aebbca" stroke-width="1.3"/>
<circle cx="654.1" cy="452.6" r="0.7" fill="#c79a6a"/>
<line x1="639.8" y1="447.6" x2="654.1" y2="455.9" stroke="#2f4a74" stroke-opacity="0.5" stroke-width="0.9"/>
<line x1="639.4" y1="450.9" x2="653.7" y2="459.3" stroke="#aebbca" stroke-width="1.3"/>
<circle cx="653.4" cy="459.3" r="0.7" fill="#c79a6a"/>
<line x1="639.0" y1="454.2" x2="653.4" y2="462.6" stroke="#2f4a74" stroke-opacity="0.5" stroke-width="0.9"/>
<line x1="638.6" y1="457.5" x2="653.1" y2="466.0" stroke="#aebbca" stroke-width="1.3"/>
<circle cx="652.8" cy="466.0" r="0.7" fill="#c79a6a"/>
<line x1="638.2" y1="460.8" x2="652.8" y2="469.3" stroke="#2f4a74" stroke-opacity="0.5" stroke-width="0.9"/>
<line x1="637.8" y1="464.1" x2="652.5" y2="472.6" stroke="#aebbca" stroke-width="1.3"/>
<circle cx="652.2" cy="472.6" r="0.7" fill="#c79a6a"/>
<line x1="637.5" y1="467.4" x2="652.2" y2="476.0" stroke="#2f4a74" stroke-opacity="0.5" stroke-width="0.9"/>
<line x1="637.1" y1="470.7" x2="651.9" y2="479.3" stroke="#aebbca" stroke-width="1.3"/>
<circle cx="651.6" cy="479.3" r="0.7" fill="#c79a6a"/>
<line x1="636.7" y1="474.0" x2="651.6" y2="482.6" stroke="#2f4a74" stroke-opacity="0.5" stroke-width="0.9"/>
<line x1="636.3" y1="477.3" x2="651.3" y2="486.0" stroke="#aebbca" stroke-width="1.3"/>
<circle cx="651.0" cy="486.0" r="0.7" fill="#c79a6a"/>
<line x1="635.5" y1="484.0" x2="650.7" y2="492.7" stroke="#aebbca" stroke-width="1.3"/>
<circle cx="650.4" cy="492.7" r="0.7" fill="#c79a6a"/>
<line x1="647.9" y1="378.0" x2="635.5" y2="484.0" stroke="#c0ccda" stroke-width="1.2"/>
<line x1="660.4" y1="385.8" x2="650.7" y2="492.7" stroke="#9fb0c4" stroke-width="0.7"/>
<polygon points="667.9,492.6 676.9,495.6 676.9,498.6 667.9,496.1" fill="#3b3a3c"/>
<polygon points="669.4,492.4 673.4,493.6 673.4,495.2 669.4,494.0" fill="#7a6352" fill-opacity="0.85"/>
<polygon points="672.5,380.2 685.0,388.1 678.9,495.6 663.7,486.9" fill="url(#pan20)"/>
<line x1="675.6" y1="382.2" x2="667.5" y2="489.1" stroke="#2c4a78" stroke-opacity="0.35" stroke-width="0.8"/>
<line x1="678.7" y1="384.2" x2="671.3" y2="491.3" stroke="#2c4a78" stroke-opacity="0.40" stroke-width="0.8"/>
<line x1="681.9" y1="386.1" x2="675.1" y2="493.4" stroke="#2c4a78" stroke-opacity="0.35" stroke-width="0.8"/>
<line x1="672.5" y1="380.2" x2="685.0" y2="388.1" stroke="#aebbca" stroke-width="1.3"/>
<circle cx="684.7" cy="388.1" r="0.7" fill="#c79a6a"/>
<line x1="672.2" y1="383.6" x2="684.8" y2="391.5" stroke="#2f4a74" stroke-opacity="0.5" stroke-width="0.9"/>
<line x1="671.9" y1="386.9" x2="684.6" y2="394.8" stroke="#aebbca" stroke-width="1.3"/>
<circle cx="684.3" cy="394.8" r="0.7" fill="#c79a6a"/>
<line x1="671.7" y1="390.2" x2="684.4" y2="398.2" stroke="#2f4a74" stroke-opacity="0.5" stroke-width="0.9"/>
<line x1="671.4" y1="393.6" x2="684.2" y2="401.5" stroke="#aebbca" stroke-width="1.3"/>
<circle cx="683.9" cy="401.5" r="0.7" fill="#c79a6a"/>
<line x1="671.1" y1="396.9" x2="684.0" y2="404.9" stroke="#2f4a74" stroke-opacity="0.5" stroke-width="0.9"/>
<line x1="670.8" y1="400.2" x2="683.8" y2="408.3" stroke="#aebbca" stroke-width="1.3"/>
<circle cx="683.5" cy="408.3" r="0.7" fill="#c79a6a"/>
<line x1="670.6" y1="403.6" x2="683.6" y2="411.6" stroke="#2f4a74" stroke-opacity="0.5" stroke-width="0.9"/>
<line x1="670.3" y1="406.9" x2="683.5" y2="415.0" stroke="#aebbca" stroke-width="1.3"/>
<circle cx="683.2" cy="415.0" r="0.7" fill="#c79a6a"/>
<line x1="670.0" y1="410.2" x2="683.3" y2="418.3" stroke="#2f4a74" stroke-opacity="0.5" stroke-width="0.9"/>
<line x1="669.7" y1="413.6" x2="683.1" y2="421.7" stroke="#aebbca" stroke-width="1.3"/>
<circle cx="682.8" cy="421.7" r="0.7" fill="#c79a6a"/>
<line x1="669.5" y1="416.9" x2="682.9" y2="425.1" stroke="#2f4a74" stroke-opacity="0.5" stroke-width="0.9"/>
<line x1="669.2" y1="420.2" x2="682.7" y2="428.4" stroke="#aebbca" stroke-width="1.3"/>
<circle cx="682.4" cy="428.4" r="0.7" fill="#c79a6a"/>
<line x1="668.9" y1="423.6" x2="682.5" y2="431.8" stroke="#2f4a74" stroke-opacity="0.5" stroke-width="0.9"/>
<line x1="668.6" y1="426.9" x2="682.3" y2="435.1" stroke="#aebbca" stroke-width="1.3"/>
<circle cx="682.0" cy="435.1" r="0.7" fill="#c79a6a"/>
<line x1="668.4" y1="430.2" x2="682.1" y2="438.5" stroke="#2f4a74" stroke-opacity="0.5" stroke-width="0.9"/>
<line x1="668.1" y1="433.6" x2="681.9" y2="441.9" stroke="#aebbca" stroke-width="1.3"/>
<circle cx="681.6" cy="441.9" r="0.7" fill="#c79a6a"/>
<line x1="667.8" y1="436.9" x2="681.7" y2="445.2" stroke="#2f4a74" stroke-opacity="0.5" stroke-width="0.9"/>
<line x1="667.5" y1="440.2" x2="681.5" y2="448.6" stroke="#aebbca" stroke-width="1.3"/>
<circle cx="681.2" cy="448.6" r="0.7" fill="#c79a6a"/>
<line x1="667.3" y1="443.6" x2="681.4" y2="451.9" stroke="#2f4a74" stroke-opacity="0.5" stroke-width="0.9"/>
<line x1="667.0" y1="446.9" x2="681.2" y2="455.3" stroke="#aebbca" stroke-width="1.3"/>
<circle cx="680.9" cy="455.3" r="0.7" fill="#c79a6a"/>
<line x1="666.7" y1="450.2" x2="681.0" y2="458.7" stroke="#2f4a74" stroke-opacity="0.5" stroke-width="0.9"/>
<line x1="666.4" y1="453.6" x2="680.8" y2="462.0" stroke="#aebbca" stroke-width="1.3"/>
<circle cx="680.5" cy="462.0" r="0.7" fill="#c79a6a"/>
<line x1="666.2" y1="456.9" x2="680.6" y2="465.4" stroke="#2f4a74" stroke-opacity="0.5" stroke-width="0.9"/>
<line x1="665.9" y1="460.2" x2="680.4" y2="468.7" stroke="#aebbca" stroke-width="1.3"/>
<circle cx="680.1" cy="468.7" r="0.7" fill="#c79a6a"/>
<line x1="665.6" y1="463.6" x2="680.2" y2="472.1" stroke="#2f4a74" stroke-opacity="0.5" stroke-width="0.9"/>
<line x1="665.3" y1="466.9" x2="680.0" y2="475.4" stroke="#aebbca" stroke-width="1.3"/>
<circle cx="679.7" cy="475.4" r="0.7" fill="#c79a6a"/>
<line x1="665.1" y1="470.2" x2="679.8" y2="478.8" stroke="#2f4a74" stroke-opacity="0.5" stroke-width="0.9"/>
<line x1="664.8" y1="473.6" x2="679.6" y2="482.2" stroke="#aebbca" stroke-width="1.3"/>
<circle cx="679.3" cy="482.2" r="0.7" fill="#c79a6a"/>
<line x1="664.5" y1="476.9" x2="679.5" y2="485.5" stroke="#2f4a74" stroke-opacity="0.5" stroke-width="0.9"/>
<line x1="664.2" y1="480.2" x2="679.3" y2="488.9" stroke="#aebbca" stroke-width="1.3"/>
<circle cx="679.0" cy="488.9" r="0.7" fill="#c79a6a"/>
<line x1="663.7" y1="486.9" x2="678.9" y2="495.6" stroke="#aebbca" stroke-width="1.3"/>
<circle cx="678.6" cy="495.6" r="0.7" fill="#c79a6a"/>
<line x1="672.5" y1="380.2" x2="663.7" y2="486.9" stroke="#c0ccda" stroke-width="1.2"/>
<line x1="685.0" y1="388.1" x2="678.9" y2="495.6" stroke="#9fb0c4" stroke-width="0.7"/>
<polygon points="696.3,495.6 705.3,498.6 705.3,501.6 696.3,499.1" fill="#3b3a3c"/>
<polygon points="697.8,495.4 701.8,496.6 701.8,498.2 697.8,497.0" fill="#7a6352" fill-opacity="0.85"/>
<polygon points="697.2,382.4 709.7,390.4 707.3,498.6 692.1,489.9" fill="url(#pan21)"/>
<line x1="700.3" y1="384.4" x2="695.9" y2="492.0" stroke="#2c4a78" stroke-opacity="0.35" stroke-width="0.8"/>
<line x1="703.5" y1="386.4" x2="699.7" y2="494.2" stroke="#2c4a78" stroke-opacity="0.40" stroke-width="0.8"/>
<line x1="706.6" y1="388.4" x2="703.5" y2="496.4" stroke="#2c4a78" stroke-opacity="0.35" stroke-width="0.8"/>
<line x1="697.2" y1="382.4" x2="709.7" y2="390.4" stroke="#aebbca" stroke-width="1.3"/>
<circle cx="709.4" cy="390.4" r="0.7" fill="#c79a6a"/>
<line x1="697.1" y1="385.8" x2="709.6" y2="393.7" stroke="#2f4a74" stroke-opacity="0.5" stroke-width="0.9"/>
<line x1="696.9" y1="389.1" x2="709.6" y2="397.1" stroke="#aebbca" stroke-width="1.3"/>
<circle cx="709.3" cy="397.1" r="0.7" fill="#c79a6a"/>
<line x1="696.7" y1="392.5" x2="709.5" y2="400.5" stroke="#2f4a74" stroke-opacity="0.5" stroke-width="0.9"/>
<line x1="696.6" y1="395.8" x2="709.4" y2="403.9" stroke="#aebbca" stroke-width="1.3"/>
<circle cx="709.1" cy="403.9" r="0.7" fill="#c79a6a"/>
<line x1="696.4" y1="399.2" x2="709.3" y2="407.3" stroke="#2f4a74" stroke-opacity="0.5" stroke-width="0.9"/>
<line x1="696.3" y1="402.6" x2="709.3" y2="410.6" stroke="#aebbca" stroke-width="1.3"/>
<circle cx="709.0" cy="410.6" r="0.7" fill="#c79a6a"/>
<line x1="696.1" y1="405.9" x2="709.2" y2="414.0" stroke="#2f4a74" stroke-opacity="0.5" stroke-width="0.9"/>
<line x1="695.9" y1="409.3" x2="709.1" y2="417.4" stroke="#aebbca" stroke-width="1.3"/>
<circle cx="708.8" cy="417.4" r="0.7" fill="#c79a6a"/>
<line x1="695.8" y1="412.6" x2="709.0" y2="420.8" stroke="#2f4a74" stroke-opacity="0.5" stroke-width="0.9"/>
<line x1="695.6" y1="416.0" x2="709.0" y2="424.2" stroke="#aebbca" stroke-width="1.3"/>
<circle cx="708.7" cy="424.2" r="0.7" fill="#c79a6a"/>
<line x1="695.4" y1="419.3" x2="708.9" y2="427.6" stroke="#2f4a74" stroke-opacity="0.5" stroke-width="0.9"/>
<line x1="695.3" y1="422.7" x2="708.8" y2="430.9" stroke="#aebbca" stroke-width="1.3"/>
<circle cx="708.5" cy="430.9" r="0.7" fill="#c79a6a"/>
<line x1="695.1" y1="426.1" x2="708.7" y2="434.3" stroke="#2f4a74" stroke-opacity="0.5" stroke-width="0.9"/>
<line x1="695.0" y1="429.4" x2="708.6" y2="437.7" stroke="#aebbca" stroke-width="1.3"/>
<circle cx="708.3" cy="437.7" r="0.7" fill="#c79a6a"/>
<line x1="694.8" y1="432.8" x2="708.6" y2="441.1" stroke="#2f4a74" stroke-opacity="0.5" stroke-width="0.9"/>
<line x1="694.6" y1="436.1" x2="708.5" y2="444.5" stroke="#aebbca" stroke-width="1.3"/>
<circle cx="708.2" cy="444.5" r="0.7" fill="#c79a6a"/>
<line x1="694.5" y1="439.5" x2="708.4" y2="447.8" stroke="#2f4a74" stroke-opacity="0.5" stroke-width="0.9"/>
<line x1="694.3" y1="442.9" x2="708.3" y2="451.2" stroke="#aebbca" stroke-width="1.3"/>
<circle cx="708.0" cy="451.2" r="0.7" fill="#c79a6a"/>
<line x1="694.2" y1="446.2" x2="708.3" y2="454.6" stroke="#2f4a74" stroke-opacity="0.5" stroke-width="0.9"/>
<line x1="694.0" y1="449.6" x2="708.2" y2="458.0" stroke="#aebbca" stroke-width="1.3"/>
<circle cx="707.9" cy="458.0" r="0.7" fill="#c79a6a"/>
<line x1="693.8" y1="452.9" x2="708.1" y2="461.4" stroke="#2f4a74" stroke-opacity="0.5" stroke-width="0.9"/>
<line x1="693.7" y1="456.3" x2="708.0" y2="464.7" stroke="#aebbca" stroke-width="1.3"/>
<circle cx="707.7" cy="464.7" r="0.7" fill="#c79a6a"/>
<line x1="693.5" y1="459.6" x2="708.0" y2="468.1" stroke="#2f4a74" stroke-opacity="0.5" stroke-width="0.9"/>
<line x1="693.4" y1="463.0" x2="707.9" y2="471.5" stroke="#aebbca" stroke-width="1.3"/>
<circle cx="707.6" cy="471.5" r="0.7" fill="#c79a6a"/>
<line x1="693.2" y1="466.4" x2="707.8" y2="474.9" stroke="#2f4a74" stroke-opacity="0.5" stroke-width="0.9"/>
<line x1="693.0" y1="469.7" x2="707.7" y2="478.3" stroke="#aebbca" stroke-width="1.3"/>
<circle cx="707.4" cy="478.3" r="0.7" fill="#c79a6a"/>
<line x1="692.9" y1="473.1" x2="707.7" y2="481.7" stroke="#2f4a74" stroke-opacity="0.5" stroke-width="0.9"/>
<line x1="692.7" y1="476.4" x2="707.6" y2="485.0" stroke="#aebbca" stroke-width="1.3"/>
<circle cx="707.3" cy="485.0" r="0.7" fill="#c79a6a"/>
<line x1="692.6" y1="479.8" x2="707.5" y2="488.4" stroke="#2f4a74" stroke-opacity="0.5" stroke-width="0.9"/>
<line x1="692.4" y1="483.1" x2="707.4" y2="491.8" stroke="#aebbca" stroke-width="1.3"/>
<circle cx="707.1" cy="491.8" r="0.7" fill="#c79a6a"/>
<line x1="692.1" y1="489.9" x2="707.3" y2="498.6" stroke="#aebbca" stroke-width="1.3"/>
<circle cx="707.0" cy="498.6" r="0.7" fill="#c79a6a"/>
<line x1="697.2" y1="382.4" x2="692.1" y2="489.9" stroke="#c0ccda" stroke-width="1.3"/>
<line x1="709.7" y1="390.4" x2="707.3" y2="498.6" stroke="#9fb0c4" stroke-width="0.7"/>
<polygon points="724.9,498.5 733.9,501.5 733.9,504.5 724.9,502.0" fill="#3b3a3c"/>
<polygon points="726.4,498.3 730.4,499.5 730.4,501.1 726.4,499.9" fill="#7a6352" fill-opacity="0.85"/>
<polygon points="722.1,384.6 734.6,392.6 735.9,501.5 720.7,492.8" fill="url(#pan22)"/>
<line x1="725.3" y1="386.6" x2="724.5" y2="495.0" stroke="#2c4a78" stroke-opacity="0.35" stroke-width="0.8"/>
<line x1="728.4" y1="388.6" x2="728.3" y2="497.2" stroke="#2c4a78" stroke-opacity="0.40" stroke-width="0.8"/>
<line x1="731.5" y1="390.6" x2="732.1" y2="499.4" stroke="#2c4a78" stroke-opacity="0.35" stroke-width="0.8"/>
<line x1="722.1" y1="384.6" x2="734.6" y2="392.6" stroke="#aebbca" stroke-width="1.3"/>
<circle cx="734.3" cy="392.6" r="0.7" fill="#c79a6a"/>
<line x1="722.1" y1="388.0" x2="734.7" y2="396.0" stroke="#2f4a74" stroke-opacity="0.5" stroke-width="0.9"/>
<line x1="722.0" y1="391.4" x2="734.7" y2="399.4" stroke="#aebbca" stroke-width="1.3"/>
<circle cx="734.4" cy="399.4" r="0.7" fill="#c79a6a"/>
<line x1="722.0" y1="394.7" x2="734.8" y2="402.8" stroke="#2f4a74" stroke-opacity="0.5" stroke-width="0.9"/>
<line x1="722.0" y1="398.1" x2="734.8" y2="406.2" stroke="#aebbca" stroke-width="1.3"/>
<circle cx="734.5" cy="406.2" r="0.7" fill="#c79a6a"/>
<line x1="721.9" y1="401.5" x2="734.8" y2="409.6" stroke="#2f4a74" stroke-opacity="0.5" stroke-width="0.9"/>
<line x1="721.9" y1="404.9" x2="734.9" y2="413.0" stroke="#aebbca" stroke-width="1.3"/>
<circle cx="734.6" cy="413.0" r="0.7" fill="#c79a6a"/>
<line x1="721.8" y1="408.3" x2="734.9" y2="416.4" stroke="#2f4a74" stroke-opacity="0.5" stroke-width="0.9"/>
<line x1="721.8" y1="411.7" x2="734.9" y2="419.9" stroke="#aebbca" stroke-width="1.3"/>
<circle cx="734.6" cy="419.9" r="0.7" fill="#c79a6a"/>
<line x1="721.7" y1="415.0" x2="735.0" y2="423.3" stroke="#2f4a74" stroke-opacity="0.5" stroke-width="0.9"/>
<line x1="721.7" y1="418.4" x2="735.0" y2="426.7" stroke="#aebbca" stroke-width="1.3"/>
<circle cx="734.7" cy="426.7" r="0.7" fill="#c79a6a"/>
<line x1="721.6" y1="421.8" x2="735.1" y2="430.1" stroke="#2f4a74" stroke-opacity="0.5" stroke-width="0.9"/>
<line x1="721.6" y1="425.2" x2="735.1" y2="433.5" stroke="#aebbca" stroke-width="1.3"/>
<circle cx="734.8" cy="433.5" r="0.7" fill="#c79a6a"/>
<line x1="721.5" y1="428.6" x2="735.1" y2="436.9" stroke="#2f4a74" stroke-opacity="0.5" stroke-width="0.9"/>
<line x1="721.5" y1="432.0" x2="735.2" y2="440.3" stroke="#aebbca" stroke-width="1.3"/>
<circle cx="734.9" cy="440.3" r="0.7" fill="#c79a6a"/>
<line x1="721.5" y1="435.3" x2="735.2" y2="443.7" stroke="#2f4a74" stroke-opacity="0.5" stroke-width="0.9"/>
<line x1="721.4" y1="438.7" x2="735.3" y2="447.1" stroke="#aebbca" stroke-width="1.3"/>
<circle cx="735.0" cy="447.1" r="0.7" fill="#c79a6a"/>
<line x1="721.4" y1="442.1" x2="735.3" y2="450.5" stroke="#2f4a74" stroke-opacity="0.5" stroke-width="0.9"/>
<line x1="721.3" y1="445.5" x2="735.3" y2="453.9" stroke="#aebbca" stroke-width="1.3"/>
<circle cx="735.0" cy="453.9" r="0.7" fill="#c79a6a"/>
<line x1="721.3" y1="448.9" x2="735.4" y2="457.3" stroke="#2f4a74" stroke-opacity="0.5" stroke-width="0.9"/>
<line x1="721.2" y1="452.2" x2="735.4" y2="460.7" stroke="#aebbca" stroke-width="1.3"/>
<circle cx="735.1" cy="460.7" r="0.7" fill="#c79a6a"/>
<line x1="721.2" y1="455.6" x2="735.5" y2="464.1" stroke="#2f4a74" stroke-opacity="0.5" stroke-width="0.9"/>
<line x1="721.1" y1="459.0" x2="735.5" y2="467.5" stroke="#aebbca" stroke-width="1.3"/>
<circle cx="735.2" cy="467.5" r="0.7" fill="#c79a6a"/>
<line x1="721.1" y1="462.4" x2="735.5" y2="470.9" stroke="#2f4a74" stroke-opacity="0.5" stroke-width="0.9"/>
<line x1="721.1" y1="465.8" x2="735.6" y2="474.3" stroke="#aebbca" stroke-width="1.3"/>
<circle cx="735.3" cy="474.3" r="0.7" fill="#c79a6a"/>
<line x1="721.0" y1="469.2" x2="735.6" y2="477.7" stroke="#2f4a74" stroke-opacity="0.5" stroke-width="0.9"/>
<line x1="721.0" y1="472.5" x2="735.7" y2="481.1" stroke="#aebbca" stroke-width="1.3"/>
<circle cx="735.4" cy="481.1" r="0.7" fill="#c79a6a"/>
<line x1="720.9" y1="475.9" x2="735.7" y2="484.5" stroke="#2f4a74" stroke-opacity="0.5" stroke-width="0.9"/>
<line x1="720.9" y1="479.3" x2="735.7" y2="487.9" stroke="#aebbca" stroke-width="1.3"/>
<circle cx="735.4" cy="487.9" r="0.7" fill="#c79a6a"/>
<line x1="720.8" y1="482.7" x2="735.8" y2="491.3" stroke="#2f4a74" stroke-opacity="0.5" stroke-width="0.9"/>
<line x1="720.8" y1="486.1" x2="735.8" y2="494.7" stroke="#aebbca" stroke-width="1.3"/>
<circle cx="735.5" cy="494.7" r="0.7" fill="#c79a6a"/>
<line x1="720.7" y1="492.8" x2="735.9" y2="501.5" stroke="#aebbca" stroke-width="1.3"/>
<circle cx="735.6" cy="501.5" r="0.7" fill="#c79a6a"/>
<line x1="722.1" y1="384.6" x2="720.7" y2="492.8" stroke="#c0ccda" stroke-width="1.3"/>
<line x1="734.6" y1="392.6" x2="735.9" y2="501.5" stroke="#9fb0c4" stroke-width="0.7"/>
<polygon points="753.7,501.5 762.7,504.5 762.7,507.5 753.7,505.0" fill="#3b3a3c"/>
<polygon points="755.2,501.3 759.2,502.5 759.2,504.1 755.2,502.9" fill="#7a6352" fill-opacity="0.85"/>
<polygon points="747.2,386.8 759.7,394.9 764.7,504.5 749.5,495.8" fill="url(#pan23)"/>
<line x1="750.4" y1="388.8" x2="753.3" y2="498.0" stroke="#2c4a78" stroke-opacity="0.35" stroke-width="0.8"/>
<line x1="753.5" y1="390.8" x2="757.1" y2="500.2" stroke="#2c4a78" stroke-opacity="0.40" stroke-width="0.8"/>
<line x1="756.6" y1="392.9" x2="760.9" y2="502.3" stroke="#2c4a78" stroke-opacity="0.35" stroke-width="0.8"/>
<line x1="747.2" y1="386.8" x2="759.7" y2="394.9" stroke="#aebbca" stroke-width="1.3"/>
<circle cx="759.4" cy="394.9" r="0.7" fill="#c79a6a"/>
<line x1="747.3" y1="390.2" x2="759.9" y2="398.3" stroke="#2f4a74" stroke-opacity="0.5" stroke-width="0.9"/>
<line x1="747.4" y1="393.6" x2="760.0" y2="401.7" stroke="#aebbca" stroke-width="1.3"/>
<circle cx="759.7" cy="401.7" r="0.7" fill="#c79a6a"/>
<line x1="747.4" y1="397.0" x2="760.2" y2="405.2" stroke="#2f4a74" stroke-opacity="0.5" stroke-width="0.9"/>
<line x1="747.5" y1="400.4" x2="760.4" y2="408.6" stroke="#aebbca" stroke-width="1.3"/>
<circle cx="760.1" cy="408.6" r="0.7" fill="#c79a6a"/>
<line x1="747.6" y1="403.8" x2="760.5" y2="412.0" stroke="#2f4a74" stroke-opacity="0.5" stroke-width="0.9"/>
<line x1="747.7" y1="407.2" x2="760.7" y2="415.4" stroke="#aebbca" stroke-width="1.3"/>
<circle cx="760.4" cy="415.4" r="0.7" fill="#c79a6a"/>
<line x1="747.7" y1="410.6" x2="760.8" y2="418.9" stroke="#2f4a74" stroke-opacity="0.5" stroke-width="0.9"/>
<line x1="747.8" y1="414.1" x2="761.0" y2="422.3" stroke="#aebbca" stroke-width="1.3"/>
<circle cx="760.7" cy="422.3" r="0.7" fill="#c79a6a"/>
<line x1="747.9" y1="417.5" x2="761.1" y2="425.7" stroke="#2f4a74" stroke-opacity="0.5" stroke-width="0.9"/>
<line x1="748.0" y1="420.9" x2="761.3" y2="429.2" stroke="#aebbca" stroke-width="1.3"/>
<circle cx="761.0" cy="429.2" r="0.7" fill="#c79a6a"/>
<line x1="748.0" y1="424.3" x2="761.5" y2="432.6" stroke="#2f4a74" stroke-opacity="0.5" stroke-width="0.9"/>
<line x1="748.1" y1="427.7" x2="761.6" y2="436.0" stroke="#aebbca" stroke-width="1.3"/>
<circle cx="761.3" cy="436.0" r="0.7" fill="#c79a6a"/>
<line x1="748.2" y1="431.1" x2="761.8" y2="439.4" stroke="#2f4a74" stroke-opacity="0.5" stroke-width="0.9"/>
<line x1="748.2" y1="434.5" x2="761.9" y2="442.9" stroke="#aebbca" stroke-width="1.3"/>
<circle cx="761.6" cy="442.9" r="0.7" fill="#c79a6a"/>
<line x1="748.3" y1="437.9" x2="762.1" y2="446.3" stroke="#2f4a74" stroke-opacity="0.5" stroke-width="0.9"/>
<line x1="748.4" y1="441.3" x2="762.2" y2="449.7" stroke="#aebbca" stroke-width="1.3"/>
<circle cx="761.9" cy="449.7" r="0.7" fill="#c79a6a"/>
<line x1="748.5" y1="444.7" x2="762.4" y2="453.1" stroke="#2f4a74" stroke-opacity="0.5" stroke-width="0.9"/>
<line x1="748.5" y1="448.1" x2="762.5" y2="456.6" stroke="#aebbca" stroke-width="1.3"/>
<circle cx="762.2" cy="456.6" r="0.7" fill="#c79a6a"/>
<line x1="748.6" y1="451.5" x2="762.7" y2="460.0" stroke="#2f4a74" stroke-opacity="0.5" stroke-width="0.9"/>
<line x1="748.7" y1="454.9" x2="762.9" y2="463.4" stroke="#aebbca" stroke-width="1.3"/>
<circle cx="762.6" cy="463.4" r="0.7" fill="#c79a6a"/>
<line x1="748.7" y1="458.3" x2="763.0" y2="466.8" stroke="#2f4a74" stroke-opacity="0.5" stroke-width="0.9"/>
<line x1="748.8" y1="461.7" x2="763.2" y2="470.3" stroke="#aebbca" stroke-width="1.3"/>
<circle cx="762.9" cy="470.3" r="0.7" fill="#c79a6a"/>
<line x1="748.9" y1="465.1" x2="763.3" y2="473.7" stroke="#2f4a74" stroke-opacity="0.5" stroke-width="0.9"/>
<line x1="749.0" y1="468.6" x2="763.5" y2="477.1" stroke="#aebbca" stroke-width="1.3"/>
<circle cx="763.2" cy="477.1" r="0.7" fill="#c79a6a"/>
<line x1="749.0" y1="472.0" x2="763.6" y2="480.5" stroke="#2f4a74" stroke-opacity="0.5" stroke-width="0.9"/>
<line x1="749.1" y1="475.4" x2="763.8" y2="484.0" stroke="#aebbca" stroke-width="1.3"/>
<circle cx="763.5" cy="484.0" r="0.7" fill="#c79a6a"/>
<line x1="749.2" y1="478.8" x2="764.0" y2="487.4" stroke="#2f4a74" stroke-opacity="0.5" stroke-width="0.9"/>
<line x1="749.3" y1="482.2" x2="764.1" y2="490.8" stroke="#aebbca" stroke-width="1.3"/>
<circle cx="763.8" cy="490.8" r="0.7" fill="#c79a6a"/>
<line x1="749.3" y1="485.6" x2="764.3" y2="494.2" stroke="#2f4a74" stroke-opacity="0.5" stroke-width="0.9"/>
<line x1="749.4" y1="489.0" x2="764.4" y2="497.7" stroke="#aebbca" stroke-width="1.3"/>
<circle cx="764.1" cy="497.7" r="0.7" fill="#c79a6a"/>
<line x1="749.5" y1="495.8" x2="764.7" y2="504.5" stroke="#aebbca" stroke-width="1.3"/>
<circle cx="764.4" cy="504.5" r="0.7" fill="#c79a6a"/>
<line x1="747.2" y1="386.8" x2="749.5" y2="495.8" stroke="#c0ccda" stroke-width="1.3"/>
<line x1="759.7" y1="394.9" x2="764.7" y2="504.5" stroke="#9fb0c4" stroke-width="0.7"/>
</g>
<path d="M290.0 318.7 L287.9 321.2 Q286.9 322.3 285.4 322.2 L244.4 319.9 Q242.9 319.8 242.0 321.0 L226.9 342.5" fill="none" stroke="#2a5db4" stroke-width="1.8" stroke-linejoin="round" transform="translate(0.15,0.45)"/>
<path d="M290.0 318.7 L287.9 321.2 Q286.9 322.3 285.4 322.2 L244.4 319.9 Q242.9 319.8 242.0 321.0 L226.9 342.5" fill="none" stroke="#3b7ed0" stroke-width="1.8" stroke-linejoin="round" stroke-linecap="butt"/>
<line x1="290.0" y1="318.7" x2="288.3" y2="320.7" stroke="#17368c" stroke-width="2.2"/>
<path d="M298.2 319.2 L294.4 325.7 Q293.6 327.0 292.1 326.9 L263.0 325.0 Q261.5 324.9 260.7 326.1 L248.1 344.5" fill="none" stroke="#2a5db4" stroke-width="1.8" stroke-linejoin="round" transform="translate(0.15,0.45)"/>
<path d="M298.2 319.2 L294.4 325.7 Q293.6 327.0 292.1 326.9 L263.0 325.0 Q261.5 324.9 260.7 326.1 L248.1 344.5" fill="none" stroke="#3b7ed0" stroke-width="1.8" stroke-linejoin="round" stroke-linecap="butt"/>
<line x1="298.2" y1="319.2" x2="296.9" y2="321.4" stroke="#17368c" stroke-width="2.2"/>
<path d="M306.6 319.9 L300.6 330.3 Q299.8 331.6 298.3 331.5 L280.6 330.7 Q279.1 330.6 278.3 331.9 L269.3 346.1" fill="none" stroke="#2a5db4" stroke-width="1.8" stroke-linejoin="round" transform="translate(0.15,0.45)"/>
<path d="M306.6 319.9 L300.6 330.3 Q299.8 331.6 298.3 331.5 L280.6 330.7 Q279.1 330.6 278.3 331.9 L269.3 346.1" fill="none" stroke="#3b7ed0" stroke-width="1.8" stroke-linejoin="round" stroke-linecap="butt"/>
<line x1="306.6" y1="319.9" x2="305.3" y2="322.1" stroke="#17368c" stroke-width="2.2"/>
<path d="M314.4 320.5 L306.7 334.5 Q306.0 335.8 304.5 335.7 L300.3 335.4 Q298.8 335.3 298.0 336.6 L291.0 347.7" fill="none" stroke="#2a5db4" stroke-width="1.8" stroke-linejoin="round" transform="translate(0.15,0.45)"/>
<path d="M314.4 320.5 L306.7 334.5 Q306.0 335.8 304.5 335.7 L300.3 335.4 Q298.8 335.3 298.0 336.6 L291.0 347.7" fill="none" stroke="#3b7ed0" stroke-width="1.8" stroke-linejoin="round" stroke-linecap="butt"/>
<line x1="314.4" y1="320.5" x2="313.1" y2="322.8" stroke="#17368c" stroke-width="2.2"/>
<path d="M322.8 321.2 L314.8 333.9 Q314.0 335.2 315.4 335.8 L317.7 336.7 Q319.1 337.3 318.4 338.6 L312.4 350.7" fill="none" stroke="#2a5db4" stroke-width="1.8" stroke-linejoin="round" transform="translate(0.15,0.45)"/>
<path d="M322.8 321.2 L314.8 333.9 Q314.0 335.2 315.4 335.8 L317.7 336.7 Q319.1 337.3 318.4 338.6 L312.4 350.7" fill="none" stroke="#3b7ed0" stroke-width="1.8" stroke-linejoin="round" stroke-linecap="butt"/>
<line x1="322.8" y1="321.2" x2="321.4" y2="323.4" stroke="#17368c" stroke-width="2.2"/>
<path d="M331.0 322.1 L325.1 332.3 Q324.3 333.6 325.8 333.8 L340.9 336.0 Q342.4 336.2 341.7 337.5 L333.6 352.2" fill="none" stroke="#2a5db4" stroke-width="1.8" stroke-linejoin="round" transform="translate(0.15,0.45)"/>
<path d="M331.0 322.1 L325.1 332.3 Q324.3 333.6 325.8 333.8 L340.9 336.0 Q342.4 336.2 341.7 337.5 L333.6 352.2" fill="none" stroke="#3b7ed0" stroke-width="1.8" stroke-linejoin="round" stroke-linecap="butt"/>
<line x1="331.0" y1="322.1" x2="329.7" y2="324.3" stroke="#17368c" stroke-width="2.2"/>
<path d="M339.3 322.8 L335.9 329.8 Q335.2 331.1 336.7 331.3 L364.2 334.5 Q365.7 334.7 365.0 336.0 L356.4 353.3" fill="none" stroke="#2a5db4" stroke-width="1.8" stroke-linejoin="round" transform="translate(0.15,0.45)"/>
<path d="M339.3 322.8 L335.9 329.8 Q335.2 331.1 336.7 331.3 L364.2 334.5 Q365.7 334.7 365.0 336.0 L356.4 353.3" fill="none" stroke="#3b7ed0" stroke-width="1.8" stroke-linejoin="round" stroke-linecap="butt"/>
<line x1="339.3" y1="322.8" x2="338.1" y2="325.1" stroke="#17368c" stroke-width="2.2"/>
<path d="M347.6 323.5 L346.6 326.0 Q346.0 327.4 347.5 327.6 L388.5 332.4 Q390.0 332.6 389.3 333.9 L379.1 354.8" fill="none" stroke="#2a5db4" stroke-width="1.8" stroke-linejoin="round" transform="translate(0.15,0.45)"/>
<path d="M347.6 323.5 L346.6 326.0 Q346.0 327.4 347.5 327.6 L388.5 332.4 Q390.0 332.6 389.3 333.9 L379.1 354.8" fill="none" stroke="#3b7ed0" stroke-width="1.8" stroke-linejoin="round" stroke-linecap="butt"/>
<line x1="347.6" y1="323.5" x2="346.6" y2="325.9" stroke="#17368c" stroke-width="2.2"/>
<path d="M458.4 333.2 L456.9 336.9 Q456.4 338.3 454.9 338.2 L412.4 334.3 Q410.9 334.2 410.3 335.6 L399.5 358.0" fill="none" stroke="#2a5db4" stroke-width="1.8" stroke-linejoin="round" transform="translate(0.15,0.45)"/>
<path d="M458.4 333.2 L456.9 336.9 Q456.4 338.3 454.9 338.2 L412.4 334.3 Q410.9 334.2 410.3 335.6 L399.5 358.0" fill="none" stroke="#3b7ed0" stroke-width="1.8" stroke-linejoin="round" stroke-linecap="butt"/>
<line x1="458.4" y1="333.2" x2="457.5" y2="335.6" stroke="#17368c" stroke-width="2.2"/>
<path d="M466.7 334.2 L464.1 341.6 Q463.6 343.0 462.1 342.9 L432.0 340.5 Q430.5 340.4 429.9 341.8 L421.7 359.5" fill="none" stroke="#2a5db4" stroke-width="1.8" stroke-linejoin="round" transform="translate(0.15,0.45)"/>
<path d="M466.7 334.2 L464.1 341.6 Q463.6 343.0 462.1 342.9 L432.0 340.5 Q430.5 340.4 429.9 341.8 L421.7 359.5" fill="none" stroke="#3b7ed0" stroke-width="1.8" stroke-linejoin="round" stroke-linecap="butt"/>
<line x1="466.7" y1="334.2" x2="465.8" y2="336.7" stroke="#17368c" stroke-width="2.2"/>
<path d="M475.5 334.9 L471.3 346.2 Q470.8 347.6 469.3 347.5 L452.2 346.7 Q450.7 346.6 450.1 348.0 L444.5 361.6" fill="none" stroke="#2a5db4" stroke-width="1.8" stroke-linejoin="round" transform="translate(0.15,0.45)"/>
<path d="M475.5 334.9 L471.3 346.2 Q470.8 347.6 469.3 347.5 L452.2 346.7 Q450.7 346.6 450.1 348.0 L444.5 361.6" fill="none" stroke="#3b7ed0" stroke-width="1.8" stroke-linejoin="round" stroke-linecap="butt"/>
<line x1="475.5" y1="334.9" x2="474.6" y2="337.3" stroke="#17368c" stroke-width="2.2"/>
<path d="M484.2 335.9 L480.0 349.9 Q479.6 351.3 478.1 351.3 L472.9 351.3 Q471.4 351.3 470.9 352.7 L467.2 363.1" fill="none" stroke="#2a5db4" stroke-width="1.8" stroke-linejoin="round" transform="translate(0.15,0.45)"/>
<path d="M484.2 335.9 L480.0 349.9 Q479.6 351.3 478.1 351.3 L472.9 351.3 Q471.4 351.3 470.9 352.7 L467.2 363.1" fill="none" stroke="#3b7ed0" stroke-width="1.8" stroke-linejoin="round" stroke-linecap="butt"/>
<line x1="484.2" y1="335.9" x2="483.5" y2="338.4" stroke="#17368c" stroke-width="2.2"/>
<path d="M492.2 336.7 L488.5 349.4 Q488.1 350.8 489.4 351.5 L491.6 352.8 Q492.9 353.5 492.6 355.0 L490.2 366.1" fill="none" stroke="#2a5db4" stroke-width="1.8" stroke-linejoin="round" transform="translate(0.15,0.45)"/>
<path d="M492.2 336.7 L488.5 349.4 Q488.1 350.8 489.4 351.5 L491.6 352.8 Q492.9 353.5 492.6 355.0 L490.2 366.1" fill="none" stroke="#3b7ed0" stroke-width="1.8" stroke-linejoin="round" stroke-linecap="butt"/>
<line x1="492.2" y1="336.7" x2="491.5" y2="339.2" stroke="#17368c" stroke-width="2.2"/>
<path d="M501.6 337.4 L498.4 348.1 Q498.0 349.5 499.5 349.8 L514.9 352.6 Q516.4 352.9 516.1 354.4 L513.0 367.5" fill="none" stroke="#2a5db4" stroke-width="1.8" stroke-linejoin="round" transform="translate(0.15,0.45)"/>
<path d="M501.6 337.4 L498.4 348.1 Q498.0 349.5 499.5 349.8 L514.9 352.6 Q516.4 352.9 516.1 354.4 L513.0 367.5" fill="none" stroke="#3b7ed0" stroke-width="1.8" stroke-linejoin="round" stroke-linecap="butt"/>
<line x1="501.6" y1="337.4" x2="500.9" y2="339.9" stroke="#17368c" stroke-width="2.2"/>
<path d="M510.0 338.0 L508.6 344.6 Q508.3 346.1 509.8 346.3 L539.1 350.0 Q540.6 350.2 540.3 351.7 L536.1 369.5" fill="none" stroke="#2a5db4" stroke-width="1.8" stroke-linejoin="round" transform="translate(0.15,0.45)"/>
<path d="M510.0 338.0 L508.6 344.6 Q508.3 346.1 509.8 346.3 L539.1 350.0 Q540.6 350.2 540.3 351.7 L536.1 369.5" fill="none" stroke="#3b7ed0" stroke-width="1.8" stroke-linejoin="round" stroke-linecap="butt"/>
<line x1="510.0" y1="338.0" x2="509.5" y2="340.5" stroke="#17368c" stroke-width="2.2"/>
<path d="M519.0 338.7 L518.6 341.9 Q518.4 343.4 519.9 343.6 L562.6 348.0 Q564.1 348.2 563.8 349.7 L558.7 371.5" fill="none" stroke="#2a5db4" stroke-width="1.8" stroke-linejoin="round" transform="translate(0.15,0.45)"/>
<path d="M519.0 338.7 L518.6 341.9 Q518.4 343.4 519.9 343.6 L562.6 348.0 Q564.1 348.2 563.8 349.7 L558.7 371.5" fill="none" stroke="#3b7ed0" stroke-width="1.8" stroke-linejoin="round" stroke-linecap="butt"/>
<line x1="519.0" y1="338.7" x2="518.7" y2="341.3" stroke="#17368c" stroke-width="2.2"/>
<path d="M636.4 348.8 L636.2 352.3 Q636.1 353.8 634.6 353.7 L588.9 350.2 Q587.4 350.1 587.1 351.6 L583.1 372.8" fill="none" stroke="#2a5db4" stroke-width="1.8" stroke-linejoin="round" transform="translate(0.15,0.45)"/>
<path d="M636.4 348.8 L636.2 352.3 Q636.1 353.8 634.6 353.7 L588.9 350.2 Q587.4 350.1 587.1 351.6 L583.1 372.8" fill="none" stroke="#3b7ed0" stroke-width="1.8" stroke-linejoin="round" stroke-linecap="butt"/>
<line x1="636.4" y1="348.8" x2="636.2" y2="351.4" stroke="#17368c" stroke-width="2.2"/>
<path d="M645.5 349.4 L644.8 357.3 Q644.7 358.8 643.2 358.7 L610.3 356.4 Q608.8 356.3 608.6 357.8 L606.0 375.4" fill="none" stroke="#2a5db4" stroke-width="1.8" stroke-linejoin="round" transform="translate(0.15,0.45)"/>
<path d="M645.5 349.4 L644.8 357.3 Q644.7 358.8 643.2 358.7 L610.3 356.4 Q608.8 356.3 608.6 357.8 L606.0 375.4" fill="none" stroke="#3b7ed0" stroke-width="1.8" stroke-linejoin="round" stroke-linecap="butt"/>
<line x1="645.5" y1="349.4" x2="645.3" y2="352.0" stroke="#17368c" stroke-width="2.2"/>
<path d="M654.7 350.1 L653.9 362.2 Q653.8 363.7 652.3 363.6 L633.0 362.6 Q631.5 362.5 631.4 364.0 L630.2 377.9" fill="none" stroke="#2a5db4" stroke-width="1.8" stroke-linejoin="round" transform="translate(0.15,0.45)"/>
<path d="M654.7 350.1 L653.9 362.2 Q653.8 363.7 652.3 363.6 L633.0 362.6 Q631.5 362.5 631.4 364.0 L630.2 377.9" fill="none" stroke="#3b7ed0" stroke-width="1.8" stroke-linejoin="round" stroke-linecap="butt"/>
<line x1="654.7" y1="350.1" x2="654.5" y2="352.7" stroke="#17368c" stroke-width="2.2"/>
<path d="M664.1 350.7 L663.5 365.3 Q663.4 366.8 661.9 366.9 L657.2 367.3 Q655.7 367.4 655.6 368.9 L654.4 380.4" fill="none" stroke="#2a5db4" stroke-width="1.8" stroke-linejoin="round" transform="translate(0.15,0.45)"/>
<path d="M664.1 350.7 L663.5 365.3 Q663.4 366.8 661.9 366.9 L657.2 367.3 Q655.7 367.4 655.6 368.9 L654.4 380.4" fill="none" stroke="#3b7ed0" stroke-width="1.8" stroke-linejoin="round" stroke-linecap="butt"/>
<line x1="664.1" y1="350.7" x2="664.0" y2="353.3" stroke="#17368c" stroke-width="2.2"/>
<path d="M673.1 352.0 L672.6 367.1 Q672.6 368.6 674.0 369.1 L677.3 370.1 Q678.7 370.6 678.7 372.1 L678.7 382.7" fill="none" stroke="#2a5db4" stroke-width="1.8" stroke-linejoin="round" transform="translate(0.15,0.45)"/>
<path d="M673.1 352.0 L672.6 367.1 Q672.6 368.6 674.0 369.1 L677.3 370.1 Q678.7 370.6 678.7 372.1 L678.7 382.7" fill="none" stroke="#3b7ed0" stroke-width="1.8" stroke-linejoin="round" stroke-linecap="butt"/>
<line x1="673.1" y1="352.0" x2="673.0" y2="354.6" stroke="#17368c" stroke-width="2.2"/>
<path d="M682.4 352.8 L682.1 364.7 Q682.1 366.2 683.6 366.4 L701.4 369.0 Q702.9 369.2 702.9 370.7 L702.9 384.2" fill="none" stroke="#2a5db4" stroke-width="1.8" stroke-linejoin="round" transform="translate(0.15,0.45)"/>
<path d="M682.4 352.8 L682.1 364.7 Q682.1 366.2 683.6 366.4 L701.4 369.0 Q702.9 369.2 702.9 370.7 L702.9 384.2" fill="none" stroke="#3b7ed0" stroke-width="1.8" stroke-linejoin="round" stroke-linecap="butt"/>
<line x1="682.4" y1="352.8" x2="682.3" y2="355.4" stroke="#17368c" stroke-width="2.2"/>
<path d="M691.7 353.5 L691.7 361.9 Q691.7 363.4 693.2 363.6 L725.5 367.1 Q727.0 367.3 727.0 368.8 L727.0 386.5" fill="none" stroke="#2a5db4" stroke-width="1.8" stroke-linejoin="round" transform="translate(0.15,0.45)"/>
<path d="M691.7 353.5 L691.7 361.9 Q691.7 363.4 693.2 363.6 L725.5 367.1 Q727.0 367.3 727.0 368.8 L727.0 386.5" fill="none" stroke="#3b7ed0" stroke-width="1.8" stroke-linejoin="round" stroke-linecap="butt"/>
<line x1="691.7" y1="353.5" x2="691.7" y2="356.1" stroke="#17368c" stroke-width="2.2"/>
<path d="M701.2 354.3 L701.2 358.1 Q701.2 359.6 702.7 359.7 L749.7 364.1 Q751.2 364.2 751.2 365.7 L751.9 388.3" fill="none" stroke="#2a5db4" stroke-width="1.8" stroke-linejoin="round" transform="translate(0.15,0.45)"/>
<path d="M701.2 354.3 L701.2 358.1 Q701.2 359.6 702.7 359.7 L749.7 364.1 Q751.2 364.2 751.2 365.7 L751.9 388.3" fill="none" stroke="#3b7ed0" stroke-width="1.8" stroke-linejoin="round" stroke-linecap="butt"/>
<line x1="701.2" y1="354.3" x2="701.2" y2="356.9" stroke="#17368c" stroke-width="2.2"/>
<path d="M334.5 298.5 L340.1 289.3 Q341.2 287.4 343.3 286.8 L343.9 286.6 Q346.0 286.0 348.2 286.2 L477.8 296.5 Q480.0 296.7 482.2 296.9 L639.1 308.3 Q641.3 308.5 643.1 307.3 L643.2 307.2 Q645.0 306.0 645.0 303.8 L645.0 295.0" fill="none" stroke="#2a5cae" stroke-width="2.5" stroke-linejoin="round" transform="translate(0.15,0.45)"/>
<path d="M334.5 298.5 L340.1 289.3 Q341.2 287.4 343.3 286.8 L343.9 286.6 Q346.0 286.0 348.2 286.2 L477.8 296.5 Q480.0 296.7 482.2 296.9 L639.1 308.3 Q641.3 308.5 643.1 307.3 L643.2 307.2 Q645.0 306.0 645.0 303.8 L645.0 295.0" fill="none" stroke="#3278cc" stroke-width="2.5" stroke-linejoin="round" stroke-linecap="butt"/>
<path d="M498.3 312.5 L499.2 307.4 Q499.6 305.2 501.2 305.1 L501.2 305.1 Q502.8 305.0 505.0 305.2 L651.5 316.2 Q653.7 316.4 655.5 315.1 L656.1 314.6 Q657.9 313.3 657.9 311.1 L657.9 297.0" fill="none" stroke="#2a5cae" stroke-width="2.5" stroke-linejoin="round" transform="translate(0.15,0.45)"/>
<path d="M498.3 312.5 L499.2 307.4 Q499.6 305.2 501.2 305.1 L501.2 305.1 Q502.8 305.0 505.0 305.2 L651.5 316.2 Q653.7 316.4 655.5 315.1 L656.1 314.6 Q657.9 313.3 657.9 311.1 L657.9 297.0" fill="none" stroke="#3278cc" stroke-width="2.5" stroke-linejoin="round" stroke-linecap="butt"/>
<path d="M671.3 298.0 L670.3 325.5" fill="none" stroke="#2a5cae" stroke-width="2.5" stroke-linejoin="round" transform="translate(0.15,0.45)"/>
<path d="M671.3 298.0 L670.3 325.5" fill="none" stroke="#3278cc" stroke-width="2.5" stroke-linejoin="round" stroke-linecap="butt"/>
<path d="M662.8 251.0 L662.8 264.5" fill="none" stroke="#3278cc" stroke-width="2.5" stroke-linejoin="round" stroke-linecap="butt"/>
<path d="M675.0 247.6 L719.7 250.8" fill="none" stroke="#3278cc" stroke-width="2.6" stroke-linejoin="round" stroke-linecap="butt"/>
<path d="M262.5 272.5 L268.7 263.5 Q270.7 260.6 270.7 257.1 L270.4 239.7 Q270.4 236.2 273.9 236.5 L346.5 243.0 Q350.0 243.3 353.5 243.6 L428.5 249.4" fill="none" stroke="#ef8a22" stroke-width="2.4" stroke-linejoin="round" stroke-linecap="butt"/>
<path d="M292.5 300.6 L284.1 298.5 Q280.2 297.5 280.1 293.5 L279.8 277.5 Q279.7 273.5 282.1 270.3 L287.6 262.7 Q290.0 259.5 294.0 259.8 L346.0 263.0 Q350.0 263.3 354.0 263.6 L429.6 270.1 Q433.6 270.4 433.7 266.4 L434.0 256.0" fill="none" stroke="#ef8a22" stroke-width="2.4" stroke-linejoin="round" stroke-linecap="butt"/>
<path d="M442.8 255.5 L437.9 277.6 Q437.1 281.0 437.1 284.5 L437.1 309.1 Q437.1 312.6 440.6 312.9 L455.0 314.3" fill="none" stroke="#ef8a22" stroke-width="2.4" stroke-linejoin="round" stroke-linecap="butt"/>
<path d="M451.9 254.5 L451.9 268.7 Q451.9 272.2 455.4 272.5 L593.4 283.7 Q596.9 284.0 596.7 287.5 L594.2 323.1 Q594.0 326.6 597.5 326.9 L631.6 329.4" fill="none" stroke="#ef8a22" stroke-width="2.4" stroke-linejoin="round" stroke-linecap="butt"/>
<path d="M458.7 250.0 L458.7 256.7 Q458.7 260.2 462.2 260.5 L628.8 272.6" fill="none" stroke="#ef8a22" stroke-width="2.4" stroke-linejoin="round" stroke-linecap="butt"/>
<path d="M464.4 240.5 L464.4 247.1 Q464.4 250.6 467.9 250.8 L616.7 261.3 Q620.2 261.5 620.2 258.0 L620.2 249.0" fill="none" stroke="#ef8a22" stroke-width="2.4" stroke-linejoin="round" stroke-linecap="butt"/>
<polygon points="286.3,311.8 354.4,317.8 353.7,320.4 284.6,314.3" fill="#e6eaf1"/>
<polygon points="284.6,313.2 353.7,319.3 353.7,320.4 284.6,314.3" fill="#b9c0cb" fill-opacity="0.6"/>
<polygon points="295.9,295.3 362.0,301.1 354.4,317.8 286.3,311.8" fill="url(#pcb1)"/>
<line x1="295.9" y1="295.3" x2="362.0" y2="301.1" stroke="#2a3a30" stroke-width="1.2"/>
<polygon points="290.5,307.0 294.9,307.4 292.3,311.8 287.9,311.5" fill="#5fcf72" fill-opacity="1"/>
<polygon points="291.7,305.0 296.0,305.4 294.9,307.4 290.5,307.0" fill="#1b5e2c" fill-opacity="1"/>
<polygon points="290.2,309.0 292.7,309.3 291.5,311.4 288.9,311.2" fill="#a6e8b0" fill-opacity="0.8"/>
<polygon points="296.7,307.5 301.1,307.9 298.6,312.4 294.2,312.0" fill="#5fcf72" fill-opacity="1"/>
<polygon points="297.8,305.5 302.2,305.9 301.1,307.9 296.7,307.5" fill="#1b5e2c" fill-opacity="1"/>
<polygon points="296.4,309.6 299.0,309.8 297.8,312.0 295.2,311.8" fill="#a6e8b0" fill-opacity="0.8"/>
<polygon points="302.9,308.1 307.3,308.5 304.9,312.9 300.4,312.6" fill="#5fcf72" fill-opacity="1"/>
<polygon points="304.0,306.1 308.4,306.5 307.3,308.5 302.9,308.1" fill="#1b5e2c" fill-opacity="1"/>
<polygon points="302.6,310.1 305.2,310.4 304.0,312.5 301.4,312.3" fill="#a6e8b0" fill-opacity="0.8"/>
<polygon points="309.1,308.6 313.5,309.0 311.1,313.5 306.7,313.1" fill="#5fcf72" fill-opacity="1"/>
<polygon points="310.2,306.6 314.6,307.0 313.5,309.0 309.1,308.6" fill="#1b5e2c" fill-opacity="1"/>
<polygon points="308.9,310.7 311.4,310.9 310.3,313.1 307.7,312.8" fill="#a6e8b0" fill-opacity="0.8"/>
<polygon points="315.4,309.2 319.7,309.6 317.4,314.0 313.0,313.7" fill="#5fcf72" fill-opacity="1"/>
<polygon points="316.4,307.2 320.8,307.6 319.7,309.6 315.4,309.2" fill="#1b5e2c" fill-opacity="1"/>
<polygon points="315.1,311.2 317.7,311.5 316.5,313.6 314.0,313.4" fill="#a6e8b0" fill-opacity="0.8"/>
<polygon points="301.8,297.2 306.4,297.6 304.7,300.6 300.1,300.2" fill="#c9d3cf" fill-opacity="1"/>
<polygon points="302.0,297.9 305.4,298.2 304.4,299.9 301.1,299.6" fill="#3c4a44" fill-opacity="1"/>
<polygon points="308.2,298.1 312.8,298.5 311.0,301.8 306.4,301.4" fill="#b8c4bf" fill-opacity="1"/>
<polygon points="308.5,298.8 311.8,299.1 310.7,301.1 307.4,300.8" fill="#2d3a35" fill-opacity="1"/>
<polygon points="296.4,301.6 299.1,301.8 297.6,304.5 294.9,304.2" fill="#165226" fill-opacity="0.9"/>
<polygon points="296.4,302.3 297.7,302.4 297.0,303.7 295.6,303.6" fill="#caa86a" fill-opacity="0.8"/>
<polygon points="302.5,302.1 305.1,302.4 303.6,305.0 301.0,304.8" fill="#165226" fill-opacity="0.9"/>
<polygon points="302.4,302.8 303.8,302.9 303.0,304.3 301.7,304.1" fill="#caa86a" fill-opacity="0.8"/>
<polygon points="308.5,302.6 311.1,302.9 309.7,305.5 307.0,305.3" fill="#165226" fill-opacity="0.9"/>
<polygon points="308.4,303.3 309.8,303.5 309.0,304.8 307.7,304.7" fill="#caa86a" fill-opacity="0.8"/>
<polygon points="314.5,303.2 317.2,303.4 315.7,306.1 313.0,305.8" fill="#165226" fill-opacity="0.9"/>
<polygon points="314.5,303.9 315.8,304.0 315.1,305.3 313.7,305.2" fill="#caa86a" fill-opacity="0.8"/>
<polygon points="320.5,303.7 323.2,303.9 321.8,306.6 319.1,306.4" fill="#165226" fill-opacity="0.9"/>
<polygon points="320.5,304.4 321.8,304.5 321.1,305.8 319.8,305.7" fill="#caa86a" fill-opacity="0.8"/>
<polygon points="314.3,299.7 328.9,301.0 328.4,302.0 313.7,300.7" fill="#18572a" fill-opacity="0.8"/>
<polygon points="333.1,300.3 334.9,300.8 325.3,311.4 323.4,310.9" fill="#1d2420"/>
<polygon points="337.0,299.9 353.6,301.4 351.7,305.4 335.0,303.9" fill="#6fd482" fill-opacity="1"/>
<polygon points="337.0,299.9 353.6,301.4 353.1,302.4 336.5,300.9" fill="#2f8f45" fill-opacity="1"/>
<polygon points="336.9,301.5 337.7,301.6 337.0,303.1 336.2,303.0" fill="#2f8f45" fill-opacity="0.8"/>
<polygon points="338.9,301.7 339.7,301.7 339.0,303.2 338.2,303.2" fill="#2f8f45" fill-opacity="0.8"/>
<polygon points="340.9,301.8 341.7,301.9 341.0,303.4 340.2,303.4" fill="#2f8f45" fill-opacity="0.8"/>
<polygon points="342.9,302.0 343.7,302.1 343.0,303.6 342.2,303.5" fill="#2f8f45" fill-opacity="0.8"/>
<polygon points="344.9,302.2 345.7,302.3 345.0,303.8 344.2,303.7" fill="#2f8f45" fill-opacity="0.8"/>
<polygon points="346.9,302.4 347.7,302.4 347.0,303.9 346.2,303.9" fill="#2f8f45" fill-opacity="0.8"/>
<polygon points="348.9,302.6 349.7,302.6 349.0,304.1 348.2,304.1" fill="#2f8f45" fill-opacity="0.8"/>
<polygon points="350.9,302.7 351.7,302.8 351.0,304.3 350.2,304.2" fill="#2f8f45" fill-opacity="0.8"/>
<polygon points="336.5,305.1 349.9,306.3 349.0,308.3 335.5,307.1" fill="#1a5c2c" fill-opacity="0.9"/>
<polygon points="333.7,308.7 347.8,309.9 346.2,313.3 332.0,312.0" fill="#0f3a1c" fill-opacity="1"/>
<polygon points="334.1,309.3 346.9,310.4 345.8,312.7 333.0,311.6" fill="#a6d23a" fill-opacity="1"/>
<polygon points="330.3,309.1 332.4,309.3 330.9,312.3 328.8,312.1" fill="#d8e4dc" fill-opacity="0.8"/>
<polygon points="330.4,313.3 348.7,314.9 347.9,316.5 329.5,314.9" fill="#47b25c" fill-opacity="0.9"/>
<circle cx="350.6" cy="311.6" r="1.3" fill="#2d7fe0"/>
<circle cx="355.4" cy="305.7" r="0.8" fill="#123"/>
<line x1="295.5" y1="293.8" x2="282.3" y2="316.5" stroke="#3b2a29" stroke-width="2.6" stroke-linecap="round"/>
<line x1="364.0" y1="300.2" x2="353.6" y2="322.8" stroke="#4a3330" stroke-width="3.4" stroke-linecap="round"/>
<line x1="365.2" y1="299.9" x2="354.8" y2="322.8" stroke="#2a1c1c" stroke-width="1.2" stroke-linecap="round"/>
<polygon points="453.4,326.2 525.3,332.8 525.1,335.5 452.4,328.7" fill="#e6eaf1"/>
<polygon points="452.4,327.6 525.1,334.4 525.1,335.5 452.4,328.7" fill="#b9c0cb" fill-opacity="0.6"/>
<polygon points="459.1,309.1 529.8,315.2 525.3,332.8 453.4,326.2" fill="url(#pcb2)"/>
<line x1="459.1" y1="309.1" x2="529.8" y2="315.2" stroke="#2a3a30" stroke-width="1.2"/>
<polygon points="456.6,321.2 461.2,321.6 459.7,326.2 455.0,325.8" fill="#5fcf72" fill-opacity="1"/>
<polygon points="457.3,319.1 461.9,319.6 461.2,321.6 456.6,321.2" fill="#1b5e2c" fill-opacity="1"/>
<polygon points="456.8,323.3 459.5,323.6 458.7,325.8 456.0,325.5" fill="#a6e8b0" fill-opacity="0.8"/>
<polygon points="463.2,321.8 467.8,322.2 466.3,326.8 461.7,326.4" fill="#5fcf72" fill-opacity="1"/>
<polygon points="463.8,319.7 468.5,320.1 467.8,322.2 463.2,321.8" fill="#1b5e2c" fill-opacity="1"/>
<polygon points="463.3,323.9 466.1,324.2 465.4,326.4 462.6,326.1" fill="#a6e8b0" fill-opacity="0.8"/>
<polygon points="469.7,322.4 474.4,322.8 472.9,327.4 468.3,327.0" fill="#5fcf72" fill-opacity="1"/>
<polygon points="470.4,320.3 475.0,320.7 474.4,322.8 469.7,322.4" fill="#1b5e2c" fill-opacity="1"/>
<polygon points="469.9,324.5 472.7,324.8 472.0,327.0 469.2,326.7" fill="#a6e8b0" fill-opacity="0.8"/>
<polygon points="476.3,323.0 481.0,323.4 479.5,328.0 474.9,327.6" fill="#5fcf72" fill-opacity="1"/>
<polygon points="477.0,320.9 481.6,321.3 481.0,323.4 476.3,323.0" fill="#1b5e2c" fill-opacity="1"/>
<polygon points="476.5,325.1 479.3,325.4 478.6,327.6 475.8,327.4" fill="#a6e8b0" fill-opacity="0.8"/>
<polygon points="482.9,323.6 487.5,324.0 486.1,328.6 481.5,328.2" fill="#5fcf72" fill-opacity="1"/>
<polygon points="483.5,321.5 488.2,321.9 487.5,324.0 482.9,323.6" fill="#1b5e2c" fill-opacity="1"/>
<polygon points="483.1,325.7 485.8,326.0 485.2,328.2 482.4,328.0" fill="#a6e8b0" fill-opacity="0.8"/>
<polygon points="465.8,311.1 470.7,311.5 469.7,314.6 464.7,314.2" fill="#c9d3cf" fill-opacity="1"/>
<polygon points="466.2,311.8 469.8,312.1 469.2,313.9 465.7,313.5" fill="#3c4a44" fill-opacity="1"/>
<polygon points="472.7,312.0 477.7,312.5 476.6,315.9 471.6,315.5" fill="#b8c4bf" fill-opacity="1"/>
<polygon points="473.2,312.8 476.8,313.1 476.1,315.2 472.6,314.8" fill="#2d3a35" fill-opacity="1"/>
<polygon points="461.3,315.6 464.2,315.9 463.3,318.6 460.4,318.4" fill="#165226" fill-opacity="0.9"/>
<polygon points="461.5,316.3 462.9,316.5 462.5,317.8 461.0,317.7" fill="#caa86a" fill-opacity="0.8"/>
<polygon points="467.7,316.2 470.6,316.4 469.7,319.2 466.9,318.9" fill="#165226" fill-opacity="0.9"/>
<polygon points="467.9,316.9 469.3,317.0 468.9,318.4 467.4,318.3" fill="#caa86a" fill-opacity="0.8"/>
<polygon points="474.1,316.8 477.0,317.0 476.1,319.8 473.3,319.5" fill="#165226" fill-opacity="0.9"/>
<polygon points="474.3,317.5 475.7,317.6 475.3,319.0 473.9,318.9" fill="#caa86a" fill-opacity="0.8"/>
<polygon points="480.6,317.3 483.4,317.6 482.6,320.3 479.7,320.1" fill="#165226" fill-opacity="0.9"/>
<polygon points="480.7,318.0 482.1,318.2 481.7,319.5 480.3,319.4" fill="#caa86a" fill-opacity="0.8"/>
<polygon points="487.0,317.9 489.8,318.1 489.0,320.9 486.1,320.6" fill="#165226" fill-opacity="0.9"/>
<polygon points="487.1,318.6 488.5,318.7 488.1,320.1 486.7,320.0" fill="#caa86a" fill-opacity="0.8"/>
<polygon points="479.5,313.7 495.1,315.0 494.8,316.1 479.2,314.7" fill="#18572a" fill-opacity="0.8"/>
<polygon points="499.3,314.3 501.3,314.9 493.7,326.0 491.7,325.4" fill="#1d2420"/>
<polygon points="503.4,314.0 521.1,315.5 520.0,319.7 502.2,318.2" fill="#6fd482" fill-opacity="1"/>
<polygon points="503.4,314.0 521.1,315.5 520.8,316.6 503.1,315.0" fill="#2f8f45" fill-opacity="1"/>
<polygon points="503.6,315.6 504.5,315.7 504.0,317.2 503.2,317.2" fill="#2f8f45" fill-opacity="0.8"/>
<polygon points="505.8,315.8 506.6,315.9 506.2,317.4 505.3,317.4" fill="#2f8f45" fill-opacity="0.8"/>
<polygon points="507.9,316.0 508.7,316.0 508.3,317.6 507.5,317.5" fill="#2f8f45" fill-opacity="0.8"/>
<polygon points="510.0,316.2 510.9,316.2 510.4,317.8 509.6,317.7" fill="#2f8f45" fill-opacity="0.8"/>
<polygon points="512.1,316.3 513.0,316.4 512.6,318.0 511.7,317.9" fill="#2f8f45" fill-opacity="0.8"/>
<polygon points="514.3,316.5 515.1,316.6 514.7,318.2 513.8,318.1" fill="#2f8f45" fill-opacity="0.8"/>
<polygon points="516.4,316.7 517.2,316.8 516.8,318.4 516.0,318.3" fill="#2f8f45" fill-opacity="0.8"/>
<polygon points="518.5,316.9 519.4,317.0 519.0,318.5 518.1,318.5" fill="#2f8f45" fill-opacity="0.8"/>
<polygon points="504.0,319.4 518.2,320.6 517.7,322.7 503.4,321.5" fill="#1a5c2c" fill-opacity="0.9"/>
<polygon points="501.9,323.1 516.9,324.5 515.9,328.0 500.9,326.6" fill="#0f3a1c" fill-opacity="1"/>
<polygon points="502.4,323.7 516.0,324.9 515.3,327.4 501.7,326.1" fill="#a6d23a" fill-opacity="1"/>
<polygon points="498.5,323.5 500.6,323.7 499.7,326.9 497.6,326.7" fill="#d8e4dc" fill-opacity="0.8"/>
<polygon points="499.4,327.9 518.8,329.7 518.3,331.4 498.9,329.6" fill="#47b25c" fill-opacity="0.9"/>
<circle cx="520.1" cy="326.2" r="1.3" fill="#2d7fe0"/>
<circle cx="523.9" cy="320.0" r="0.8" fill="#123"/>
<line x1="458.4" y1="307.6" x2="450.6" y2="331.0" stroke="#3b2a29" stroke-width="2.6" stroke-linecap="round"/>
<line x1="531.6" y1="314.2" x2="525.4" y2="338.0" stroke="#4a3330" stroke-width="3.4" stroke-linecap="round"/>
<line x1="532.8" y1="313.9" x2="526.6" y2="338.0" stroke="#2a1c1c" stroke-width="1.2" stroke-linecap="round"/>
<polygon points="631.2,342.3 707.1,348.7 707.5,351.5 630.6,345.0" fill="#e6eaf1"/>
<polygon points="630.6,343.9 707.5,350.4 707.5,351.5 630.6,345.0" fill="#b9c0cb" fill-opacity="0.6"/>
<polygon points="633.5,324.1 707.7,330.2 707.1,348.7 631.2,342.3" fill="url(#pcb3)"/>
<line x1="633.5" y1="324.1" x2="707.7" y2="330.2" stroke="#2a3a30" stroke-width="1.2"/>
<polygon points="633.4,336.9 638.3,337.4 637.7,342.3 632.8,341.9" fill="#5fcf72" fill-opacity="1"/>
<polygon points="633.7,334.8 638.5,335.2 638.3,337.4 633.4,336.9" fill="#1b5e2c" fill-opacity="1"/>
<polygon points="634.0,339.2 636.9,339.4 636.6,341.8 633.7,341.6" fill="#a6e8b0" fill-opacity="0.8"/>
<polygon points="640.3,337.5 645.2,337.9 644.7,342.9 639.7,342.4" fill="#5fcf72" fill-opacity="1"/>
<polygon points="640.6,335.3 645.5,335.7 645.2,337.9 640.3,337.5" fill="#1b5e2c" fill-opacity="1"/>
<polygon points="641.0,339.8 643.8,340.0 643.6,342.4 640.7,342.2" fill="#a6e8b0" fill-opacity="0.8"/>
<polygon points="647.2,338.1 652.1,338.5 651.6,343.5 646.7,343.0" fill="#5fcf72" fill-opacity="1"/>
<polygon points="647.5,335.9 652.4,336.3 652.1,338.5 647.2,338.1" fill="#1b5e2c" fill-opacity="1"/>
<polygon points="647.9,340.4 650.8,340.6 650.5,343.0 647.7,342.7" fill="#a6e8b0" fill-opacity="0.8"/>
<polygon points="654.2,338.7 659.1,339.1 658.6,344.0 653.7,343.6" fill="#5fcf72" fill-opacity="1"/>
<polygon points="654.4,336.5 659.3,336.9 659.1,339.1 654.2,338.7" fill="#1b5e2c" fill-opacity="1"/>
<polygon points="654.9,341.0 657.7,341.2 657.5,343.6 654.6,343.3" fill="#a6e8b0" fill-opacity="0.8"/>
<polygon points="661.1,339.3 666.0,339.7 665.6,344.6 660.7,344.2" fill="#5fcf72" fill-opacity="1"/>
<polygon points="661.3,337.1 666.2,337.5 666.0,339.7 661.1,339.3" fill="#1b5e2c" fill-opacity="1"/>
<polygon points="661.8,341.5 664.7,341.8 664.5,344.2 661.6,343.9" fill="#a6e8b0" fill-opacity="0.8"/>
<polygon points="640.7,326.2 645.9,326.6 645.6,329.9 640.4,329.4" fill="#c9d3cf" fill-opacity="1"/>
<polygon points="641.4,326.9 645.1,327.3 644.9,329.1 641.2,328.8" fill="#3c4a44" fill-opacity="1"/>
<polygon points="648.1,327.1 653.3,327.6 653.0,331.2 647.7,330.8" fill="#b8c4bf" fill-opacity="1"/>
<polygon points="648.8,327.9 652.5,328.2 652.3,330.4 648.6,330.1" fill="#2d3a35" fill-opacity="1"/>
<polygon points="637.2,331.0 640.1,331.3 639.8,334.2 636.8,333.9" fill="#165226" fill-opacity="0.9"/>
<polygon points="637.4,331.8 638.9,331.9 638.8,333.3 637.3,333.2" fill="#caa86a" fill-opacity="0.8"/>
<polygon points="643.9,331.6 646.9,331.8 646.6,334.7 643.5,334.5" fill="#165226" fill-opacity="0.9"/>
<polygon points="644.2,332.3 645.7,332.5 645.5,333.9 644.0,333.8" fill="#caa86a" fill-opacity="0.8"/>
<polygon points="650.6,332.1 653.6,332.4 653.3,335.3 650.3,335.0" fill="#165226" fill-opacity="0.9"/>
<polygon points="650.9,332.9 652.4,333.0 652.3,334.5 650.8,334.3" fill="#caa86a" fill-opacity="0.8"/>
<polygon points="657.3,332.7 660.3,332.9 660.1,335.9 657.1,335.6" fill="#165226" fill-opacity="0.9"/>
<polygon points="657.6,333.4 659.1,333.6 659.0,335.0 657.5,334.9" fill="#caa86a" fill-opacity="0.8"/>
<polygon points="664.1,333.2 667.1,333.5 666.8,336.4 663.8,336.2" fill="#165226" fill-opacity="0.9"/>
<polygon points="664.4,334.0 665.9,334.1 665.8,335.6 664.3,335.5" fill="#caa86a" fill-opacity="0.8"/>
<polygon points="655.5,328.8 671.8,330.2 671.8,331.3 655.4,329.9" fill="#18572a" fill-opacity="0.8"/>
<polygon points="676.0,329.4 678.2,330.0 672.8,341.7 670.6,341.2" fill="#1d2420"/>
<polygon points="680.1,329.0 698.7,330.5 698.5,335.0 679.9,333.4" fill="#6fd482" fill-opacity="1"/>
<polygon points="680.1,329.0 698.7,330.5 698.7,331.7 680.1,330.1" fill="#2f8f45" fill-opacity="1"/>
<polygon points="680.8,330.7 681.7,330.8 681.6,332.5 680.7,332.4" fill="#2f8f45" fill-opacity="0.8"/>
<polygon points="683.0,330.9 683.9,331.0 683.8,332.7 682.9,332.6" fill="#2f8f45" fill-opacity="0.8"/>
<polygon points="685.2,331.1 686.1,331.2 686.0,332.8 685.1,332.8" fill="#2f8f45" fill-opacity="0.8"/>
<polygon points="687.5,331.3 688.4,331.4 688.3,333.0 687.4,332.9" fill="#2f8f45" fill-opacity="0.8"/>
<polygon points="689.7,331.5 690.6,331.5 690.5,333.2 689.6,333.1" fill="#2f8f45" fill-opacity="0.8"/>
<polygon points="691.9,331.7 692.8,331.7 692.8,333.4 691.9,333.3" fill="#2f8f45" fill-opacity="0.8"/>
<polygon points="694.2,331.8 695.1,331.9 695.0,333.6 694.1,333.5" fill="#2f8f45" fill-opacity="0.8"/>
<polygon points="696.4,332.0 697.3,332.1 697.2,333.8 696.3,333.7" fill="#2f8f45" fill-opacity="0.8"/>
<polygon points="682.0,334.7 697.0,336.0 696.9,338.2 681.9,336.9" fill="#1a5c2c" fill-opacity="0.9"/>
<polygon points="680.6,338.7 696.4,340.0 696.3,343.7 680.4,342.4" fill="#0f3a1c" fill-opacity="1"/>
<polygon points="681.4,339.3 695.6,340.5 695.5,343.1 681.2,341.9" fill="#a6d23a" fill-opacity="1"/>
<polygon points="677.2,339.1 679.5,339.3 679.2,342.6 677.0,342.5" fill="#d8e4dc" fill-opacity="0.8"/>
<polygon points="679.2,343.7 699.6,345.5 699.5,347.3 679.0,345.6" fill="#47b25c" fill-opacity="0.9"/>
<circle cx="700.1" cy="341.8" r="1.3" fill="#2d7fe0"/>
<circle cx="702.6" cy="335.3" r="0.8" fill="#123"/>
<line x1="632.5" y1="322.5" x2="629.3" y2="347.4" stroke="#3b2a29" stroke-width="2.6" stroke-linecap="round"/>
<line x1="709.1" y1="329.1" x2="708.3" y2="354.2" stroke="#4a3330" stroke-width="3.4" stroke-linecap="round"/>
<line x1="710.3" y1="328.8" x2="709.5" y2="354.2" stroke="#2a1c1c" stroke-width="1.2" stroke-linecap="round"/>
<polygon points="454.4,174.9 465.3,153.0 467.8,236.0 456.1,255.9" fill="url(#cside)"/>
<line x1="458.2" y1="167.2" x2="460.2" y2="248.9" stroke="#241a1a" stroke-width="0.9"/>
<line x1="461.2" y1="161.3" x2="463.4" y2="243.6" stroke="#241a1a" stroke-width="0.9"/>
<polygon points="434.9,151.2 465.3,153.0 454.4,174.9 423.7,171.9" fill="url(#ctop)"/>
<polygon points="423.7,171.9 454.4,174.9 456.1,255.9 425.5,253.4" fill="url(#cfront)"/>
<polyline points="423.9,172.2 454.4,175.2" fill="none" stroke="#c4b6b4" stroke-width="0.7" stroke-opacity="0.8"/>
<line x1="424.2" y1="172" x2="425.9" y2="253.2" stroke="#7d6c6c" stroke-width="1"/>
<polygon points="436.0,175.9 444.0,176.7 444.4,193.0 436.4,192.2" fill="#8a7a62" fill-opacity="0.6"/>
<polygon points="436.7,176.4 439.7,176.7 439.8,177.9 436.7,177.6" fill="#e8b020" fill-opacity="1"/>
<polygon points="440.7,176.8 443.7,177.1 443.8,178.3 440.7,178.0" fill="#e0a21a" fill-opacity="1"/>
<polygon points="436.7,178.4 439.8,178.7 439.8,179.9 436.7,179.6" fill="#e8b020" fill-opacity="1"/>
<polygon points="440.7,178.7 443.8,179.0 443.8,180.3 440.7,180.0" fill="#e0a21a" fill-opacity="1"/>
<polygon points="436.7,180.3 439.8,180.6 439.8,181.8 436.8,181.5" fill="#e8b020" fill-opacity="1"/>
<polygon points="440.7,180.7 443.8,181.0 443.8,182.2 440.8,181.9" fill="#e0a21a" fill-opacity="1"/>
<polygon points="436.8,182.3 439.9,182.6 439.9,183.8 436.8,183.5" fill="#e8b020" fill-opacity="1"/>
<polygon points="440.8,182.6 443.8,182.9 443.9,184.2 440.8,183.9" fill="#e0a21a" fill-opacity="1"/>
<polygon points="436.8,184.2 439.9,184.5 439.9,185.7 436.9,185.4" fill="#e8b020" fill-opacity="1"/>
<polygon points="440.8,184.6 443.9,184.9 443.9,186.1 440.8,185.8" fill="#e0a21a" fill-opacity="1"/>
<polygon points="436.9,186.2 439.9,186.5 440.0,187.7 436.9,187.4" fill="#e8b020" fill-opacity="1"/>
<polygon points="440.9,186.5 443.9,186.8 444.0,188.1 440.9,187.8" fill="#e0a21a" fill-opacity="1"/>
<polygon points="436.9,188.1 440.0,188.4 440.0,189.6 436.9,189.3" fill="#e8b020" fill-opacity="1"/>
<polygon points="440.9,188.5 444.0,188.8 444.0,190.0 440.9,189.7" fill="#e0a21a" fill-opacity="1"/>
<polygon points="437.0,190.1 440.0,190.4 440.1,191.6 437.0,191.3" fill="#e8b020" fill-opacity="1"/>
<polygon points="440.9,190.4 444.0,190.7 444.0,192.0 441.0,191.7" fill="#e0a21a" fill-opacity="1"/>
<polygon points="434.3,194.4 445.6,195.5 446.1,217.8 434.8,216.8" fill="#3f9c2e" fill-opacity="1"/>
<polygon points="435.2,195.7 444.8,196.6 445.2,216.1 435.7,215.3" fill="#52b43a" fill-opacity="1"/>
<polygon points="436.5,196.7 443.5,197.3 443.6,200.2 436.6,199.5" fill="#2f7f24" fill-opacity="1"/>
<polygon points="436.6,201.4 443.6,202.0 443.7,204.9 436.7,204.2" fill="#2f7f24" fill-opacity="1"/>
<polygon points="436.7,206.1 443.7,206.8 443.8,209.6 436.8,209.0" fill="#2f7f24" fill-opacity="1"/>
<polygon points="436.8,210.8 443.8,211.5 443.9,214.3 436.9,213.7" fill="#2f7f24" fill-opacity="1"/>
<polygon points="434.3,194.4 435.5,194.6 436.0,216.9 434.8,216.8" fill="#2d7a22" fill-opacity="1"/>
<polygon points="432.7,219.3 439.7,219.9 439.9,228.9 432.9,228.3" fill="#d6ccca" fill-opacity="0.9"/>
<polygon points="433.3,220.3 439.2,220.9 439.3,227.8 433.5,227.3" fill="#1e1b1c" fill-opacity="1"/>
<polygon points="435.0,224.9 437.7,225.2 437.8,227.6 435.0,227.4" fill="#4a4444" fill-opacity="1"/>
<polygon points="440.1,220.0 447.1,220.6 447.3,229.5 440.2,228.9" fill="#d6ccca" fill-opacity="0.9"/>
<polygon points="440.7,221.0 446.5,221.5 446.7,228.4 440.8,227.9" fill="#1e1b1c" fill-opacity="1"/>
<polygon points="442.3,225.6 445.1,225.8 445.1,228.3 442.4,228.0" fill="#4a4444" fill-opacity="1"/>
<polygon points="432.9,228.7 439.9,229.3 440.1,238.2 433.1,237.6" fill="#d6ccca" fill-opacity="0.9"/>
<polygon points="433.5,229.7 439.4,230.2 439.5,237.1 433.7,236.6" fill="#1e1b1c" fill-opacity="1"/>
<polygon points="435.2,234.3 437.9,234.5 438.0,237.0 435.2,236.7" fill="#4a4444" fill-opacity="1"/>
<polygon points="440.3,229.3 447.3,229.9 447.5,238.8 440.4,238.2" fill="#d6ccca" fill-opacity="0.9"/>
<polygon points="440.9,230.3 446.7,230.8 446.9,237.7 441.0,237.2" fill="#1e1b1c" fill-opacity="1"/>
<polygon points="442.5,234.9 445.3,235.2 445.3,237.6 442.6,237.4" fill="#4a4444" fill-opacity="1"/>
<polygon points="429.8,239.9 436.5,240.5 436.8,253.1 430.1,252.6" fill="#c9c4c8" fill-opacity="1"/>
<polygon points="430.7,241.2 435.6,241.6 435.9,251.8 431.0,251.4" fill="#2f64b8" fill-opacity="1"/>
<polygon points="431.7,242.9 434.7,243.2 434.9,250.1 431.8,249.9" fill="#6f98d8" fill-opacity="1"/>
<polygon points="440.5,242.9 443.3,243.1 443.4,250.0 440.7,249.8" fill="#ddd6d6" fill-opacity="1"/>
<polygon points="441.0,243.7 442.9,243.9 443.0,249.2 441.1,249.0" fill="#2a2626" fill-opacity="1"/>
<polygon points="444.8,243.2 447.6,243.5 447.7,250.4 445.0,250.1" fill="#ddd6d6" fill-opacity="1"/>
<polygon points="445.3,244.1 447.1,244.2 447.3,249.5 445.4,249.4" fill="#2a2626" fill-opacity="1"/>
<circle cx="425.9" cy="176.2" r="0.8" fill="#3a2c2c"/>
<circle cx="426.7" cy="211.2" r="0.8" fill="#3a2c2c"/>
<circle cx="427.5" cy="247.9" r="0.8" fill="#3a2c2c"/>
<circle cx="452.3" cy="178.7" r="0.8" fill="#3a2c2c"/>
<circle cx="453.9" cy="251.7" r="0.8" fill="#3a2c2c"/>
<polygon points="252.6,277.5 262.0,262.7 263.3,289.6 253.1,303.0" fill="#8d9195"/>
<polygon points="252.6,277.5 262.0,262.7 262.3,268.5 252.8,283.6" fill="#a4a8ac"/>
<polygon points="253.0,284.5 255.2,281.0 255.8,299.5 253.2,303.0" fill="#7e8286"/>
<polygon points="195.6,274.8 252.6,277.5 253.1,303.0 198.8,299.0" fill="url(#wfront)"/>
<polygon points="195.6,274.8 252.6,277.5 252.8,283.6 196.4,280.6" fill="#d9dbdd"/>
<line x1="196.4" y1="280.8" x2="252.8" y2="283.8" stroke="#9a9ea2" stroke-width="0.8"/>
<polygon points="208.2,260.0 262.0,262.7 252.6,277.5 195.6,274.8" fill="#b9bcbf"/>
<polygon points="210.2,262.2 258.0,264.6 250.8,275.4 200.2,273.0" fill="#8f9397"/>
<polygon points="213.0,263.8 258.0,264.6 250.8,275.4 203.5,273.2" fill="#9a9ea1"/>
<line x1="223.3" y1="265.5" x2="217.2" y2="209" stroke="#a6aaae" stroke-width="1.6"/>
<ellipse cx="223.4" cy="266.4" rx="2" ry="0.9" fill="#6f7377"/>
<path d="M217.3 210 L215.4 209 Q212.3 208.6 211.6 205 L209.4 193" fill="none" stroke="#a6aaae" stroke-width="1.3"/>
<path d="M217.3 210 L216.2 208.4 L221.9 200 L221.6 188.6" fill="none" stroke="#a6aaae" stroke-width="1.4"/>
<line x1="215.4" y1="187.8" x2="237.5" y2="187.8" stroke="#c3c7cb" stroke-width="1"/>
<rect x="215.4" y="186.4" width="7.8" height="2.8" fill="#c9ccd0"/>
<rect x="220.4" y="186.0" width="2.4" height="3.8" fill="#aeb2b6"/>
<path d="M237.0 183.2 L242.2 183.2 L242.8 191.6 L237.6 191.6 Z" fill="#cfd2d6"/>
<circle cx="205.4" cy="196.6" r="1.9" fill="#f2f4f7" stroke="#b4b8bc" stroke-width="0.8"/>
<line x1="207" y1="196" x2="211" y2="195.2" stroke="#a6aaae" stroke-width="0.9"/>
<circle cx="212.6" cy="196.6" r="1.9" fill="#55595d"/>
<line x1="219.9" y1="223.6" x2="207.8" y2="236.2" stroke="#8e9296" stroke-width="2.0"/>
<line x1="230.0" y1="231.6" x2="213.9" y2="245.6" stroke="#8e9296" stroke-width="2.0"/>
<line x1="230.2" y1="230.6" x2="214.0" y2="244.6" stroke="#b9bcc0" stroke-width="0.7"/>
<path d="M210.7 223.0 L210.7 229.2 Q212.9 231.0 215.2 229.0 L215.2 222.8" fill="#e6e9ec" stroke="#a3a7ab" stroke-width="0.9"/>
<path d="M210.7 240.6 L210.7 247.2 Q212.9 249.2 215.2 247.2 L215.2 240.4 Z" fill="#dfe2e5" stroke="#9a9ea2" stroke-width="0.9"/>
<line x1="226.1" y1="225.4" x2="226.1" y2="232.4" stroke="#c3c7cb" stroke-width="1.4"/>
<ellipse cx="203.9" cy="238.2" rx="4.1" ry="2.7" fill="#f1f3f5" stroke="#a6aaae" stroke-width="1.0"/>
<ellipse cx="203.6" cy="238.6" rx="2.2" ry="1.3" fill="#fbfcfd"/>
<polygon points="611.3,216.2 675.8,220.3 673.8,251.2 610.8,247.6" fill="#f1f1f2" stroke="#ee8a22" stroke-width="2.0" stroke-linejoin="miter"/>
<polygon points="624.2,292.9 694.5,299.2 694.5,300.8 624.0,294.4" fill="#27498a"/>
<polygon points="629.0,262.3 695.5,267.1 694.5,299.2 624.2,292.9" fill="url(#inv)"/>
<line x1="634.6" y1="289.6" x2="687.0" y2="270.8" stroke="#eef3fb" stroke-width="1.3" stroke-linecap="round"/>
<path d="M637.5 270.6 C642 266.0 647 266.8 650.5 271.6 C654 276.6 659 277.2 663.8 273.0" fill="none" stroke="#eef3fb" stroke-width="1.3" stroke-linecap="round"/>
<line x1="656.5" y1="287.4" x2="686" y2="289.6" stroke="#eef3fb" stroke-width="1.4"/>
<line x1="656.5" y1="290.6" x2="668.5" y2="291.4" stroke="#eef3fb" stroke-width="1.4"/><line x1="674.5" y1="291.9" x2="686" y2="292.8" stroke="#eef3fb" stroke-width="1.4"/>
<line x1="688.8" y1="169.0" x2="684.8" y2="226.6" stroke="#5b86c6" stroke-width="0.9"/>
<line x1="707.6" y1="170.3" x2="704.9" y2="229.9" stroke="#5b86c6" stroke-width="0.9"/>
<line x1="742.0" y1="171.6" x2="743.0" y2="233.4" stroke="#5b86c6" stroke-width="0.9"/>
<line x1="760.7" y1="173.0" x2="763.4" y2="233.4" stroke="#5b86c6" stroke-width="0.9"/>
<path d="M727.4 147.2 L712.6 252.0 M729.8 147.2 L728.6 252.8" stroke="#8d9296" stroke-width="1.1" fill="none"/>
<line x1="728.8" y1="148" x2="722.5" y2="249.5" stroke="#a3a7ab" stroke-width="0.8"/>
<path d="M727.4 147.2 L729.8 147.2 M726.9 150.8 L729.8 150.8 M727.4 147.2 L729.8 150.8 M729.8 147.2 L726.9 150.8 M726.2 155.6 L729.7 155.7 M726.9 150.8 L729.7 155.7 M729.8 150.8 L726.2 155.6 M725.4 161.2 L729.6 161.3 M726.2 155.6 L729.6 161.3 M729.7 155.7 L725.4 161.2 M724.6 167.3 L729.6 167.4 M725.4 161.2 L729.6 167.4 M729.6 161.3 L724.6 167.3 M723.7 173.7 L729.5 173.9 M724.6 167.3 L729.5 173.9 M729.6 167.4 L723.7 173.7 M722.7 180.5 L729.4 180.8 M723.7 173.7 L729.4 180.8 M729.5 173.9 L722.7 180.5 M721.7 187.6 L729.3 187.9 M722.7 180.5 L729.3 187.9 M729.4 180.8 L721.7 187.6 M720.7 195.0 L729.3 195.3 M721.7 187.6 L729.3 195.3 M729.3 187.9 L720.7 195.0 M719.6 202.5 L729.2 203.0 M720.7 195.0 L729.2 203.0 M729.3 195.3 L719.6 202.5 M718.5 210.3 L729.1 210.8 M719.6 202.5 L729.1 210.8 M729.2 203.0 L718.5 210.3 M717.4 218.3 L729.0 218.9 M718.5 210.3 L729.0 218.9 M729.1 210.8 L717.4 218.3 M716.2 226.5 L728.9 227.1 M717.4 218.3 L728.9 227.1 M729.0 218.9 L716.2 226.5 M715.0 234.8 L728.8 235.5 M716.2 226.5 L728.8 235.5 M728.9 227.1 L715.0 234.8 M713.8 243.3 L728.7 244.1 M715.0 234.8 L728.7 244.1 M728.8 235.5 L713.8 243.3 M712.6 252.0 L728.6 252.8 M713.8 243.3 L728.6 252.8 M728.7 244.1 L712.6 252.0 " stroke="#8d9296" stroke-width="0.7" fill="none"/>
<path d="M685.0 181.6 L722.6 170.5 L723.6 186.0 Z M768.0 186.8 L732.2 173.2 L730.6 186.6 Z" fill="#d9dde2" fill-opacity="0.5" stroke="#8d9296" stroke-width="1"/>
<path d="M690.4 180.0 L690.5 182.2 L695.6 178.5 M762.9 184.9 L762.7 186.8 L757.9 183.0 M695.7 178.4 L696.0 182.9 L701.0 176.9 M757.8 182.9 L757.3 186.7 L752.8 181.0 M701.1 176.8 L701.5 183.5 L706.4 175.3 M752.7 181.0 L752.0 186.7 L747.6 179.1 M706.5 175.3 L707.1 184.1 L711.7 173.7 M747.5 179.0 L746.6 186.7 L742.5 177.1 M711.9 173.7 L712.6 184.7 L717.1 172.1 M742.4 177.1 L741.3 186.7 L737.4 175.2 M717.2 172.1 L718.1 185.4 L717.2 172.1 M737.3 175.1 L735.9 186.6 L737.3 175.1 " stroke="#8d9296" stroke-width="0.6" fill="none"/>
<line x1="687.4" y1="183.0" x2="687.2" y2="191.0" stroke="#5e6266" stroke-width="1.5"/>
<line x1="687.2" y1="191.0" x2="687.1" y2="194.0" stroke="#3f6cb0" stroke-width="1.1"/>
<line x1="706.3" y1="184.5" x2="706.1" y2="192.5" stroke="#5e6266" stroke-width="1.5"/>
<line x1="706.1" y1="192.5" x2="706.0" y2="195.5" stroke="#3f6cb0" stroke-width="1.1"/>
<line x1="743.9" y1="186.3" x2="743.7" y2="194.3" stroke="#5e6266" stroke-width="1.5"/>
<line x1="743.7" y1="194.3" x2="743.6" y2="197.3" stroke="#3f6cb0" stroke-width="1.1"/>
<line x1="762.7" y1="187.6" x2="762.5" y2="195.6" stroke="#5e6266" stroke-width="1.5"/>
<line x1="762.5" y1="195.6" x2="762.4" y2="198.6" stroke="#3f6cb0" stroke-width="1.1"/>
<rect x="710.6" y="251.2" width="4.2" height="2.6" fill="#9a9ea2"/><rect x="726.6" y="252" width="4.2" height="2.6" fill="#9a9ea2"/><rect x="720.6" y="249" width="3.2" height="2" fill="#aaaeb2"/>
<polygon points="415.4,99.3 426.2,92.2 426.2,95.4 446.8,96.8 447.2,142.1 440.0,141.4 438.8,103.9 426.2,103.0 426.2,107.0" fill="#1d539f"/>
<polygon points="453.8,97.7 474.9,98.3 474.9,94.2 486.1,102.6 474.9,110.0 474.9,106.0 462.6,105.7 463.4,143.4 455.4,142.6" fill="#1d539f"/>
<polygon points="338.0,40.0 404.0,42.0 408.0,131.0 342.0,127.0" fill="#b9cbe4" fill-opacity="0.7" filter="url(#blur2)"/>
<path d="M334.6 38.6 Q334.4 35.4 337.6 35.6 L398.4 38.8 Q401.6 39.0 401.7 42.2 L404.9 125.5 Q405.0 128.7 401.8 128.5 L342.1 123.8 Q338.9 123.6 338.7 120.4 Z" fill="#141414" />
<path d="M335.3 39.0 Q335.2 36.2 338.0 36.3 L398.1 39.6 Q400.9 39.7 401.0 42.5 L404.1 125.2 Q404.2 128.0 401.4 127.8 L342.4 123.1 Q339.6 122.9 339.5 120.1 Z" fill="#222324" />
<polygon points="341.7,43.7 396.1,46.1 398.5,119.7 345.1,115.6" fill="#fbfcfd"/>
<polygon points="341.7,43.7 396.1,46.1 396.2,49.0 341.8,46.6" fill="#ef8a24" fill-opacity="1"/>
<polygon points="343.9,44.7 350.4,45.0 350.5,46.1 344.0,45.8" fill="#fbd9b0" fill-opacity="0.9"/>
<polygon points="344.7,49.9 356.1,50.5 356.2,51.6 344.8,51.0" fill="#b9cdea" fill-opacity="0.9"/>
<polygon points="369.4,57.3 374.3,57.5 374.4,60.4 369.5,60.2" fill="#5a9be0" fill-opacity="1"/>
<polygon points="377.0,57.6 382.4,57.9 382.5,60.8 377.1,60.6" fill="#5a9be0" fill-opacity="1"/>
<polygon points="386.8,58.9 393.8,59.2 393.9,60.5 386.8,60.2" fill="#c9ced6" fill-opacity="1"/>
<polygon points="345.2,61.5 354.4,61.9 354.5,62.9 345.3,62.4" fill="#bfc9d8" fill-opacity="1"/>
<polygon points="344.3,64.3 395.2,67.0 395.2,67.4 344.3,64.6" fill="#e3e7ec" fill-opacity="1"/>
<polygon points="358.9,66.1 394.1,68.0 394.1,68.9 359.0,67.0" fill="#d5dae2" fill-opacity="1"/>
<polygon points="353.6,68.0 394.2,70.2 394.2,71.1 353.7,68.9" fill="#dde1e8" fill-opacity="1"/>
<polygon points="385.1,71.6 394.2,72.1 394.3,72.8 385.1,72.3" fill="#cfd5dd" fill-opacity="1"/>
<polygon points="393.3,75.3 394.9,75.4 394.9,76.9 393.3,76.8" fill="#556" fill-opacity="1"/>
<polygon points="355.5,85.1 356.4,85.1 356.7,90.9 355.7,90.8" fill="#e9956a" fill-opacity="1"/>
<polygon points="356.4,86.3 357.1,86.3 357.3,90.9 356.6,90.9" fill="#b7795a" fill-opacity="0.9"/>
<polygon points="359.0,83.1 360.0,83.2 360.3,91.1 359.4,91.1" fill="#e9956a" fill-opacity="1"/>
<polygon points="360.0,84.8 360.7,84.8 361.0,91.2 360.2,91.1" fill="#b7795a" fill-opacity="0.9"/>
<polygon points="362.8,86.2 363.8,86.3 364.0,91.4 363.0,91.3" fill="#e9956a" fill-opacity="1"/>
<polygon points="363.7,87.3 364.5,87.4 364.6,91.4 363.9,91.4" fill="#b7795a" fill-opacity="0.9"/>
<polygon points="366.3,82.8 367.3,82.9 367.7,91.6 366.7,91.6" fill="#e9956a" fill-opacity="1"/>
<polygon points="367.3,84.6 368.0,84.7 368.3,91.7 367.5,91.6" fill="#b7795a" fill-opacity="0.9"/>
<polygon points="370.0,82.7 370.9,82.8 371.3,91.9 370.3,91.8" fill="#e9956a" fill-opacity="1"/>
<polygon points="370.9,84.6 371.7,84.6 372.0,91.9 371.2,91.9" fill="#b7795a" fill-opacity="0.9"/>
<polygon points="373.6,82.6 374.6,82.6 375.0,92.1 374.0,92.0" fill="#e9956a" fill-opacity="1"/>
<polygon points="374.6,84.5 375.3,84.6 375.6,92.1 374.9,92.1" fill="#b7795a" fill-opacity="0.9"/>
<polygon points="377.4,85.0 378.3,85.0 378.6,92.3 377.7,92.3" fill="#e9956a" fill-opacity="1"/>
<polygon points="378.3,86.5 379.0,86.5 379.3,92.4 378.5,92.3" fill="#b7795a" fill-opacity="0.9"/>
<polygon points="353.0,90.7 382.6,92.6 382.6,93.1 353.1,91.2" fill="#d9dde3" fill-opacity="1"/>
<polygon points="353.7,94.0 365.5,94.7 365.6,95.5 353.7,94.7" fill="#cdd3db" fill-opacity="1"/>
<polygon points="377.3,95.5 387.0,96.2 387.0,96.9 377.4,96.3" fill="#cdd3db" fill-opacity="1"/>
<polygon points="384.5,86.5 386.7,86.6 386.9,94.0 384.8,93.8" fill="#e6e9ee" fill-opacity="1"/>
<polygon points="356.2,101.7 357.2,101.8 357.4,107.5 356.5,107.5" fill="#e56a9a" fill-opacity="1"/>
<polygon points="357.0,102.6 357.8,102.7 358.1,107.6 357.2,107.5" fill="#7a6fd0" fill-opacity="0.85"/>
<polygon points="359.8,100.5 360.7,100.6 361.1,107.8 360.1,107.7" fill="#e56a9a" fill-opacity="1"/>
<polygon points="360.6,101.6 361.4,101.7 361.7,107.8 360.8,107.8" fill="#7a6fd0" fill-opacity="0.85"/>
<polygon points="363.5,102.6 364.5,102.6 364.7,108.1 363.7,108.0" fill="#e56a9a" fill-opacity="1"/>
<polygon points="364.3,103.4 365.1,103.5 365.3,108.1 364.5,108.1" fill="#7a6fd0" fill-opacity="0.85"/>
<polygon points="367.1,101.4 368.1,101.4 368.3,108.3 367.4,108.3" fill="#e56a9a" fill-opacity="1"/>
<polygon points="367.9,102.4 368.7,102.5 369.0,108.4 368.1,108.3" fill="#7a6fd0" fill-opacity="0.85"/>
<polygon points="370.7,100.2 371.6,100.2 372.0,108.6 371.0,108.5" fill="#e56a9a" fill-opacity="1"/>
<polygon points="371.5,101.5 372.3,101.5 372.6,108.6 371.8,108.6" fill="#7a6fd0" fill-opacity="0.85"/>
<polygon points="374.3,100.0 375.3,100.1 375.6,108.9 374.6,108.8" fill="#e56a9a" fill-opacity="1"/>
<polygon points="375.1,101.4 376.0,101.5 376.3,108.9 375.4,108.8" fill="#7a6fd0" fill-opacity="0.85"/>
<polygon points="378.0,101.8 379.0,101.8 379.3,109.1 378.3,109.1" fill="#e56a9a" fill-opacity="1"/>
<polygon points="378.8,102.9 379.7,103.0 379.9,109.2 379.0,109.1" fill="#7a6fd0" fill-opacity="0.85"/>
<polygon points="353.8,107.3 383.2,109.4 383.2,109.9 353.8,107.8" fill="#c9cfe6" fill-opacity="1"/>
<polygon points="355.5,109.2 368.3,110.1 368.3,110.9 355.5,109.9" fill="#cdd3db" fill-opacity="1"/>
<polygon points="374.2,110.9 382.2,111.5 382.3,112.3 374.2,111.7" fill="#cdd3db" fill-opacity="1"/>
<polygon points="365.3,113.9 378.1,114.9 378.1,115.6 365.3,114.6" fill="#c7ccd4" fill-opacity="1"/>
<polygon points="387.2,102.8 394.2,103.2 394.2,104.0 387.3,103.5" fill="#d5dae2" fill-opacity="1"/>
<polygon points="387.4,106.4 394.3,106.9 394.4,107.7 387.4,107.2" fill="#d5dae2" fill-opacity="1"/>
<circle cx="371.9" cy="123.8" r="1.8" fill="#2c2d2f" stroke="#6a6c70" stroke-width="0.5"/>
<polygon points="505.0,14.0 663.0,16.0 658.0,129.0 503.0,120.0" fill="#b9cbe4" fill-opacity="0.55" filter="url(#blur2)"/>
<ellipse cx="575" cy="139.6" rx="22" ry="1.8" fill="#c3cfe0" fill-opacity="0.7" filter="url(#blur1)"/>
<polygon points="563.9,119.5 593.9,122.0 595.8,139.2 553.8,138.4" fill="url(#stand)"/>
<polygon points="563.9,120.5 593.9,122.6 594.3,126.6 561.6,124.6" fill="#8f9b9c" fill-opacity="0.5"/>
<path d="M499.5 7.7 Q499.6 5.2 502.1 5.3 L657.5 11.1 Q660.0 11.2 659.9 13.7 L654.1 122.1 Q654.0 124.6 651.5 124.4 L499.9 115.2 Q497.4 115.0 497.5 112.5 Z" fill="#111214" />
<path d="M500.4 8.0 Q500.4 6.0 502.4 6.1 L657.2 11.9 Q659.2 12.0 659.1 14.0 L653.3 121.6 Q653.2 123.6 651.2 123.5 L500.3 114.3 Q498.3 114.2 498.3 112.2 Z" fill="#1d1e20" />
<polygon points="506.0,13.0 653.5,18.4 648.0,118.0 504.7,109.2" fill="#fcfdfe"/>
<polygon points="506.0,13.0 653.5,18.4 653.3,21.2 506.0,15.7" fill="#ef8a24" fill-opacity="1"/>
<polygon points="506.0,15.7 523.9,16.4 522.2,110.3 504.7,109.2" fill="#f3f5f7" fill-opacity="1"/>
<polygon points="523.8,16.4 524.2,16.4 522.5,110.3 522.0,110.3" fill="#dfe3e8" fill-opacity="1"/>
<polygon points="507.7,16.9 511.8,17.1 511.8,19.2 507.7,19.0" fill="#5cb85c" fill-opacity="1"/>
<polygon points="512.1,17.1 516.3,17.2 516.2,19.4 512.1,19.2" fill="#f0c040" fill-opacity="1"/>
<polygon points="516.6,17.2 523.3,17.5 523.3,19.6 516.5,19.4" fill="#8fb8e8" fill-opacity="1"/>
<polygon points="508.5,22.2 509.7,22.3 509.7,23.4 508.5,23.4" fill="#8c96a4" fill-opacity="0.55"/>
<polygon points="510.9,22.3 514.7,22.5 514.7,23.5 510.9,23.4" fill="#aab2be" fill-opacity="0.55"/>
<polygon points="508.5,25.5 509.7,25.6 509.6,26.7 508.5,26.7" fill="#8c96a4" fill-opacity="0.55"/>
<polygon points="510.8,25.6 518.2,25.9 518.2,27.0 510.8,26.7" fill="#aab2be" fill-opacity="0.55"/>
<polygon points="508.4,28.8 509.6,28.8 509.6,30.0 508.4,29.9" fill="#8c96a4" fill-opacity="0.55"/>
<polygon points="510.8,28.9 521.6,29.3 521.6,30.4 510.8,29.9" fill="#aab2be" fill-opacity="0.55"/>
<polygon points="508.4,32.1 509.6,32.1 509.5,33.3 508.4,33.2" fill="#8c96a4" fill-opacity="0.55"/>
<polygon points="510.7,32.2 516.3,32.4 516.3,33.4 510.7,33.2" fill="#aab2be" fill-opacity="0.55"/>
<polygon points="508.3,35.3 509.5,35.4 509.5,36.5 508.3,36.5" fill="#8c96a4" fill-opacity="0.55"/>
<polygon points="510.7,35.4 519.8,35.8 519.7,36.9 510.7,36.5" fill="#aab2be" fill-opacity="0.55"/>
<polygon points="508.3,38.6 509.5,38.7 509.4,39.8 508.3,39.8" fill="#8c96a4" fill-opacity="0.55"/>
<polygon points="510.6,38.7 514.4,38.9 514.4,39.9 510.6,39.8" fill="#aab2be" fill-opacity="0.55"/>
<polygon points="508.2,41.9 509.4,41.9 509.4,43.1 508.2,43.0" fill="#8c96a4" fill-opacity="0.55"/>
<polygon points="510.6,42.0 517.9,42.3 517.9,43.4 510.6,43.0" fill="#aab2be" fill-opacity="0.55"/>
<polygon points="508.2,45.2 509.4,45.2 509.3,46.4 508.2,46.3" fill="#8c96a4" fill-opacity="0.55"/>
<polygon points="510.5,45.3 521.3,45.7 521.3,46.8 510.5,46.3" fill="#aab2be" fill-opacity="0.55"/>
<polygon points="508.2,48.4 509.3,48.5 509.3,49.6 508.1,49.6" fill="#8c96a4" fill-opacity="0.55"/>
<polygon points="510.5,48.5 516.0,48.8 516.0,49.8 510.5,49.6" fill="#aab2be" fill-opacity="0.55"/>
<polygon points="508.1,51.7 509.3,51.8 509.3,52.9 508.1,52.9" fill="#8c96a4" fill-opacity="0.55"/>
<polygon points="510.4,51.8 519.5,52.2 519.5,53.3 510.4,52.9" fill="#aab2be" fill-opacity="0.55"/>
<polygon points="508.1,55.0 509.2,55.0 509.2,56.2 508.0,56.1" fill="#8c96a4" fill-opacity="0.55"/>
<polygon points="510.4,55.1 514.2,55.3 514.2,56.3 510.4,56.1" fill="#aab2be" fill-opacity="0.55"/>
<polygon points="508.0,58.2 509.2,58.3 509.2,59.5 508.0,59.4" fill="#8c96a4" fill-opacity="0.55"/>
<polygon points="510.3,58.4 517.6,58.7 517.6,59.8 510.3,59.4" fill="#aab2be" fill-opacity="0.55"/>
<polygon points="508.0,61.5 509.1,61.6 509.1,62.7 507.9,62.7" fill="#8c96a4" fill-opacity="0.55"/>
<polygon points="510.3,61.6 521.0,62.2 521.0,63.2 510.3,62.7" fill="#aab2be" fill-opacity="0.55"/>
<polygon points="507.9,64.8 509.1,64.8 509.1,66.0 507.9,65.9" fill="#8c96a4" fill-opacity="0.55"/>
<polygon points="510.2,64.9 515.8,65.2 515.7,66.2 510.2,66.0" fill="#aab2be" fill-opacity="0.55"/>
<polygon points="507.9,68.1 509.0,68.1 509.0,69.3 507.9,69.2" fill="#8c96a4" fill-opacity="0.55"/>
<polygon points="510.2,68.2 519.2,68.6 519.2,69.7 510.2,69.2" fill="#aab2be" fill-opacity="0.55"/>
<polygon points="507.8,71.3 509.0,71.4 509.0,72.6 507.8,72.5" fill="#8c96a4" fill-opacity="0.55"/>
<polygon points="510.1,71.5 513.9,71.6 513.9,72.7 510.1,72.5" fill="#aab2be" fill-opacity="0.55"/>
<polygon points="507.8,74.6 508.9,74.7 508.9,75.8 507.8,75.8" fill="#8c96a4" fill-opacity="0.55"/>
<polygon points="510.1,74.7 517.3,75.1 517.3,76.2 510.1,75.8" fill="#aab2be" fill-opacity="0.55"/>
<polygon points="507.7,77.9 508.9,77.9 508.9,79.1 507.7,79.0" fill="#8c96a4" fill-opacity="0.55"/>
<polygon points="510.0,78.0 520.7,78.6 520.7,79.6 510.0,79.1" fill="#aab2be" fill-opacity="0.55"/>
<polygon points="507.7,81.2 508.8,81.2 508.8,82.4 507.7,82.3" fill="#8c96a4" fill-opacity="0.55"/>
<polygon points="510.0,81.3 515.5,81.6 515.5,82.6 510.0,82.3" fill="#aab2be" fill-opacity="0.55"/>
<polygon points="507.6,84.4 508.8,84.5 508.8,85.6 507.6,85.6" fill="#8c96a4" fill-opacity="0.55"/>
<polygon points="509.9,84.6 518.9,85.0 518.9,86.1 509.9,85.6" fill="#aab2be" fill-opacity="0.55"/>
<polygon points="507.6,87.7 508.7,87.8 508.7,88.9 507.6,88.9" fill="#8c96a4" fill-opacity="0.55"/>
<polygon points="509.9,87.8 513.6,88.0 513.6,89.1 509.9,88.9" fill="#aab2be" fill-opacity="0.55"/>
<polygon points="507.5,91.0 508.7,91.0 508.7,92.2 507.5,92.1" fill="#8c96a4" fill-opacity="0.55"/>
<polygon points="509.8,91.1 517.1,91.5 517.0,92.6 509.8,92.2" fill="#aab2be" fill-opacity="0.55"/>
<polygon points="528.7,22.1 544.1,22.7 544.1,23.8 528.7,23.2" fill="#a9c3ea" fill-opacity="1"/>
<polygon points="527.9,25.9 541.1,26.4 541.1,27.5 527.9,27.0" fill="#b5c7e2" fill-opacity="1"/>
<polygon points="624.3,26.1 630.5,26.3 630.4,29.3 624.2,29.0" fill="#4f96e0" fill-opacity="1"/>
<polygon points="633.2,26.4 639.3,26.6 639.2,29.6 633.0,29.4" fill="#4f96e0" fill-opacity="1"/>
<polygon points="643.4,28.0 650.7,28.3 650.7,29.3 643.3,29.0" fill="#c3c9d2" fill-opacity="1"/>
<polygon points="527.8,30.7 650.3,35.7 650.3,36.0 527.8,31.0" fill="#e4e8ed" fill-opacity="1"/>
<polygon points="530.7,31.8 542.4,32.3 542.4,33.3 530.7,32.8" fill="#c5ccd6" fill-opacity="1"/>
<polygon points="568.8,34.9 593.7,35.9 593.7,36.9 568.8,35.8" fill="#c9cfd8" fill-opacity="1"/>
<polygon points="626.1,35.7 650.3,36.7 650.2,37.7 626.0,36.7" fill="#c7d4ea" fill-opacity="1"/>
<polygon points="631.8,39.5 650.1,40.2 650.0,41.2 631.7,40.4" fill="#d5dae2" fill-opacity="1"/>
<path d="M530.4 47.5 L531.2 48.0 L532.1 48.1 L533.0 49.2 L533.8 49.4 L534.7 49.6 L535.6 49.7 L536.5 49.2 L537.4 47.5 L538.3 45.6 L539.2 43.5 L540.1 42.5 L541.0 41.8 L541.9 42.5 L542.7 43.8 L543.6 45.6 L544.4 47.9 L545.2 49.9 L546.1 50.7 L547.0 50.4 L547.9 49.8 L548.7 49.6 L549.6 49.0 L550.5 49.2 L551.4 48.3 L552.3 48.2 L553.2 48.1 L554.0 51.4 L554.8 51.0 L555.7 51.2 L556.6 51.0 L557.5 51.0 L558.3 51.5 L559.3 48.0 L560.2 48.9 L561.0 48.9 L561.9 49.2 L562.8 49.4 L563.6 50.5 L564.5 50.7 L565.4 50.5 L566.2 51.6 L567.1 51.1 L568.1 49.1 L569.0 46.9 L569.9 45.2 L570.9 43.7 L571.8 42.7 L572.6 43.2 L573.5 45.1 L574.3 46.5 L575.1 49.0 L575.9 49.4 L576.8 49.7 L577.7 50.6 L578.5 50.4 L579.4 50.8 L580.3 50.4 L581.2 50.6 L582.1 50.5 L583.0 49.6 L583.9 47.6 L584.8 46.0 L585.8 45.0 L586.7 43.3 L587.6 43.8 L588.4 45.1 L589.2 46.7 L590.0 49.3 L590.8 50.4 L591.7 50.7 L592.6 51.0 L593.4 51.1 L594.3 51.3 L595.2 51.7 L596.1 51.0 L596.9 51.1 L597.8 50.8 L598.7 50.4 L599.7 48.5 L600.6 47.3 L601.6 45.8 L602.5 44.5 L603.3 45.0 L604.2 46.4 L605.0 47.3 L605.8 49.8 L606.6 50.9 L607.5 50.9 L608.3 51.8 L609.2 52.1 L610.1 52.5 L610.9 52.4 L611.8 52.2 L612.7 51.7 L613.6 51.6 L614.5 50.9 L615.5 49.0 L616.4 47.7 L617.4 46.4 L618.3 44.7 L619.2 45.6 L620.0 46.3 L620.8 48.6 L621.6 50.4 L622.4 51.7 L623.3 51.6 L624.1 52.6 L625.0 52.3 L625.8 53.2 L626.7 52.8 L627.6 52.8 L628.5 52.6 L629.4 51.8 L630.3 51.6 L631.3 49.9 L632.2 48.0 L633.2 46.8 L634.1 45.7 L635.0 46.2 L635.8 47.2 L636.6 49.1 L637.3 51.1 L638.1 53.1 L638.9 54.7 L639.8 54.9 L640.7 54.3 L641.6 53.7 L642.5 53.5 L643.4 53.1 L644.3 53.2 L645.2 52.6 L646.0 52.6 L646.8 55.4 L647.7 54.9 L648.5 55.6" fill="none" stroke="#e2583a" stroke-width="0.70" stroke-opacity="1" stroke-linejoin="round"/>
<path d="M530.3 50.3 L531.2 50.7 L532.1 51.1 L532.9 51.4 L533.8 51.0 L534.7 51.1 L535.6 51.0 L536.4 51.7 L537.3 50.4 L538.3 48.0 L539.2 46.7 L540.1 45.5 L541.0 44.1 L541.8 45.4 L542.7 46.5 L543.5 48.2 L544.3 50.8 L545.2 51.6 L546.1 51.9 L546.9 52.1 L547.8 51.8 L548.7 51.9 L549.6 51.8 L550.4 51.5 L551.3 51.7 L552.2 51.3 L553.1 50.9 L553.9 51.9 L554.8 52.0 L555.7 52.1 L556.6 52.5 L557.4 52.4 L558.3 52.1 L559.2 51.0 L560.1 51.7 L561.0 51.8 L561.8 52.3 L562.7 52.7 L563.6 53.0 L564.4 53.0 L565.3 52.5 L566.2 52.9 L567.1 53.1 L568.0 52.2 L568.9 49.7 L569.9 47.9 L570.8 47.1 L571.7 45.4 L572.5 46.2 L573.4 47.7 L574.2 49.3 L575.0 51.5 L575.8 52.3 L576.7 52.7 L577.6 53.0 L578.4 53.3 L579.3 53.7 L580.2 53.4 L581.1 53.3 L582.0 53.0 L582.8 52.7 L583.8 50.9 L584.7 49.5 L585.7 47.7 L586.6 46.4 L587.5 46.7 L588.3 48.5 L589.1 49.6 L589.9 51.9 L590.7 52.9 L591.6 53.5 L592.5 53.9 L593.3 53.7 L594.2 54.3 L595.1 54.4 L595.9 54.2 L596.8 53.9 L597.7 53.5 L598.6 53.4 L599.5 52.0 L600.5 49.5 L601.4 48.7 L602.4 46.9 L603.2 47.3 L604.1 49.1 L604.9 50.4 L605.7 52.7 L606.5 54.0 L607.4 53.7 L608.2 54.0 L609.1 54.4 L609.9 55.0 L610.8 54.8 L611.7 54.6 L612.6 54.4 L613.5 54.4 L614.4 53.9 L615.3 52.0 L616.3 50.6 L617.2 49.1 L618.2 47.9 L619.0 48.3 L619.8 49.9 L620.7 51.0 L621.4 53.2 L622.3 54.2 L623.1 54.8 L624.0 54.8 L624.8 55.5 L625.7 55.5 L626.6 55.8 L627.5 55.2 L628.4 55.0 L629.2 55.2 L630.1 54.9 L631.1 53.4 L632.1 51.0 L633.0 49.6 L633.9 49.0 L634.8 48.6 L635.6 50.4 L636.4 52.2 L637.2 53.7 L638.0 56.3 L638.8 56.3 L639.7 56.2 L640.6 56.2 L641.5 56.5 L642.3 56.6 L643.2 56.6 L644.1 56.1 L645.0 55.4 L645.9 55.3 L646.7 56.1 L647.6 56.2 L648.5 56.3" fill="none" stroke="#d9a26a" stroke-width="0.60" stroke-opacity="0.85" stroke-linejoin="round"/>
<polygon points="539.5,44.5 542.7,44.7 542.6,49.3 539.4,49.2" fill="#9a7248" fill-opacity="0.55"/>
<polygon points="570.4,45.9 573.6,46.0 573.4,50.7 570.2,50.6" fill="#9a7248" fill-opacity="0.55"/>
<polygon points="585.4,46.5 588.6,46.7 588.5,51.4 585.2,51.2" fill="#9a7248" fill-opacity="0.55"/>
<polygon points="601.2,47.2 604.4,47.4 604.2,52.1 601.0,52.0" fill="#9a7248" fill-opacity="0.55"/>
<polygon points="617.0,47.9 620.2,48.1 620.0,52.8 616.8,52.7" fill="#9a7248" fill-opacity="0.55"/>
<polygon points="632.8,48.6 636.0,48.8 635.8,53.5 632.5,53.4" fill="#9a7248" fill-opacity="0.55"/>
<polygon points="530.3,52.6 649.1,58.1 649.1,58.5 530.3,53.0" fill="#e0e4ea" fill-opacity="1"/>
<polygon points="566.7,55.5 578.3,56.0 578.3,56.9 566.7,56.4" fill="#c9cfd8" fill-opacity="1"/>
<polygon points="595.8,58.1 607.4,58.7 607.4,59.6 595.8,59.0" fill="#c9cfd8" fill-opacity="1"/>
<polygon points="527.6,39.9 528.3,40.0 528.0,56.4 527.3,56.4" fill="#f0a050" fill-opacity="0.6"/>
<path d="M533.9 74.9 L534.8 60.4 L536.0 57.6 L541.1 57.8 L542.2 60.8 L542.4 75.4" fill="none" stroke="#4a7fd0" stroke-width="1.00" stroke-opacity="1" stroke-linejoin="round"/>
<polygon points="535.7,57.0 541.4,57.2 541.4,58.6 535.7,58.3" fill="#3f6fc4" fill-opacity="0.55"/>
<polygon points="535.4,60.4 536.5,60.5 536.2,74.1 535.0,74.0" fill="#e2506a" fill-opacity="0.7"/>
<polygon points="540.2,60.7 541.3,60.7 541.0,74.3 539.8,74.2" fill="#e2506a" fill-opacity="0.7"/>
<polygon points="534.6,60.4 535.4,60.4 535.1,73.0 534.3,73.0" fill="#7a9ae4" fill-opacity="0.6"/>
<polygon points="541.6,60.7 542.3,60.8 542.0,73.4 541.3,73.3" fill="#7a9ae4" fill-opacity="0.6"/>
<path d="M548.1 75.6 L549.0 61.1 L550.3 58.2 L556.1 58.5 L557.2 61.5 L557.3 76.1" fill="none" stroke="#4a7fd0" stroke-width="1.00" stroke-opacity="1" stroke-linejoin="round"/>
<polygon points="550.0,57.6 556.4,57.9 556.4,59.3 550.0,59.0" fill="#3f6fc4" fill-opacity="0.55"/>
<polygon points="550.8,71.9 554.8,72.1 554.8,74.5 550.7,74.3" fill="#e2506a" fill-opacity="0.7"/>
<polygon points="548.9,61.1 549.6,61.1 549.3,73.8 548.5,73.7" fill="#7a9ae4" fill-opacity="0.6"/>
<polygon points="556.6,61.5 557.3,61.5 557.0,74.2 556.2,74.1" fill="#7a9ae4" fill-opacity="0.6"/>
<path d="M562.3 76.4 L563.3 61.8 L564.5 58.9 L569.6 59.2 L570.7 62.1 L570.8 76.8" fill="none" stroke="#4a7fd0" stroke-width="1.00" stroke-opacity="1" stroke-linejoin="round"/>
<polygon points="564.3,58.3 569.9,58.6 569.9,59.9 564.2,59.7" fill="#3f6fc4" fill-opacity="0.55"/>
<path d="M563.7 75.7 L565.5 64.0 L566.3 75.8 Z" fill="#e2446a" fill-opacity="0.75"/>
<path d="M565.2 75.8 L567.1 61.2 L567.8 75.9 Z" fill="#e2446a" fill-opacity="0.75"/>
<path d="M566.8 75.8 L568.6 63.2 L569.4 76.0 Z" fill="#e2446a" fill-opacity="0.75"/>
<polygon points="563.1,61.8 563.9,61.8 563.5,74.5 562.8,74.5" fill="#7a9ae4" fill-opacity="0.6"/>
<polygon points="570.1,62.1 570.9,62.1 570.4,74.8 569.7,74.8" fill="#7a9ae4" fill-opacity="0.6"/>
<path d="M576.5 77.1 L577.5 62.5 L578.8 59.6 L583.9 59.8 L585.0 62.8 L585.0 77.6" fill="none" stroke="#4a7fd0" stroke-width="1.00" stroke-opacity="1" stroke-linejoin="round"/>
<polygon points="578.5,59.0 584.2,59.3 584.2,60.6 578.5,60.4" fill="#3f6fc4" fill-opacity="0.55"/>
<path d="M577.9 76.4 L579.8 64.7 L580.5 76.5 Z" fill="#e2446a" fill-opacity="0.75"/>
<path d="M579.4 76.5 L581.4 61.9 L582.0 76.6 Z" fill="#e2446a" fill-opacity="0.75"/>
<path d="M581.0 76.6 L582.9 63.9 L583.6 76.7 Z" fill="#e2446a" fill-opacity="0.75"/>
<polygon points="577.4,62.5 578.1,62.5 577.7,75.2 577.0,75.2" fill="#7a9ae4" fill-opacity="0.6"/>
<polygon points="584.4,62.8 585.1,62.8 584.6,75.6 583.9,75.5" fill="#7a9ae4" fill-opacity="0.6"/>
<path d="M590.7 77.9 L591.8 63.2 L593.1 60.3 L597.6 60.5 L598.6 63.5 L598.6 78.3" fill="none" stroke="#4a7fd0" stroke-width="1.00" stroke-opacity="1" stroke-linejoin="round"/>
<polygon points="592.8,59.7 597.9,59.9 597.9,61.3 592.8,61.0" fill="#3f6fc4" fill-opacity="0.55"/>
<path d="M591.9 77.1 L593.8 65.4 L594.5 77.3 Z" fill="#e2446a" fill-opacity="0.75"/>
<path d="M593.3 77.2 L595.4 62.5 L596.0 77.3 Z" fill="#e2446a" fill-opacity="0.75"/>
<path d="M594.8 77.3 L596.7 64.6 L597.4 77.4 Z" fill="#e2446a" fill-opacity="0.75"/>
<polygon points="591.7,63.1 592.4,63.2 591.9,76.0 591.2,75.9" fill="#7a9ae4" fill-opacity="0.6"/>
<polygon points="598.1,63.5 598.8,63.5 598.3,76.3 597.5,76.2" fill="#7a9ae4" fill-opacity="0.6"/>
<path d="M605.0 78.6 L606.2 63.9 L607.5 61.0 L611.9 61.2 L612.9 64.2 L612.8 79.0" fill="none" stroke="#4a7fd0" stroke-width="1.00" stroke-opacity="1" stroke-linejoin="round"/>
<polygon points="607.2,60.3 612.2,60.6 612.1,62.0 607.2,61.7" fill="#3f6fc4" fill-opacity="0.55"/>
<path d="M606.2 77.9 L608.2 66.1 L608.8 78.0 Z" fill="#e2446a" fill-opacity="0.75"/>
<path d="M607.6 78.0 L609.7 63.2 L610.2 78.1 Z" fill="#e2446a" fill-opacity="0.75"/>
<path d="M609.0 78.0 L611.0 65.3 L611.6 78.2 Z" fill="#e2446a" fill-opacity="0.75"/>
<polygon points="606.1,63.8 606.8,63.9 606.2,76.7 605.5,76.7" fill="#7a9ae4" fill-opacity="0.6"/>
<polygon points="612.3,64.1 613.0,64.2 612.5,77.0 611.7,77.0" fill="#7a9ae4" fill-opacity="0.6"/>
<path d="M619.2 79.3 L620.5 64.5 L621.8 61.6 L626.1 61.8 L627.2 64.9 L627.0 79.8" fill="none" stroke="#4a7fd0" stroke-width="1.00" stroke-opacity="1" stroke-linejoin="round"/>
<polygon points="621.5,61.0 626.5,61.3 626.4,62.6 621.4,62.4" fill="#3f6fc4" fill-opacity="0.55"/>
<path d="M620.4 78.6 L622.4 66.8 L623.0 78.7 Z" fill="#e2446a" fill-opacity="0.75"/>
<path d="M621.8 78.7 L624.0 63.9 L624.4 78.8 Z" fill="#e2446a" fill-opacity="0.75"/>
<path d="M623.2 78.8 L625.3 66.0 L625.8 78.9 Z" fill="#e2446a" fill-opacity="0.75"/>
<polygon points="620.3,64.5 621.0,64.6 620.4,77.4 619.7,77.4" fill="#7a9ae4" fill-opacity="0.6"/>
<polygon points="626.6,64.8 627.3,64.9 626.7,77.7 625.9,77.7" fill="#7a9ae4" fill-opacity="0.6"/>
<polygon points="529.7,78.3 635.4,83.9 635.4,84.3 529.7,78.7" fill="#d4dae4" fill-opacity="1"/>
<polygon points="631.8,67.3 648.6,68.1 648.5,68.9 631.8,68.1" fill="#d0d5dd" fill-opacity="1"/>
<polygon points="634.6,71.4 648.4,72.1 648.3,72.8 634.5,72.1" fill="#d8dce3" fill-opacity="1"/>
<polygon points="634.4,75.4 648.1,76.1 648.1,76.8 634.3,76.1" fill="#d8dce3" fill-opacity="1"/>
<polygon points="548.5,81.2 563.0,82.0 562.9,82.8 548.5,82.0" fill="#c9cfd8" fill-opacity="1"/>
<polygon points="594.8,83.7 609.2,84.5 609.2,85.3 594.7,84.5" fill="#c9cfd8" fill-opacity="1"/>
<polygon points="526.7,83.0 536.1,83.5 536.1,85.4 526.7,84.9" fill="#8a929e" fill-opacity="1"/>
<polygon points="546.9,87.9 558.4,88.6 558.4,89.6 546.8,88.9" fill="#b9c0ca" fill-opacity="1"/>
<polygon points="608.9,91.4 614.7,91.7 614.7,92.7 608.9,92.4" fill="#b9c0ca" fill-opacity="1"/>
<polygon points="562.9,84.9 591.8,86.5 591.7,87.2 562.8,85.6" fill="#d8dce3" fill-opacity="1"/>
<polygon points="617.8,87.9 635.1,88.8 635.1,89.5 617.7,88.6" fill="#d8dce3" fill-opacity="1"/>
<polygon points="530.2,91.4 531.6,91.5 531.3,101.1 530.0,101.1" fill="#3f7fd0" fill-opacity="1"/>
<polygon points="532.2,91.5 533.5,91.6 533.3,101.3 532.0,101.2" fill="#3f7fd0" fill-opacity="1"/>
<polygon points="534.2,91.6 535.5,91.7 535.3,101.4 533.9,101.3" fill="#3f7fd0" fill-opacity="1"/>
<polygon points="536.2,91.7 537.5,91.8 537.3,101.5 535.9,101.4" fill="#3f7fd0" fill-opacity="1"/>
<polygon points="538.1,91.8 539.5,91.9 539.3,101.6 537.9,101.5" fill="#3f7fd0" fill-opacity="1"/>
<polygon points="540.1,91.9 541.5,92.0 541.3,101.7 539.9,101.6" fill="#3f7fd0" fill-opacity="1"/>
<polygon points="542.1,92.1 543.5,92.1 543.2,101.8 541.9,101.8" fill="#3f7fd0" fill-opacity="1"/>
<polygon points="544.1,92.2 545.5,92.2 545.2,102.0 543.9,101.9" fill="#3f7fd0" fill-opacity="1"/>
<polygon points="546.1,92.3 547.5,92.4 547.2,102.1 545.8,102.0" fill="#3f7fd0" fill-opacity="1"/>
<polygon points="548.1,92.4 549.5,92.5 549.2,102.2 547.8,102.1" fill="#3f7fd0" fill-opacity="1"/>
<polygon points="550.1,92.5 551.4,92.6 551.2,102.3 549.8,102.2" fill="#3f7fd0" fill-opacity="1"/>
<polygon points="552.1,92.6 553.4,92.7 553.2,102.4 551.8,102.3" fill="#3f7fd0" fill-opacity="1"/>
<polygon points="554.1,92.7 555.4,92.8 555.1,102.5 553.8,102.5" fill="#3f7fd0" fill-opacity="1"/>
<polygon points="556.0,92.8 557.4,92.9 557.1,102.7 555.8,102.6" fill="#3f7fd0" fill-opacity="1"/>
<polygon points="558.0,92.9 559.4,93.0 559.1,102.8 557.7,102.7" fill="#3f7fd0" fill-opacity="1"/>
<polygon points="560.0,93.1 561.4,93.1 561.1,102.9 559.7,102.8" fill="#3f7fd0" fill-opacity="1"/>
<polygon points="562.0,93.2 563.4,93.3 563.1,103.0 561.7,102.9" fill="#3f7fd0" fill-opacity="1"/>
<polygon points="564.0,93.3 565.4,93.4 565.1,103.1 563.7,103.0" fill="#3f7fd0" fill-opacity="1"/>
<polygon points="566.0,93.4 567.4,93.5 567.0,103.2 565.7,103.2" fill="#3f7fd0" fill-opacity="1"/>
<polygon points="568.0,93.5 569.3,93.6 569.0,103.4 567.7,103.3" fill="#3f7fd0" fill-opacity="1"/>
<polygon points="591.2,102.1 592.9,102.2 592.7,105.9 591.0,105.8" fill="#2f70c4" fill-opacity="1"/>
<polygon points="594.0,100.5 595.8,100.6 595.5,106.1 593.8,106.0" fill="#2f70c4" fill-opacity="1"/>
<polygon points="596.9,98.9 598.6,99.0 598.3,106.3 596.6,106.2" fill="#2f70c4" fill-opacity="1"/>
<polygon points="599.8,97.6 601.5,97.7 601.1,106.4 599.4,106.3" fill="#2f70c4" fill-opacity="1"/>
<polygon points="602.6,96.6 604.4,96.7 603.9,106.6 602.2,106.5" fill="#2f70c4" fill-opacity="1"/>
<polygon points="605.5,95.8 607.2,95.9 606.7,106.8 605.0,106.7" fill="#2f70c4" fill-opacity="1"/>
<polygon points="608.3,95.4 610.1,95.5 609.5,106.9 607.8,106.8" fill="#2f70c4" fill-opacity="1"/>
<polygon points="611.1,96.1 612.8,96.2 612.4,107.1 610.6,107.0" fill="#2f70c4" fill-opacity="1"/>
<polygon points="613.9,97.2 615.6,97.3 615.2,107.3 613.4,107.2" fill="#2f70c4" fill-opacity="1"/>
<polygon points="616.6,98.6 618.4,98.7 618.0,107.4 616.2,107.3" fill="#2f70c4" fill-opacity="1"/>
<polygon points="619.4,100.2 621.1,100.3 620.8,107.6 619.0,107.5" fill="#2f70c4" fill-opacity="1"/>
<polygon points="622.1,101.5 623.9,101.6 623.6,107.8 621.8,107.7" fill="#2f70c4" fill-opacity="1"/>
<polygon points="624.9,102.9 626.6,103.0 626.4,107.9 624.6,107.8" fill="#2f70c4" fill-opacity="1"/>
<polygon points="574.1,93.9 582.8,94.3 582.8,95.3 574.1,94.8" fill="#d0d5dd" fill-opacity="1"/>
<polygon points="573.9,99.7 579.7,100.1 579.7,101.0 573.9,100.7" fill="#d0d5dd" fill-opacity="1"/>
<polygon points="573.7,105.6 582.4,106.1 582.3,107.1 573.7,106.6" fill="#d0d5dd" fill-opacity="1"/>
<polygon points="634.7,97.3 644.8,97.8 644.7,98.8 634.6,98.3" fill="#d0d5dd" fill-opacity="1"/>
<polygon points="637.3,103.4 644.5,103.8 644.4,104.8 637.2,104.4" fill="#d0d5dd" fill-opacity="1"/>
<polygon points="634.1,109.2 644.1,109.8 644.1,110.8 634.0,110.2" fill="#d0d5dd" fill-opacity="1"/>
<polygon points="526.3,104.2 532.1,104.6 532.0,105.5 526.3,105.2" fill="#c3c9d2" fill-opacity="1"/>
<text x="335.8" y="148.4" font-size="14.2" font-weight="bold" fill="#1f4f99" text-anchor="start" textLength="71.2" lengthAdjust="spacingAndGlyphs" stroke="#1f4f99" stroke-width="0.3" stroke-linejoin="round" transform="rotate(2.40 335.8 148.4)">Mobile Device</text>
<text x="523.8" y="159.2" font-size="14.4" font-weight="bold" fill="#1f4f99" text-anchor="start" textLength="100.0" lengthAdjust="spacingAndGlyphs" stroke="#1f4f99" stroke-width="0.3" stroke-linejoin="round" transform="rotate(2.00 523.8 159.2)">Webportal SCADA</text>
<text x="694.8" y="117.0" font-size="13.6" font-weight="bold" fill="#1f4f99" text-anchor="start" textLength="82.8" lengthAdjust="spacingAndGlyphs" stroke="#1f4f99" stroke-width="0.3" stroke-linejoin="round" transform="rotate(2.40 694.8 117.0)">Grid Operator</text>
<text x="717.0" y="135.0" font-size="13.6" font-weight="bold" fill="#1f4f99" text-anchor="start" textLength="59.6" lengthAdjust="spacingAndGlyphs" stroke="#1f4f99" stroke-width="0.3" stroke-linejoin="round" transform="rotate(2.20 717.0 135.0)">IEC 60870</text>
<text x="738.9" y="152.0" font-size="13.6" font-weight="bold" fill="#1f4f99" text-anchor="start" textLength="36.0" lengthAdjust="spacingAndGlyphs" stroke="#1f4f99" stroke-width="0.3" stroke-linejoin="round" transform="rotate(2.20 738.9 152.0)">DNP 3</text>
<text x="478.3" y="192.2" font-size="12.8" font-weight="bold" fill="#ee8a2a" text-anchor="start" textLength="53.3" lengthAdjust="spacingAndGlyphs" stroke="#ee8a2a" stroke-width="0.3" stroke-linejoin="round" transform="rotate(3.30 478.3 192.2)">IEC 61724</text>
<text x="478.3" y="206.3" font-size="12.8" font-weight="bold" fill="#ee8a2a" text-anchor="start" textLength="31.6" lengthAdjust="spacingAndGlyphs" stroke="#ee8a2a" stroke-width="0.3" stroke-linejoin="round" transform="rotate(3.30 478.3 206.3)">based</text>
<text x="478.6" y="221.7" font-size="12.8" font-weight="bold" fill="#ee8a2a" text-anchor="start" textLength="58.8" lengthAdjust="spacingAndGlyphs" stroke="#ee8a2a" stroke-width="0.3" stroke-linejoin="round" transform="rotate(3.30 478.6 221.7)">Monitoring</text>
<text x="290.3" y="233.0" font-size="12.2" font-weight="bold" fill="#ee8a2a" text-anchor="start" textLength="59.3" lengthAdjust="spacingAndGlyphs" stroke="#ee8a2a" stroke-width="0.3" stroke-linejoin="round" transform="rotate(2.80 290.3 233.0)">Meteo Data</text>
<text x="328.0" y="257.7" font-size="12.2" font-weight="bold" fill="#ee8a2a" text-anchor="start" textLength="43.9" lengthAdjust="spacingAndGlyphs" stroke="#ee8a2a" stroke-width="0.3" stroke-linejoin="round" transform="rotate(2.80 328.0 257.7)">Data Bus</text>
<text x="385.2" y="283.6" font-size="12.2" font-weight="bold" fill="#2d79c7" text-anchor="start" textLength="31.2" lengthAdjust="spacingAndGlyphs" stroke="#2d79c7" stroke-width="0.3" stroke-linejoin="round" transform="rotate(2.80 385.2 283.6)">Power</text>
<text x="384.5" y="322.6" font-size="12.2" font-weight="bold" fill="#ee8a2a" text-anchor="start" textLength="63.5" lengthAdjust="spacingAndGlyphs" stroke="#ee8a2a" stroke-width="0.3" stroke-linejoin="round" transform="rotate(2.80 384.5 322.6)">string.bloxx</text>
<text x="616.6" y="239.4" font-size="18.6" font-weight="normal" fill="#ee8a2a" text-anchor="start" textLength="33.0" lengthAdjust="spacingAndGlyphs" transform="rotate(3.40 616.6 239.4)">COS</text>
<text x="654.0" y="241.4" font-size="22.5" font-weight="normal" fill="#ee8a2a" text-anchor="start" textLength="16.0" lengthAdjust="spacingAndGlyphs" transform="rotate(3.40 654.0 241.4)">φ</text>
</svg>
</body></html>
